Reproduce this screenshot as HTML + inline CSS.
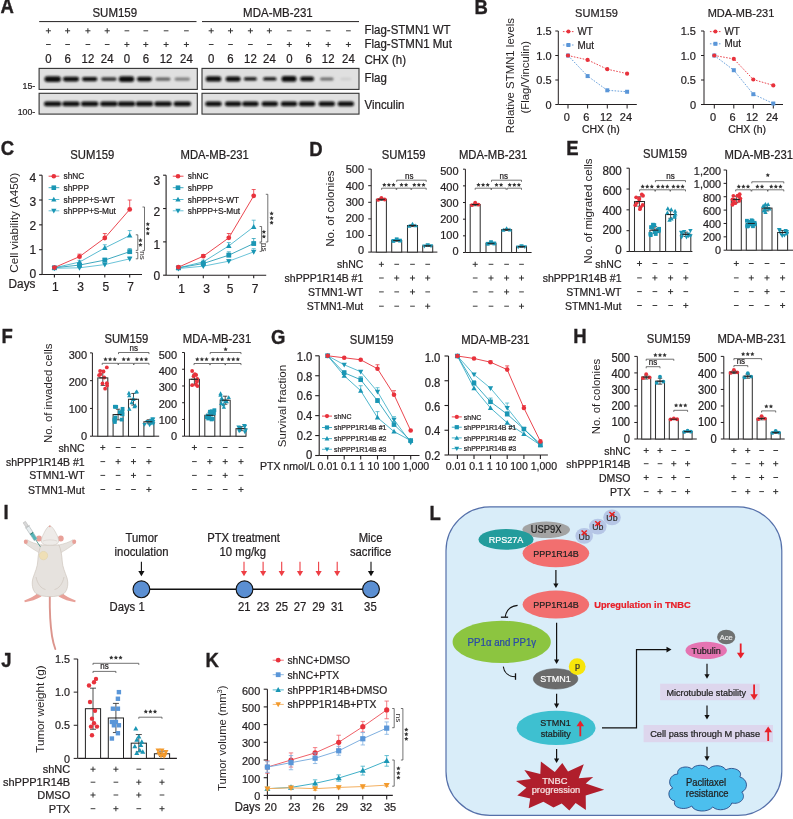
<!DOCTYPE html>
<html><head><meta charset="utf-8"><title>Figure</title>
<style>
html,body{margin:0;padding:0;background:#fff;}
body{width:793px;height:819px;overflow:hidden;}
svg{display:block;font-family:"Liberation Sans", sans-serif;filter:blur(0.35px);}
</style></head><body>
<svg width="793" height="819" viewBox="0 0 793 819">
<defs><filter id="blur1" x="-30%" y="-80%" width="160%" height="260%"><feGaussianBlur stdDeviation="0.8"/></filter></defs>
<rect width="793" height="819" fill="#fff"/>
<text x="0.50" y="12.95" font-size="18.5" text-anchor="start" fill="#231f20" font-weight="bold" transform="matrix(1 0 0 1.07 0 -0.440)" stroke="#231f20" stroke-width="0.35">A</text>
<text x="114.80" y="16.60" font-size="11.5" text-anchor="middle" fill="#231f20" transform="matrix(1 0 0 1.07 0 -0.872)" stroke="#231f20" stroke-width="0.22">SUM159</text>
<line x1="39.20" y1="21.60" x2="196.50" y2="21.60" stroke="#231f20" stroke-width="1"/>
<text x="277.90" y="16.60" font-size="11.5" text-anchor="middle" fill="#231f20" transform="matrix(1 0 0 1.07 0 -0.872)" stroke="#231f20" stroke-width="0.22">MDA-MB-231</text>
<line x1="202.00" y1="21.60" x2="359.00" y2="21.60" stroke="#231f20" stroke-width="1"/>
<line x1="45.85" y1="30.80" x2="50.95" y2="30.80" stroke="#333" stroke-width="1.0"/>
<line x1="48.40" y1="28.25" x2="48.40" y2="33.35" stroke="#333" stroke-width="1.0"/>
<line x1="46.05" y1="44.50" x2="50.75" y2="44.50" stroke="#333" stroke-width="0.95"/>
<text x="48.40" y="63.00" font-size="11.4" text-anchor="middle" fill="#231f20" transform="matrix(1 0 0 1.07 0 -4.123)" stroke="#231f20" stroke-width="0.22">0</text>
<line x1="65.05" y1="30.80" x2="70.15" y2="30.80" stroke="#333" stroke-width="1.0"/>
<line x1="67.60" y1="28.25" x2="67.60" y2="33.35" stroke="#333" stroke-width="1.0"/>
<line x1="65.25" y1="44.50" x2="69.95" y2="44.50" stroke="#333" stroke-width="0.95"/>
<text x="67.60" y="63.00" font-size="11.4" text-anchor="middle" fill="#231f20" transform="matrix(1 0 0 1.07 0 -4.123)" stroke="#231f20" stroke-width="0.22">6</text>
<line x1="85.35" y1="30.80" x2="90.45" y2="30.80" stroke="#333" stroke-width="1.0"/>
<line x1="87.90" y1="28.25" x2="87.90" y2="33.35" stroke="#333" stroke-width="1.0"/>
<line x1="85.55" y1="44.50" x2="90.25" y2="44.50" stroke="#333" stroke-width="0.95"/>
<text x="87.90" y="63.00" font-size="11.4" text-anchor="middle" fill="#231f20" transform="matrix(1 0 0 1.07 0 -4.123)" stroke="#231f20" stroke-width="0.22">12</text>
<line x1="104.65" y1="30.80" x2="109.75" y2="30.80" stroke="#333" stroke-width="1.0"/>
<line x1="107.20" y1="28.25" x2="107.20" y2="33.35" stroke="#333" stroke-width="1.0"/>
<line x1="104.85" y1="44.50" x2="109.55" y2="44.50" stroke="#333" stroke-width="0.95"/>
<text x="107.20" y="63.00" font-size="11.4" text-anchor="middle" fill="#231f20" transform="matrix(1 0 0 1.07 0 -4.123)" stroke="#231f20" stroke-width="0.22">24</text>
<line x1="124.55" y1="30.80" x2="129.25" y2="30.80" stroke="#333" stroke-width="0.95"/>
<line x1="124.35" y1="44.50" x2="129.45" y2="44.50" stroke="#333" stroke-width="1.0"/>
<line x1="126.90" y1="41.95" x2="126.90" y2="47.05" stroke="#333" stroke-width="1.0"/>
<text x="126.90" y="63.00" font-size="11.4" text-anchor="middle" fill="#231f20" transform="matrix(1 0 0 1.07 0 -4.123)" stroke="#231f20" stroke-width="0.22">0</text>
<line x1="143.45" y1="30.80" x2="148.15" y2="30.80" stroke="#333" stroke-width="0.95"/>
<line x1="143.25" y1="44.50" x2="148.35" y2="44.50" stroke="#333" stroke-width="1.0"/>
<line x1="145.80" y1="41.95" x2="145.80" y2="47.05" stroke="#333" stroke-width="1.0"/>
<text x="145.80" y="63.00" font-size="11.4" text-anchor="middle" fill="#231f20" transform="matrix(1 0 0 1.07 0 -4.123)" stroke="#231f20" stroke-width="0.22">6</text>
<line x1="163.75" y1="30.80" x2="168.45" y2="30.80" stroke="#333" stroke-width="0.95"/>
<line x1="163.55" y1="44.50" x2="168.65" y2="44.50" stroke="#333" stroke-width="1.0"/>
<line x1="166.10" y1="41.95" x2="166.10" y2="47.05" stroke="#333" stroke-width="1.0"/>
<text x="166.10" y="63.00" font-size="11.4" text-anchor="middle" fill="#231f20" transform="matrix(1 0 0 1.07 0 -4.123)" stroke="#231f20" stroke-width="0.22">12</text>
<line x1="184.05" y1="30.80" x2="188.75" y2="30.80" stroke="#333" stroke-width="0.95"/>
<line x1="183.85" y1="44.50" x2="188.95" y2="44.50" stroke="#333" stroke-width="1.0"/>
<line x1="186.40" y1="41.95" x2="186.40" y2="47.05" stroke="#333" stroke-width="1.0"/>
<text x="186.40" y="63.00" font-size="11.4" text-anchor="middle" fill="#231f20" transform="matrix(1 0 0 1.07 0 -4.123)" stroke="#231f20" stroke-width="0.22">24</text>
<line x1="208.65" y1="30.80" x2="213.75" y2="30.80" stroke="#333" stroke-width="1.0"/>
<line x1="211.20" y1="28.25" x2="211.20" y2="33.35" stroke="#333" stroke-width="1.0"/>
<line x1="208.85" y1="44.50" x2="213.55" y2="44.50" stroke="#333" stroke-width="0.95"/>
<text x="211.20" y="63.00" font-size="11.4" text-anchor="middle" fill="#231f20" transform="matrix(1 0 0 1.07 0 -4.123)" stroke="#231f20" stroke-width="0.22">0</text>
<line x1="227.95" y1="30.80" x2="233.05" y2="30.80" stroke="#333" stroke-width="1.0"/>
<line x1="230.50" y1="28.25" x2="230.50" y2="33.35" stroke="#333" stroke-width="1.0"/>
<line x1="228.15" y1="44.50" x2="232.85" y2="44.50" stroke="#333" stroke-width="0.95"/>
<text x="230.50" y="63.00" font-size="11.4" text-anchor="middle" fill="#231f20" transform="matrix(1 0 0 1.07 0 -4.123)" stroke="#231f20" stroke-width="0.22">6</text>
<line x1="247.85" y1="30.80" x2="252.95" y2="30.80" stroke="#333" stroke-width="1.0"/>
<line x1="250.40" y1="28.25" x2="250.40" y2="33.35" stroke="#333" stroke-width="1.0"/>
<line x1="248.05" y1="44.50" x2="252.75" y2="44.50" stroke="#333" stroke-width="0.95"/>
<text x="250.40" y="63.00" font-size="11.4" text-anchor="middle" fill="#231f20" transform="matrix(1 0 0 1.07 0 -4.123)" stroke="#231f20" stroke-width="0.22">12</text>
<line x1="266.85" y1="30.80" x2="271.95" y2="30.80" stroke="#333" stroke-width="1.0"/>
<line x1="269.40" y1="28.25" x2="269.40" y2="33.35" stroke="#333" stroke-width="1.0"/>
<line x1="267.05" y1="44.50" x2="271.75" y2="44.50" stroke="#333" stroke-width="0.95"/>
<text x="269.40" y="63.00" font-size="11.4" text-anchor="middle" fill="#231f20" transform="matrix(1 0 0 1.07 0 -4.123)" stroke="#231f20" stroke-width="0.22">24</text>
<line x1="286.95" y1="30.80" x2="291.65" y2="30.80" stroke="#333" stroke-width="0.95"/>
<line x1="286.75" y1="44.50" x2="291.85" y2="44.50" stroke="#333" stroke-width="1.0"/>
<line x1="289.30" y1="41.95" x2="289.30" y2="47.05" stroke="#333" stroke-width="1.0"/>
<text x="289.30" y="63.00" font-size="11.4" text-anchor="middle" fill="#231f20" transform="matrix(1 0 0 1.07 0 -4.123)" stroke="#231f20" stroke-width="0.22">0</text>
<line x1="306.25" y1="30.80" x2="310.95" y2="30.80" stroke="#333" stroke-width="0.95"/>
<line x1="306.05" y1="44.50" x2="311.15" y2="44.50" stroke="#333" stroke-width="1.0"/>
<line x1="308.60" y1="41.95" x2="308.60" y2="47.05" stroke="#333" stroke-width="1.0"/>
<text x="308.60" y="63.00" font-size="11.4" text-anchor="middle" fill="#231f20" transform="matrix(1 0 0 1.07 0 -4.123)" stroke="#231f20" stroke-width="0.22">6</text>
<line x1="325.85" y1="30.80" x2="330.55" y2="30.80" stroke="#333" stroke-width="0.95"/>
<line x1="325.65" y1="44.50" x2="330.75" y2="44.50" stroke="#333" stroke-width="1.0"/>
<line x1="328.20" y1="41.95" x2="328.20" y2="47.05" stroke="#333" stroke-width="1.0"/>
<text x="328.20" y="63.00" font-size="11.4" text-anchor="middle" fill="#231f20" transform="matrix(1 0 0 1.07 0 -4.123)" stroke="#231f20" stroke-width="0.22">12</text>
<line x1="346.05" y1="30.80" x2="350.75" y2="30.80" stroke="#333" stroke-width="0.95"/>
<line x1="345.85" y1="44.50" x2="350.95" y2="44.50" stroke="#333" stroke-width="1.0"/>
<line x1="348.40" y1="41.95" x2="348.40" y2="47.05" stroke="#333" stroke-width="1.0"/>
<text x="348.40" y="63.00" font-size="11.4" text-anchor="middle" fill="#231f20" transform="matrix(1 0 0 1.07 0 -4.123)" stroke="#231f20" stroke-width="0.22">24</text>
<text x="364.50" y="33.70" font-size="11.5" text-anchor="start" fill="#231f20" transform="matrix(1 0 0 1.07 0 -2.069)" stroke="#231f20" stroke-width="0.22">Flag-STMN1 WT</text>
<text x="364.50" y="48.20" font-size="11.5" text-anchor="start" fill="#231f20" transform="matrix(1 0 0 1.07 0 -3.084)" stroke="#231f20" stroke-width="0.22">Flag-STMN1 Mut</text>
<text x="364.50" y="63.60" font-size="11.5" text-anchor="start" fill="#231f20" transform="matrix(1 0 0 1.07 0 -4.162)" stroke="#231f20" stroke-width="0.22">CHX (h)</text>
<text x="364.50" y="82.20" font-size="11.5" text-anchor="start" fill="#231f20" transform="matrix(1 0 0 1.07 0 -5.464)" stroke="#231f20" stroke-width="0.22">Flag</text>
<text x="364.50" y="108.40" font-size="11.5" text-anchor="start" fill="#231f20" transform="matrix(1 0 0 1.07 0 -7.298)" stroke="#231f20" stroke-width="0.22">Vinculin</text>
<text x="35.30" y="88.80" font-size="8.8" text-anchor="end" fill="#231f20" transform="matrix(1 0 0 1.07 0 -5.994)" stroke="#231f20" stroke-width="0.22">15-</text>
<text x="35.30" y="114.40" font-size="8.8" text-anchor="end" fill="#231f20" transform="matrix(1 0 0 1.07 0 -7.786)" stroke="#231f20" stroke-width="0.22">100-</text>
<rect x="39.10" y="68.40" width="158.20" height="21.00" fill="#e0e0e0" stroke="#333" stroke-width="1.1"/>
<rect x="39.10" y="93.30" width="158.20" height="20.80" fill="#e0e0e0" stroke="#333" stroke-width="1.1"/>
<rect x="202.00" y="68.40" width="157.00" height="21.00" fill="#e0e0e0" stroke="#333" stroke-width="1.1"/>
<rect x="202.00" y="93.30" width="157.00" height="20.80" fill="#e0e0e0" stroke="#333" stroke-width="1.1"/>
<rect x="44.45" y="76.20" width="16.50" height="5.80" rx="2.90" fill="rgb(10,10,10)" filter="url(#blur1)"/>
<rect x="205.75" y="76.30" width="15.50" height="5.20" rx="2.60" fill="rgb(10,10,10)" filter="url(#blur1)"/>
<rect x="43.95" y="101.60" width="17.50" height="4.60" rx="2.30" fill="rgb(10,10,10)" filter="url(#blur1)"/>
<rect x="205.25" y="101.50" width="16.50" height="4.80" rx="2.40" fill="rgb(10,10,10)" filter="url(#blur1)"/>
<rect x="62.90" y="76.70" width="16.20" height="4.80" rx="2.40" fill="rgb(10,10,10)" filter="url(#blur1)"/>
<rect x="225.60" y="76.40" width="15.00" height="5.00" rx="2.50" fill="rgb(10,10,10)" filter="url(#blur1)"/>
<rect x="62.25" y="101.60" width="17.50" height="4.60" rx="2.30" fill="rgb(10,10,10)" filter="url(#blur1)"/>
<rect x="224.85" y="101.50" width="16.50" height="4.80" rx="2.40" fill="rgb(10,10,10)" filter="url(#blur1)"/>
<rect x="81.95" y="76.95" width="15.50" height="4.30" rx="2.15" fill="rgb(16,16,16)" filter="url(#blur1)"/>
<rect x="243.90" y="77.20" width="13.00" height="3.40" rx="1.70" fill="rgb(10,10,10)" filter="url(#blur1)"/>
<rect x="80.95" y="101.60" width="17.50" height="4.60" rx="2.30" fill="rgb(10,10,10)" filter="url(#blur1)"/>
<rect x="242.15" y="101.50" width="16.50" height="4.80" rx="2.40" fill="rgb(10,10,10)" filter="url(#blur1)"/>
<rect x="101.15" y="77.30" width="15.50" height="3.60" rx="1.80" fill="rgb(52,52,52)" filter="url(#blur1)"/>
<rect x="263.05" y="77.20" width="13.50" height="3.40" rx="1.70" fill="rgb(14,14,14)" filter="url(#blur1)"/>
<rect x="100.15" y="101.60" width="17.50" height="4.60" rx="2.30" fill="rgb(10,10,10)" filter="url(#blur1)"/>
<rect x="261.55" y="101.50" width="16.50" height="4.80" rx="2.40" fill="rgb(10,10,10)" filter="url(#blur1)"/>
<rect x="118.75" y="76.20" width="15.50" height="5.80" rx="2.90" fill="rgb(10,10,10)" filter="url(#blur1)"/>
<rect x="281.50" y="76.10" width="15.00" height="5.60" rx="2.80" fill="rgb(10,10,10)" filter="url(#blur1)"/>
<rect x="117.75" y="101.60" width="17.50" height="4.60" rx="2.30" fill="rgb(10,10,10)" filter="url(#blur1)"/>
<rect x="280.75" y="101.50" width="16.50" height="4.80" rx="2.40" fill="rgb(10,10,10)" filter="url(#blur1)"/>
<rect x="136.90" y="76.80" width="15.00" height="4.60" rx="2.30" fill="rgb(16,16,16)" filter="url(#blur1)"/>
<rect x="300.10" y="76.50" width="14.00" height="4.80" rx="2.40" fill="rgb(10,10,10)" filter="url(#blur1)"/>
<rect x="135.65" y="101.60" width="17.50" height="4.60" rx="2.30" fill="rgb(10,10,10)" filter="url(#blur1)"/>
<rect x="298.85" y="101.50" width="16.50" height="4.80" rx="2.40" fill="rgb(10,10,10)" filter="url(#blur1)"/>
<rect x="155.50" y="77.40" width="15.00" height="3.40" rx="1.70" fill="rgb(95,95,95)" filter="url(#blur1)"/>
<rect x="320.05" y="77.40" width="13.50" height="3.00" rx="1.50" fill="rgb(105,105,105)" filter="url(#blur1)"/>
<rect x="154.25" y="101.60" width="17.50" height="4.60" rx="2.30" fill="rgb(10,10,10)" filter="url(#blur1)"/>
<rect x="318.55" y="101.50" width="16.50" height="4.80" rx="2.40" fill="rgb(10,10,10)" filter="url(#blur1)"/>
<rect x="174.55" y="77.50" width="15.50" height="3.20" rx="1.60" fill="rgb(127,127,127)" filter="url(#blur1)"/>
<rect x="340.30" y="77.65" width="11.00" height="2.50" rx="1.25" fill="rgb(205,205,205)" filter="url(#blur1)"/>
<rect x="173.55" y="101.60" width="17.50" height="4.60" rx="2.30" fill="rgb(10,10,10)" filter="url(#blur1)"/>
<rect x="337.55" y="101.50" width="16.50" height="4.80" rx="2.40" fill="rgb(10,10,10)" filter="url(#blur1)"/>
<text x="474.60" y="13.35" font-size="18.5" text-anchor="start" fill="#231f20" font-weight="bold" transform="matrix(1 0 0 1.07 0 -0.468)" stroke="#231f20" stroke-width="0.35">B</text>
<text x="513.99" y="75.60" font-size="11.4" text-anchor="middle" fill="#231f20" transform="rotate(-90 513.99 75.60)">Relative STMN1 levels</text>
<text x="528.99" y="77.30" font-size="11.4" text-anchor="middle" fill="#231f20" transform="rotate(-90 528.99 77.30)">(Flag/Vinculin)</text>
<text x="596.50" y="16.60" font-size="11.0" text-anchor="middle" fill="#231f20" transform="matrix(1 0 0 1.07 0 -0.885)" stroke="#231f20" stroke-width="0.22">SUM159</text>
<line x1="558.30" y1="31.00" x2="558.30" y2="104.50" stroke="#231f20" stroke-width="1.0"/>
<line x1="555.30" y1="104.50" x2="558.30" y2="104.50" stroke="#231f20" stroke-width="1.0"/>
<text x="551.60" y="108.46" font-size="11.0" text-anchor="end" fill="#231f20" transform="matrix(1 0 0 1.07 0 -7.315)" stroke="#231f20" stroke-width="0.22">0</text>
<line x1="555.30" y1="80.00" x2="558.30" y2="80.00" stroke="#231f20" stroke-width="1.0"/>
<text x="551.60" y="83.96" font-size="11.0" text-anchor="end" fill="#231f20" transform="matrix(1 0 0 1.07 0 -5.600)" stroke="#231f20" stroke-width="0.22">0.5</text>
<line x1="555.30" y1="55.50" x2="558.30" y2="55.50" stroke="#231f20" stroke-width="1.0"/>
<text x="551.60" y="59.46" font-size="11.0" text-anchor="end" fill="#231f20" transform="matrix(1 0 0 1.07 0 -3.885)" stroke="#231f20" stroke-width="0.22">1.0</text>
<line x1="555.30" y1="31.00" x2="558.30" y2="31.00" stroke="#231f20" stroke-width="1.0"/>
<text x="551.60" y="34.96" font-size="11.0" text-anchor="end" fill="#231f20" transform="matrix(1 0 0 1.07 0 -2.170)" stroke="#231f20" stroke-width="0.22">1.5</text>
<line x1="558.30" y1="104.50" x2="636.80" y2="104.50" stroke="#231f20" stroke-width="1.0"/>
<line x1="568.00" y1="104.50" x2="568.00" y2="108.50" stroke="#231f20" stroke-width="1.0"/>
<line x1="587.60" y1="104.50" x2="587.60" y2="108.50" stroke="#231f20" stroke-width="1.0"/>
<line x1="607.30" y1="104.50" x2="607.30" y2="108.50" stroke="#231f20" stroke-width="1.0"/>
<line x1="627.10" y1="104.50" x2="627.10" y2="108.50" stroke="#231f20" stroke-width="1.0"/>
<text x="566.80" y="120.60" font-size="11.0" text-anchor="middle" fill="#231f20" transform="matrix(1 0 0 1.07 0 -8.165)" stroke="#231f20" stroke-width="0.22">0</text>
<text x="586.40" y="120.60" font-size="11.0" text-anchor="middle" fill="#231f20" transform="matrix(1 0 0 1.07 0 -8.165)" stroke="#231f20" stroke-width="0.22">6</text>
<text x="606.10" y="120.60" font-size="11.0" text-anchor="middle" fill="#231f20" transform="matrix(1 0 0 1.07 0 -8.165)" stroke="#231f20" stroke-width="0.22">12</text>
<text x="625.90" y="120.60" font-size="11.0" text-anchor="middle" fill="#231f20" transform="matrix(1 0 0 1.07 0 -8.165)" stroke="#231f20" stroke-width="0.22">24</text>
<text x="600.85" y="132.60" font-size="10.5" text-anchor="middle" fill="#231f20" transform="matrix(1 0 0 1.07 0 -9.017)" stroke="#231f20" stroke-width="0.22">CHX (h)</text>
<polyline points="568.00,55.50 587.60,76.08 607.30,90.29 627.10,91.76" stroke="#5a96d8" stroke-width="0.9" fill="none" stroke-dasharray="1.6 1.4"/>
<polyline points="568.00,55.50 587.60,59.91 607.30,69.22 627.10,73.63" stroke="#e8323c" stroke-width="0.9" fill="none" stroke-dasharray="1.6 1.4"/>
<rect x="566.00" y="53.50" width="4.00" height="4.00" fill="#5a96d8" stroke="none" stroke-width="1.0"/>
<rect x="585.60" y="74.08" width="4.00" height="4.00" fill="#5a96d8" stroke="none" stroke-width="1.0"/>
<rect x="605.30" y="88.29" width="4.00" height="4.00" fill="#5a96d8" stroke="none" stroke-width="1.0"/>
<rect x="625.10" y="89.76" width="4.00" height="4.00" fill="#5a96d8" stroke="none" stroke-width="1.0"/>
<circle cx="568.00" cy="55.50" r="2.10" fill="#e8323c" stroke="none" stroke-width="1.0"/>
<circle cx="587.60" cy="59.91" r="2.10" fill="#e8323c" stroke="none" stroke-width="1.0"/>
<circle cx="607.30" cy="69.22" r="2.10" fill="#e8323c" stroke="none" stroke-width="1.0"/>
<circle cx="627.10" cy="73.63" r="2.10" fill="#e8323c" stroke="none" stroke-width="1.0"/>
<line x1="562.90" y1="31.60" x2="573.90" y2="31.60" stroke="#e8323c" stroke-width="0.9" stroke-dasharray="1.6 1.4"/>
<circle cx="568.40" cy="31.60" r="2.00" fill="#e8323c" stroke="none" stroke-width="1.0"/>
<text x="577.40" y="34.90" font-size="9.9" text-anchor="start" fill="#231f20" transform="matrix(1 0 0 1.07 0 -2.194)" stroke="#231f20" stroke-width="0.22">WT</text>
<line x1="562.90" y1="45.00" x2="573.90" y2="45.00" stroke="#5a96d8" stroke-width="0.9" stroke-dasharray="1.6 1.4"/>
<rect x="566.40" y="43.00" width="4.00" height="4.00" fill="#5a96d8" stroke="none" stroke-width="1.0"/>
<text x="577.40" y="48.30" font-size="9.9" text-anchor="start" fill="#231f20" transform="matrix(1 0 0 1.07 0 -3.132)" stroke="#231f20" stroke-width="0.22">Mut</text>
<text x="741.00" y="16.60" font-size="11.0" text-anchor="middle" fill="#231f20" transform="matrix(1 0 0 1.07 0 -0.885)" stroke="#231f20" stroke-width="0.22">MDA-MB-231</text>
<line x1="704.00" y1="31.00" x2="704.00" y2="104.50" stroke="#231f20" stroke-width="1.0"/>
<line x1="701.00" y1="104.50" x2="704.00" y2="104.50" stroke="#231f20" stroke-width="1.0"/>
<text x="696.00" y="108.46" font-size="11.0" text-anchor="end" fill="#231f20" transform="matrix(1 0 0 1.07 0 -7.315)" stroke="#231f20" stroke-width="0.22">0</text>
<line x1="701.00" y1="80.00" x2="704.00" y2="80.00" stroke="#231f20" stroke-width="1.0"/>
<text x="696.00" y="83.96" font-size="11.0" text-anchor="end" fill="#231f20" transform="matrix(1 0 0 1.07 0 -5.600)" stroke="#231f20" stroke-width="0.22">0.5</text>
<line x1="701.00" y1="55.50" x2="704.00" y2="55.50" stroke="#231f20" stroke-width="1.0"/>
<text x="696.00" y="59.46" font-size="11.0" text-anchor="end" fill="#231f20" transform="matrix(1 0 0 1.07 0 -3.885)" stroke="#231f20" stroke-width="0.22">1.0</text>
<line x1="701.00" y1="31.00" x2="704.00" y2="31.00" stroke="#231f20" stroke-width="1.0"/>
<text x="696.00" y="34.96" font-size="11.0" text-anchor="end" fill="#231f20" transform="matrix(1 0 0 1.07 0 -2.170)" stroke="#231f20" stroke-width="0.22">1.5</text>
<line x1="704.00" y1="104.50" x2="783.00" y2="104.50" stroke="#231f20" stroke-width="1.0"/>
<line x1="714.30" y1="104.50" x2="714.30" y2="108.50" stroke="#231f20" stroke-width="1.0"/>
<line x1="733.80" y1="104.50" x2="733.80" y2="108.50" stroke="#231f20" stroke-width="1.0"/>
<line x1="753.30" y1="104.50" x2="753.30" y2="108.50" stroke="#231f20" stroke-width="1.0"/>
<line x1="773.30" y1="104.50" x2="773.30" y2="108.50" stroke="#231f20" stroke-width="1.0"/>
<text x="713.10" y="120.60" font-size="11.0" text-anchor="middle" fill="#231f20" transform="matrix(1 0 0 1.07 0 -8.165)" stroke="#231f20" stroke-width="0.22">0</text>
<text x="732.60" y="120.60" font-size="11.0" text-anchor="middle" fill="#231f20" transform="matrix(1 0 0 1.07 0 -8.165)" stroke="#231f20" stroke-width="0.22">6</text>
<text x="752.10" y="120.60" font-size="11.0" text-anchor="middle" fill="#231f20" transform="matrix(1 0 0 1.07 0 -8.165)" stroke="#231f20" stroke-width="0.22">12</text>
<text x="772.10" y="120.60" font-size="11.0" text-anchor="middle" fill="#231f20" transform="matrix(1 0 0 1.07 0 -8.165)" stroke="#231f20" stroke-width="0.22">24</text>
<text x="747.10" y="132.60" font-size="10.5" text-anchor="middle" fill="#231f20" transform="matrix(1 0 0 1.07 0 -9.017)" stroke="#231f20" stroke-width="0.22">CHX (h)</text>
<polyline points="714.30,55.50 733.80,70.20 753.30,94.21 773.30,103.52" stroke="#5a96d8" stroke-width="0.9" fill="none" stroke-dasharray="1.6 1.4"/>
<polyline points="714.30,55.50 733.80,58.93 753.30,79.51 773.30,85.39" stroke="#e8323c" stroke-width="0.9" fill="none" stroke-dasharray="1.6 1.4"/>
<rect x="712.30" y="53.50" width="4.00" height="4.00" fill="#5a96d8" stroke="none" stroke-width="1.0"/>
<rect x="731.80" y="68.20" width="4.00" height="4.00" fill="#5a96d8" stroke="none" stroke-width="1.0"/>
<rect x="751.30" y="92.21" width="4.00" height="4.00" fill="#5a96d8" stroke="none" stroke-width="1.0"/>
<rect x="771.30" y="101.52" width="4.00" height="4.00" fill="#5a96d8" stroke="none" stroke-width="1.0"/>
<circle cx="714.30" cy="55.50" r="2.10" fill="#e8323c" stroke="none" stroke-width="1.0"/>
<circle cx="733.80" cy="58.93" r="2.10" fill="#e8323c" stroke="none" stroke-width="1.0"/>
<circle cx="753.30" cy="79.51" r="2.10" fill="#e8323c" stroke="none" stroke-width="1.0"/>
<circle cx="773.30" cy="85.39" r="2.10" fill="#e8323c" stroke="none" stroke-width="1.0"/>
<line x1="709.90" y1="31.60" x2="720.90" y2="31.60" stroke="#e8323c" stroke-width="0.9" stroke-dasharray="1.6 1.4"/>
<circle cx="715.40" cy="31.60" r="2.00" fill="#e8323c" stroke="none" stroke-width="1.0"/>
<text x="724.40" y="34.90" font-size="9.9" text-anchor="start" fill="#231f20" transform="matrix(1 0 0 1.07 0 -2.194)" stroke="#231f20" stroke-width="0.22">WT</text>
<line x1="709.90" y1="43.80" x2="720.90" y2="43.80" stroke="#5a96d8" stroke-width="0.9" stroke-dasharray="1.6 1.4"/>
<rect x="713.40" y="41.80" width="4.00" height="4.00" fill="#5a96d8" stroke="none" stroke-width="1.0"/>
<text x="724.40" y="47.10" font-size="9.9" text-anchor="start" fill="#231f20" transform="matrix(1 0 0 1.07 0 -3.048)" stroke="#231f20" stroke-width="0.22">Mut</text>
<text x="0.80" y="154.85" font-size="18.5" text-anchor="start" fill="#231f20" font-weight="bold" transform="matrix(1 0 0 1.07 0 -10.373)" stroke="#231f20" stroke-width="0.35">C</text>
<text x="17.89" y="222.80" font-size="11.7" text-anchor="middle" fill="#231f20" transform="rotate(-90 17.89 222.80)">Cell viability (A450)</text>
<text x="8.60" y="287.60" font-size="11.8" text-anchor="start" fill="#231f20" transform="matrix(1 0 0 1.07 0 -19.835)" stroke="#231f20" stroke-width="0.22">Days</text>
<text x="92.30" y="158.60" font-size="11.3" text-anchor="middle" fill="#231f20" transform="matrix(1 0 0 1.07 0 -10.817)" stroke="#231f20" stroke-width="0.22">SUM159</text>
<line x1="42.10" y1="175.20" x2="42.10" y2="274.50" stroke="#231f20" stroke-width="1.1"/>
<line x1="39.10" y1="274.50" x2="42.10" y2="274.50" stroke="#231f20" stroke-width="1.1"/>
<line x1="39.10" y1="249.68" x2="42.10" y2="249.68" stroke="#231f20" stroke-width="1.1"/>
<line x1="39.10" y1="224.85" x2="42.10" y2="224.85" stroke="#231f20" stroke-width="1.1"/>
<line x1="39.10" y1="200.02" x2="42.10" y2="200.02" stroke="#231f20" stroke-width="1.1"/>
<line x1="39.10" y1="175.20" x2="42.10" y2="175.20" stroke="#231f20" stroke-width="1.1"/>
<text x="36.10" y="278.12" font-size="12.0" text-anchor="end" fill="#231f20" transform="matrix(1 0 0 1.07 0 -19.166)" stroke="#231f20" stroke-width="0.22">0</text>
<text x="36.10" y="254.02" font-size="12.0" text-anchor="end" fill="#231f20" transform="matrix(1 0 0 1.07 0 -17.479)" stroke="#231f20" stroke-width="0.22">1</text>
<text x="36.10" y="229.82" font-size="12.0" text-anchor="end" fill="#231f20" transform="matrix(1 0 0 1.07 0 -15.785)" stroke="#231f20" stroke-width="0.22">2</text>
<text x="36.10" y="205.52" font-size="12.0" text-anchor="end" fill="#231f20" transform="matrix(1 0 0 1.07 0 -14.084)" stroke="#231f20" stroke-width="0.22">3</text>
<text x="36.10" y="181.32" font-size="12.0" text-anchor="end" fill="#231f20" transform="matrix(1 0 0 1.07 0 -12.390)" stroke="#231f20" stroke-width="0.22">4</text>
<line x1="42.10" y1="274.50" x2="142.00" y2="274.50" stroke="#231f20" stroke-width="1.1"/>
<line x1="54.40" y1="274.50" x2="54.40" y2="277.50" stroke="#231f20" stroke-width="1.1"/>
<line x1="79.50" y1="274.50" x2="79.50" y2="277.50" stroke="#231f20" stroke-width="1.1"/>
<line x1="104.80" y1="274.50" x2="104.80" y2="277.50" stroke="#231f20" stroke-width="1.1"/>
<line x1="129.70" y1="274.50" x2="129.70" y2="277.50" stroke="#231f20" stroke-width="1.1"/>
<text x="55.40" y="290.30" font-size="12.0" text-anchor="middle" fill="#231f20" transform="matrix(1 0 0 1.07 0 -20.019)" stroke="#231f20" stroke-width="0.22">1</text>
<text x="80.50" y="290.30" font-size="12.0" text-anchor="middle" fill="#231f20" transform="matrix(1 0 0 1.07 0 -20.019)" stroke="#231f20" stroke-width="0.22">3</text>
<text x="105.80" y="290.30" font-size="12.0" text-anchor="middle" fill="#231f20" transform="matrix(1 0 0 1.07 0 -20.019)" stroke="#231f20" stroke-width="0.22">5</text>
<text x="130.70" y="290.30" font-size="12.0" text-anchor="middle" fill="#231f20" transform="matrix(1 0 0 1.07 0 -20.019)" stroke="#231f20" stroke-width="0.22">7</text>
<polyline points="54.40,268.29 79.50,267.80 104.80,264.57 129.70,258.86" stroke="#5abcd4" stroke-width="0.9" fill="none"/>
<line x1="79.50" y1="267.80" x2="79.50" y2="266.80" stroke="#5abcd4" stroke-width="0.8"/>
<line x1="77.50" y1="266.80" x2="81.50" y2="266.80" stroke="#5abcd4" stroke-width="0.8"/>
<line x1="104.80" y1="264.57" x2="104.80" y2="263.33" stroke="#5abcd4" stroke-width="0.8"/>
<line x1="102.80" y1="263.33" x2="106.80" y2="263.33" stroke="#5abcd4" stroke-width="0.8"/>
<line x1="129.70" y1="258.86" x2="129.70" y2="256.87" stroke="#5abcd4" stroke-width="0.8"/>
<line x1="127.70" y1="256.87" x2="131.70" y2="256.87" stroke="#5abcd4" stroke-width="0.8"/>
<polygon points="54.40,271.17 51.64,266.25 57.16,266.25" fill="#1a96b4"/>
<polygon points="79.50,270.68 76.74,265.76 82.26,265.76" fill="#1a96b4"/>
<polygon points="104.80,267.45 102.04,262.53 107.56,262.53" fill="#1a96b4"/>
<polygon points="129.70,261.74 126.94,256.82 132.46,256.82" fill="#1a96b4"/>
<polyline points="54.40,267.80 79.50,262.09 104.80,247.94 129.70,235.52" stroke="#4ab4cc" stroke-width="0.9" fill="none"/>
<line x1="79.50" y1="262.09" x2="79.50" y2="260.35" stroke="#4ab4cc" stroke-width="0.8"/>
<line x1="77.50" y1="260.35" x2="81.50" y2="260.35" stroke="#4ab4cc" stroke-width="0.8"/>
<line x1="104.80" y1="247.94" x2="104.80" y2="244.71" stroke="#4ab4cc" stroke-width="0.8"/>
<line x1="102.80" y1="244.71" x2="106.80" y2="244.71" stroke="#4ab4cc" stroke-width="0.8"/>
<line x1="129.70" y1="235.52" x2="129.70" y2="230.56" stroke="#4ab4cc" stroke-width="0.8"/>
<line x1="127.70" y1="230.56" x2="131.70" y2="230.56" stroke="#4ab4cc" stroke-width="0.8"/>
<polygon points="54.40,264.92 51.64,269.84 57.16,269.84" fill="#1a96b4"/>
<polygon points="79.50,259.21 76.74,264.13 82.26,264.13" fill="#1a96b4"/>
<polygon points="104.80,245.06 102.04,249.98 107.56,249.98" fill="#1a96b4"/>
<polygon points="129.70,232.64 126.94,237.56 132.46,237.56" fill="#1a96b4"/>
<polyline points="54.40,267.80 79.50,265.07 104.80,260.10 129.70,251.66" stroke="#2a9fb8" stroke-width="0.9" fill="none"/>
<line x1="79.50" y1="265.07" x2="79.50" y2="263.58" stroke="#2a9fb8" stroke-width="0.8"/>
<line x1="77.50" y1="263.58" x2="81.50" y2="263.58" stroke="#2a9fb8" stroke-width="0.8"/>
<line x1="104.80" y1="260.10" x2="104.80" y2="258.36" stroke="#2a9fb8" stroke-width="0.8"/>
<line x1="102.80" y1="258.36" x2="106.80" y2="258.36" stroke="#2a9fb8" stroke-width="0.8"/>
<line x1="129.70" y1="251.66" x2="129.70" y2="248.68" stroke="#2a9fb8" stroke-width="0.8"/>
<line x1="127.70" y1="248.68" x2="131.70" y2="248.68" stroke="#2a9fb8" stroke-width="0.8"/>
<rect x="52.00" y="265.40" width="4.80" height="4.80" fill="#1a96b4" stroke="none" stroke-width="1.0"/>
<rect x="77.10" y="262.67" width="4.80" height="4.80" fill="#1a96b4" stroke="none" stroke-width="1.0"/>
<rect x="102.40" y="257.70" width="4.80" height="4.80" fill="#1a96b4" stroke="none" stroke-width="1.0"/>
<rect x="127.30" y="249.26" width="4.80" height="4.80" fill="#1a96b4" stroke="none" stroke-width="1.0"/>
<polyline points="54.40,267.55 79.50,256.63 104.80,238.01 129.70,209.46" stroke="#e8323c" stroke-width="0.9" fill="none"/>
<line x1="79.50" y1="256.63" x2="79.50" y2="254.14" stroke="#e8323c" stroke-width="0.8"/>
<line x1="77.50" y1="254.14" x2="81.50" y2="254.14" stroke="#e8323c" stroke-width="0.8"/>
<line x1="104.80" y1="238.01" x2="104.80" y2="233.54" stroke="#e8323c" stroke-width="0.8"/>
<line x1="102.80" y1="233.54" x2="106.80" y2="233.54" stroke="#e8323c" stroke-width="0.8"/>
<line x1="129.70" y1="209.46" x2="129.70" y2="200.02" stroke="#e8323c" stroke-width="0.8"/>
<line x1="127.70" y1="200.02" x2="131.70" y2="200.02" stroke="#e8323c" stroke-width="0.8"/>
<circle cx="54.40" cy="267.55" r="2.40" fill="#e8323c" stroke="none" stroke-width="1.0"/>
<circle cx="79.50" cy="256.63" r="2.40" fill="#e8323c" stroke="none" stroke-width="1.0"/>
<circle cx="104.80" cy="238.01" r="2.40" fill="#e8323c" stroke="none" stroke-width="1.0"/>
<circle cx="129.70" cy="209.46" r="2.40" fill="#e8323c" stroke="none" stroke-width="1.0"/>
<line x1="48.60" y1="176.20" x2="59.30" y2="176.20" stroke="#e8323c" stroke-width="0.9"/>
<circle cx="53.80" cy="176.20" r="2.30" fill="#e8323c" stroke="none" stroke-width="1.0"/>
<text x="63.60" y="179.10" font-size="8.3" text-anchor="start" fill="#231f20" transform="matrix(1 0 0 1.07 0 -12.328)" stroke="#231f20" stroke-width="0.22">shNC</text>
<line x1="48.60" y1="187.70" x2="59.30" y2="187.70" stroke="#2a9fb8" stroke-width="0.9"/>
<rect x="51.50" y="185.40" width="4.60" height="4.60" fill="#1a96b4" stroke="none" stroke-width="1.0"/>
<text x="63.60" y="190.60" font-size="8.3" text-anchor="start" fill="#231f20" transform="matrix(1 0 0 1.07 0 -13.133)" stroke="#231f20" stroke-width="0.22">shPPP</text>
<line x1="48.60" y1="199.50" x2="59.30" y2="199.50" stroke="#4ab4cc" stroke-width="0.9"/>
<polygon points="53.80,196.74 51.16,201.46 56.44,201.46" fill="#1a96b4"/>
<text x="63.60" y="202.40" font-size="8.3" text-anchor="start" fill="#231f20" transform="matrix(1 0 0 1.07 0 -13.959)" stroke="#231f20" stroke-width="0.22">shPPP+S-WT</text>
<line x1="48.60" y1="210.80" x2="59.30" y2="210.80" stroke="#5abcd4" stroke-width="0.9"/>
<polygon points="53.80,213.56 51.16,208.84 56.44,208.84" fill="#1a96b4"/>
<text x="63.60" y="213.70" font-size="8.3" text-anchor="start" fill="#231f20" transform="matrix(1 0 0 1.07 0 -14.750)" stroke="#231f20" stroke-width="0.22">shPPP+S-Mut</text>
<polyline points="142.50,207.00 144.50,207.00 144.50,250.60 142.50,250.60" stroke="#444" stroke-width="0.75" fill="none"/>
<polygon points="147.80,221.95 148.46,223.29 149.94,223.50 148.87,224.55 149.12,226.02 147.80,225.33 146.48,226.02 146.73,224.55 145.66,223.50 147.14,223.29" fill="#333"/>
<polygon points="147.80,226.55 148.46,227.89 149.94,228.10 148.87,229.15 149.12,230.62 147.80,229.93 146.48,230.62 146.73,229.15 145.66,228.10 147.14,227.89" fill="#333"/>
<polygon points="147.80,231.15 148.46,232.49 149.94,232.70 148.87,233.75 149.12,235.22 147.80,234.53 146.48,235.22 146.73,233.75 145.66,232.70 147.14,232.49" fill="#333"/>
<polyline points="135.80,234.80 137.80,234.80 137.80,250.40 135.80,250.40" stroke="#444" stroke-width="0.75" fill="none"/>
<polygon points="140.40,238.05 141.06,239.39 142.54,239.60 141.47,240.65 141.72,242.12 140.40,241.43 139.08,242.12 139.33,240.65 138.26,239.60 139.74,239.39" fill="#333"/>
<polygon points="140.40,242.65 141.06,243.99 142.54,244.20 141.47,245.25 141.72,246.72 140.40,246.03 139.08,246.72 139.33,245.25 138.26,244.20 139.74,243.99" fill="#333"/>
<polyline points="135.80,252.40 137.80,252.40 137.80,258.80 135.80,258.80" stroke="#444" stroke-width="0.75" fill="none"/>
<text x="139.52" y="255.60" font-size="8.0" text-anchor="middle" fill="#231f20" transform="rotate(90 139.52 255.60)">ns</text>
<text x="214.70" y="158.60" font-size="11.3" text-anchor="middle" fill="#231f20" transform="matrix(1 0 0 1.07 0 -10.817)" stroke="#231f20" stroke-width="0.22">MDA-MB-231</text>
<line x1="166.10" y1="175.20" x2="166.10" y2="275.20" stroke="#231f20" stroke-width="1.1"/>
<line x1="163.10" y1="275.20" x2="166.10" y2="275.20" stroke="#231f20" stroke-width="1.1"/>
<line x1="163.10" y1="241.87" x2="166.10" y2="241.87" stroke="#231f20" stroke-width="1.1"/>
<line x1="163.10" y1="208.53" x2="166.10" y2="208.53" stroke="#231f20" stroke-width="1.1"/>
<line x1="163.10" y1="175.20" x2="166.10" y2="175.20" stroke="#231f20" stroke-width="1.1"/>
<text x="160.10" y="279.82" font-size="12.0" text-anchor="end" fill="#231f20" transform="matrix(1 0 0 1.07 0 -19.285)" stroke="#231f20" stroke-width="0.22">0</text>
<text x="160.10" y="248.22" font-size="12.0" text-anchor="end" fill="#231f20" transform="matrix(1 0 0 1.07 0 -17.073)" stroke="#231f20" stroke-width="0.22">1</text>
<text x="160.10" y="215.92" font-size="12.0" text-anchor="end" fill="#231f20" transform="matrix(1 0 0 1.07 0 -14.812)" stroke="#231f20" stroke-width="0.22">2</text>
<text x="160.10" y="184.92" font-size="12.0" text-anchor="end" fill="#231f20" transform="matrix(1 0 0 1.07 0 -12.642)" stroke="#231f20" stroke-width="0.22">3</text>
<line x1="166.10" y1="275.20" x2="266.20" y2="275.20" stroke="#231f20" stroke-width="1.1"/>
<line x1="178.40" y1="275.20" x2="178.40" y2="278.20" stroke="#231f20" stroke-width="1.1"/>
<line x1="203.30" y1="275.20" x2="203.30" y2="278.20" stroke="#231f20" stroke-width="1.1"/>
<line x1="228.80" y1="275.20" x2="228.80" y2="278.20" stroke="#231f20" stroke-width="1.1"/>
<line x1="253.70" y1="275.20" x2="253.70" y2="278.20" stroke="#231f20" stroke-width="1.1"/>
<text x="181.60" y="292.90" font-size="12.0" text-anchor="middle" fill="#231f20" transform="matrix(1 0 0 1.07 0 -20.201)" stroke="#231f20" stroke-width="0.22">1</text>
<text x="206.50" y="292.90" font-size="12.0" text-anchor="middle" fill="#231f20" transform="matrix(1 0 0 1.07 0 -20.201)" stroke="#231f20" stroke-width="0.22">3</text>
<text x="230.20" y="292.90" font-size="12.0" text-anchor="middle" fill="#231f20" transform="matrix(1 0 0 1.07 0 -20.201)" stroke="#231f20" stroke-width="0.22">5</text>
<text x="255.10" y="292.90" font-size="12.0" text-anchor="middle" fill="#231f20" transform="matrix(1 0 0 1.07 0 -20.201)" stroke="#231f20" stroke-width="0.22">7</text>
<polyline points="178.40,268.53 203.30,266.20 228.80,261.20 253.70,251.87" stroke="#5abcd4" stroke-width="0.9" fill="none"/>
<line x1="228.80" y1="261.20" x2="228.80" y2="259.53" stroke="#5abcd4" stroke-width="0.8"/>
<line x1="226.80" y1="259.53" x2="230.80" y2="259.53" stroke="#5abcd4" stroke-width="0.8"/>
<line x1="253.70" y1="251.87" x2="253.70" y2="248.53" stroke="#5abcd4" stroke-width="0.8"/>
<line x1="251.70" y1="248.53" x2="255.70" y2="248.53" stroke="#5abcd4" stroke-width="0.8"/>
<polygon points="178.40,271.41 175.64,266.49 181.16,266.49" fill="#1a96b4"/>
<polygon points="203.30,269.08 200.54,264.16 206.06,264.16" fill="#1a96b4"/>
<polygon points="228.80,264.08 226.04,259.16 231.56,259.16" fill="#1a96b4"/>
<polygon points="253.70,254.75 250.94,249.83 256.46,249.83" fill="#1a96b4"/>
<polyline points="178.40,267.87 203.30,261.87 228.80,245.87 253.70,226.87" stroke="#4ab4cc" stroke-width="0.9" fill="none"/>
<line x1="203.30" y1="261.87" x2="203.30" y2="260.20" stroke="#4ab4cc" stroke-width="0.8"/>
<line x1="201.30" y1="260.20" x2="205.30" y2="260.20" stroke="#4ab4cc" stroke-width="0.8"/>
<line x1="228.80" y1="245.87" x2="228.80" y2="242.53" stroke="#4ab4cc" stroke-width="0.8"/>
<line x1="226.80" y1="242.53" x2="230.80" y2="242.53" stroke="#4ab4cc" stroke-width="0.8"/>
<line x1="253.70" y1="226.87" x2="253.70" y2="220.20" stroke="#4ab4cc" stroke-width="0.8"/>
<line x1="251.70" y1="220.20" x2="255.70" y2="220.20" stroke="#4ab4cc" stroke-width="0.8"/>
<polygon points="178.40,264.99 175.64,269.91 181.16,269.91" fill="#1a96b4"/>
<polygon points="203.30,258.99 200.54,263.91 206.06,263.91" fill="#1a96b4"/>
<polygon points="228.80,242.99 226.04,247.91 231.56,247.91" fill="#1a96b4"/>
<polygon points="253.70,223.99 250.94,228.91 256.46,228.91" fill="#1a96b4"/>
<polyline points="178.40,267.87 203.30,263.53 228.80,255.20 253.70,243.53" stroke="#2a9fb8" stroke-width="0.9" fill="none"/>
<line x1="203.30" y1="263.53" x2="203.30" y2="261.87" stroke="#2a9fb8" stroke-width="0.8"/>
<line x1="201.30" y1="261.87" x2="205.30" y2="261.87" stroke="#2a9fb8" stroke-width="0.8"/>
<line x1="228.80" y1="255.20" x2="228.80" y2="251.87" stroke="#2a9fb8" stroke-width="0.8"/>
<line x1="226.80" y1="251.87" x2="230.80" y2="251.87" stroke="#2a9fb8" stroke-width="0.8"/>
<line x1="253.70" y1="243.53" x2="253.70" y2="238.53" stroke="#2a9fb8" stroke-width="0.8"/>
<line x1="251.70" y1="238.53" x2="255.70" y2="238.53" stroke="#2a9fb8" stroke-width="0.8"/>
<rect x="176.00" y="265.47" width="4.80" height="4.80" fill="#1a96b4" stroke="none" stroke-width="1.0"/>
<rect x="200.90" y="261.13" width="4.80" height="4.80" fill="#1a96b4" stroke="none" stroke-width="1.0"/>
<rect x="226.40" y="252.80" width="4.80" height="4.80" fill="#1a96b4" stroke="none" stroke-width="1.0"/>
<rect x="251.30" y="241.13" width="4.80" height="4.80" fill="#1a96b4" stroke="none" stroke-width="1.0"/>
<polyline points="178.40,267.20 203.30,256.20 228.80,237.87 253.70,195.87" stroke="#e8323c" stroke-width="0.9" fill="none"/>
<line x1="203.30" y1="256.20" x2="203.30" y2="254.53" stroke="#e8323c" stroke-width="0.8"/>
<line x1="201.30" y1="254.53" x2="205.30" y2="254.53" stroke="#e8323c" stroke-width="0.8"/>
<line x1="228.80" y1="237.87" x2="228.80" y2="233.53" stroke="#e8323c" stroke-width="0.8"/>
<line x1="226.80" y1="233.53" x2="230.80" y2="233.53" stroke="#e8323c" stroke-width="0.8"/>
<line x1="253.70" y1="195.87" x2="253.70" y2="189.53" stroke="#e8323c" stroke-width="0.8"/>
<line x1="251.70" y1="189.53" x2="255.70" y2="189.53" stroke="#e8323c" stroke-width="0.8"/>
<circle cx="178.40" cy="267.20" r="2.40" fill="#e8323c" stroke="none" stroke-width="1.0"/>
<circle cx="203.30" cy="256.20" r="2.40" fill="#e8323c" stroke="none" stroke-width="1.0"/>
<circle cx="228.80" cy="237.87" r="2.40" fill="#e8323c" stroke="none" stroke-width="1.0"/>
<circle cx="253.70" cy="195.87" r="2.40" fill="#e8323c" stroke="none" stroke-width="1.0"/>
<line x1="172.80" y1="176.20" x2="183.50" y2="176.20" stroke="#e8323c" stroke-width="0.9"/>
<circle cx="178.00" cy="176.20" r="2.30" fill="#e8323c" stroke="none" stroke-width="1.0"/>
<text x="187.80" y="179.10" font-size="8.3" text-anchor="start" fill="#231f20" transform="matrix(1 0 0 1.07 0 -12.328)" stroke="#231f20" stroke-width="0.22">shNC</text>
<line x1="172.80" y1="187.70" x2="183.50" y2="187.70" stroke="#2a9fb8" stroke-width="0.9"/>
<rect x="175.70" y="185.40" width="4.60" height="4.60" fill="#1a96b4" stroke="none" stroke-width="1.0"/>
<text x="187.80" y="190.60" font-size="8.3" text-anchor="start" fill="#231f20" transform="matrix(1 0 0 1.07 0 -13.133)" stroke="#231f20" stroke-width="0.22">shPPP</text>
<line x1="172.80" y1="199.50" x2="183.50" y2="199.50" stroke="#4ab4cc" stroke-width="0.9"/>
<polygon points="178.00,196.74 175.35,201.46 180.65,201.46" fill="#1a96b4"/>
<text x="187.80" y="202.40" font-size="8.3" text-anchor="start" fill="#231f20" transform="matrix(1 0 0 1.07 0 -13.959)" stroke="#231f20" stroke-width="0.22">shPPP+S-WT</text>
<line x1="172.80" y1="210.80" x2="183.50" y2="210.80" stroke="#5abcd4" stroke-width="0.9"/>
<polygon points="178.00,213.56 175.35,208.84 180.65,208.84" fill="#1a96b4"/>
<text x="187.80" y="213.70" font-size="8.3" text-anchor="start" fill="#231f20" transform="matrix(1 0 0 1.07 0 -14.750)" stroke="#231f20" stroke-width="0.22">shPPP+S-Mut</text>
<polyline points="265.80,194.30 267.80,194.30 267.80,242.00 265.80,242.00" stroke="#444" stroke-width="0.75" fill="none"/>
<polygon points="271.60,211.30 272.26,212.64 273.74,212.85 272.67,213.90 272.92,215.37 271.60,214.68 270.28,215.37 270.53,213.90 269.46,212.85 270.94,212.64" fill="#333"/>
<polygon points="271.60,215.90 272.26,217.24 273.74,217.45 272.67,218.50 272.92,219.97 271.60,219.28 270.28,219.97 270.53,218.50 269.46,217.45 270.94,217.24" fill="#333"/>
<polygon points="271.60,220.50 272.26,221.84 273.74,222.05 272.67,223.10 272.92,224.57 271.60,223.88 270.28,224.57 270.53,223.10 269.46,222.05 270.94,221.84" fill="#333"/>
<polyline points="259.60,226.50 261.60,226.50 261.60,242.00 259.60,242.00" stroke="#444" stroke-width="0.75" fill="none"/>
<polygon points="263.90,229.70 264.56,231.04 266.04,231.25 264.97,232.30 265.22,233.77 263.90,233.07 262.58,233.77 262.83,232.30 261.76,231.25 263.24,231.04" fill="#333"/>
<polygon points="263.90,234.30 264.56,235.64 266.04,235.85 264.97,236.90 265.22,238.37 263.90,237.68 262.58,238.37 262.83,236.90 261.76,235.85 263.24,235.64" fill="#333"/>
<polyline points="259.60,243.00 261.60,243.00 261.60,251.40 259.60,251.40" stroke="#444" stroke-width="0.75" fill="none"/>
<text x="261.82" y="247.20" font-size="8.0" text-anchor="middle" fill="#231f20" transform="rotate(90 261.82 247.20)">ns</text>
<text x="309.30" y="155.85" font-size="18.5" text-anchor="start" fill="#231f20" font-weight="bold" transform="matrix(1 0 0 1.07 0 -10.443)" stroke="#231f20" stroke-width="0.35">D</text>
<text x="333.94" y="208.60" font-size="11.55" text-anchor="middle" fill="#231f20" transform="rotate(-90 333.94 208.60)">No. of colonies</text>
<line x1="371.20" y1="169.10" x2="371.20" y2="252.10" stroke="#231f20" stroke-width="1.0"/>
<line x1="368.20" y1="252.10" x2="371.20" y2="252.10" stroke="#231f20" stroke-width="1.0"/>
<text x="364.10" y="253.86" font-size="11.0" text-anchor="end" fill="#231f20" transform="matrix(1 0 0 1.07 0 -17.493)" stroke="#231f20" stroke-width="0.22">0</text>
<line x1="368.20" y1="235.50" x2="371.20" y2="235.50" stroke="#231f20" stroke-width="1.0"/>
<text x="364.10" y="237.72" font-size="11.0" text-anchor="end" fill="#231f20" transform="matrix(1 0 0 1.07 0 -16.363)" stroke="#231f20" stroke-width="0.22">100</text>
<line x1="368.20" y1="218.90" x2="371.20" y2="218.90" stroke="#231f20" stroke-width="1.0"/>
<text x="364.10" y="221.58" font-size="11.0" text-anchor="end" fill="#231f20" transform="matrix(1 0 0 1.07 0 -15.233)" stroke="#231f20" stroke-width="0.22">200</text>
<line x1="368.20" y1="202.30" x2="371.20" y2="202.30" stroke="#231f20" stroke-width="1.0"/>
<text x="364.10" y="205.44" font-size="11.0" text-anchor="end" fill="#231f20" transform="matrix(1 0 0 1.07 0 -14.104)" stroke="#231f20" stroke-width="0.22">300</text>
<line x1="368.20" y1="185.70" x2="371.20" y2="185.70" stroke="#231f20" stroke-width="1.0"/>
<text x="364.10" y="189.30" font-size="11.0" text-anchor="end" fill="#231f20" transform="matrix(1 0 0 1.07 0 -12.974)" stroke="#231f20" stroke-width="0.22">400</text>
<line x1="368.20" y1="169.10" x2="371.20" y2="169.10" stroke="#231f20" stroke-width="1.0"/>
<text x="364.10" y="173.16" font-size="11.0" text-anchor="end" fill="#231f20" transform="matrix(1 0 0 1.07 0 -11.844)" stroke="#231f20" stroke-width="0.22">500</text>
<line x1="371.20" y1="252.10" x2="437.40" y2="252.10" stroke="#231f20" stroke-width="1.0"/>
<text x="403.70" y="159.10" font-size="11.3" text-anchor="middle" fill="#231f20" transform="matrix(1 0 0 1.07 0 -10.852)" stroke="#231f20" stroke-width="0.22">SUM159</text>
<rect x="376.40" y="199.31" width="10.00" height="52.79" fill="#fff" stroke="#333" stroke-width="1.05"/>
<line x1="381.40" y1="198.32" x2="381.40" y2="200.31" stroke="#222" stroke-width="0.8"/>
<line x1="379.20" y1="198.32" x2="383.60" y2="198.32" stroke="#222" stroke-width="0.8"/>
<line x1="379.20" y1="200.31" x2="383.60" y2="200.31" stroke="#222" stroke-width="0.8"/>
<circle cx="378.10" cy="199.89" r="1.90" fill="#e8323c" stroke="none" stroke-width="1.0"/>
<circle cx="381.40" cy="197.82" r="1.90" fill="#e8323c" stroke="none" stroke-width="1.0"/>
<circle cx="384.70" cy="199.48" r="1.90" fill="#e8323c" stroke="none" stroke-width="1.0"/>
<line x1="377.90" y1="199.31" x2="384.90" y2="199.31" stroke="#222" stroke-width="1.0"/>
<rect x="391.70" y="240.48" width="10.00" height="11.62" fill="#fff" stroke="#333" stroke-width="1.05"/>
<line x1="396.70" y1="239.68" x2="396.70" y2="241.28" stroke="#222" stroke-width="0.8"/>
<line x1="394.50" y1="239.68" x2="398.90" y2="239.68" stroke="#222" stroke-width="0.8"/>
<line x1="394.50" y1="241.28" x2="398.90" y2="241.28" stroke="#222" stroke-width="0.8"/>
<rect x="391.50" y="239.04" width="3.80" height="3.80" fill="#1a96b4" stroke="none" stroke-width="1.0"/>
<rect x="394.80" y="237.38" width="3.80" height="3.80" fill="#1a96b4" stroke="none" stroke-width="1.0"/>
<rect x="398.10" y="238.71" width="3.80" height="3.80" fill="#1a96b4" stroke="none" stroke-width="1.0"/>
<line x1="393.20" y1="240.48" x2="400.20" y2="240.48" stroke="#222" stroke-width="1.0"/>
<rect x="407.50" y="225.54" width="10.00" height="26.56" fill="#fff" stroke="#333" stroke-width="1.05"/>
<line x1="412.50" y1="224.54" x2="412.50" y2="226.54" stroke="#222" stroke-width="0.8"/>
<line x1="410.30" y1="224.54" x2="414.70" y2="224.54" stroke="#222" stroke-width="0.8"/>
<line x1="410.30" y1="226.54" x2="414.70" y2="226.54" stroke="#222" stroke-width="0.8"/>
<polygon points="409.20,223.84 407.01,227.74 411.38,227.74" fill="#1a96b4"/>
<polygon points="412.50,221.77 410.31,225.66 414.69,225.66" fill="#1a96b4"/>
<polygon points="415.80,223.43 413.62,227.32 417.99,227.32" fill="#1a96b4"/>
<line x1="409.00" y1="225.54" x2="416.00" y2="225.54" stroke="#222" stroke-width="1.0"/>
<rect x="422.70" y="245.79" width="10.00" height="6.31" fill="#fff" stroke="#333" stroke-width="1.05"/>
<line x1="427.70" y1="245.19" x2="427.70" y2="246.39" stroke="#222" stroke-width="0.8"/>
<line x1="425.50" y1="245.19" x2="429.90" y2="245.19" stroke="#222" stroke-width="0.8"/>
<line x1="425.50" y1="246.39" x2="429.90" y2="246.39" stroke="#222" stroke-width="0.8"/>
<polygon points="424.40,248.42 422.21,244.53 426.58,244.53" fill="#1a96b4"/>
<polygon points="427.70,247.18 425.51,243.28 429.88,243.28" fill="#1a96b4"/>
<polygon points="431.00,248.17 428.81,244.28 433.19,244.28" fill="#1a96b4"/>
<line x1="424.20" y1="245.79" x2="431.20" y2="245.79" stroke="#222" stroke-width="1.0"/>
<polyline points="381.60,189.80 381.60,188.20 396.20,188.20 396.20,189.80" stroke="#444" stroke-width="0.75" fill="none"/>
<polygon points="384.30,182.75 384.96,184.09 386.44,184.30 385.37,185.35 385.62,186.82 384.30,186.12 382.98,186.82 383.23,185.35 382.16,184.30 383.64,184.09" fill="#333"/>
<polygon points="388.90,182.75 389.56,184.09 391.04,184.30 389.97,185.35 390.22,186.82 388.90,186.12 387.58,186.82 387.83,185.35 386.76,184.30 388.24,184.09" fill="#333"/>
<polygon points="393.50,182.75 394.16,184.09 395.64,184.30 394.57,185.35 394.82,186.82 393.50,186.12 392.18,186.82 392.43,185.35 391.36,184.30 392.84,184.09" fill="#333"/>
<polyline points="396.70,189.80 396.70,188.20 410.90,188.20 410.90,189.80" stroke="#444" stroke-width="0.75" fill="none"/>
<polygon points="401.50,182.75 402.16,184.09 403.64,184.30 402.57,185.35 402.82,186.82 401.50,186.12 400.18,186.82 400.43,185.35 399.36,184.30 400.84,184.09" fill="#333"/>
<polygon points="406.10,182.75 406.76,184.09 408.24,184.30 407.17,185.35 407.42,186.82 406.10,186.12 404.78,186.82 405.03,185.35 403.96,184.30 405.44,184.09" fill="#333"/>
<polyline points="411.60,189.80 411.60,188.20 426.20,188.20 426.20,189.80" stroke="#444" stroke-width="0.75" fill="none"/>
<polygon points="414.30,182.75 414.96,184.09 416.44,184.30 415.37,185.35 415.62,186.82 414.30,186.12 412.98,186.82 413.23,185.35 412.16,184.30 413.64,184.09" fill="#333"/>
<polygon points="418.90,182.75 419.56,184.09 421.04,184.30 419.97,185.35 420.22,186.82 418.90,186.12 417.58,186.82 417.83,185.35 416.76,184.30 418.24,184.09" fill="#333"/>
<polygon points="423.50,182.75 424.16,184.09 425.64,184.30 424.57,185.35 424.82,186.82 423.50,186.12 422.18,186.82 422.43,185.35 421.36,184.30 422.84,184.09" fill="#333"/>
<polyline points="396.70,181.80 396.70,180.20 426.20,180.20 426.20,181.80" stroke="#444" stroke-width="0.75" fill="none"/>
<text x="409.25" y="178.68" font-size="8.0" text-anchor="middle" fill="#231f20" transform="matrix(1 0 0 1.07 0 -12.306)" stroke="#231f20" stroke-width="0.22">ns</text>
<line x1="465.40" y1="169.20" x2="465.40" y2="252.50" stroke="#231f20" stroke-width="1.0"/>
<line x1="463.00" y1="252.50" x2="465.40" y2="252.50" stroke="#231f20" stroke-width="1.0"/>
<text x="458.50" y="254.96" font-size="11.0" text-anchor="end" fill="#231f20" transform="matrix(1 0 0 1.07 0 -17.570)" stroke="#231f20" stroke-width="0.22">0</text>
<line x1="463.00" y1="235.84" x2="465.40" y2="235.84" stroke="#231f20" stroke-width="1.0"/>
<text x="458.50" y="238.82" font-size="11.0" text-anchor="end" fill="#231f20" transform="matrix(1 0 0 1.07 0 -16.440)" stroke="#231f20" stroke-width="0.22">100</text>
<line x1="463.00" y1="219.18" x2="465.40" y2="219.18" stroke="#231f20" stroke-width="1.0"/>
<text x="458.50" y="222.68" font-size="11.0" text-anchor="end" fill="#231f20" transform="matrix(1 0 0 1.07 0 -15.310)" stroke="#231f20" stroke-width="0.22">200</text>
<line x1="463.00" y1="202.52" x2="465.40" y2="202.52" stroke="#231f20" stroke-width="1.0"/>
<text x="458.50" y="206.54" font-size="11.0" text-anchor="end" fill="#231f20" transform="matrix(1 0 0 1.07 0 -14.181)" stroke="#231f20" stroke-width="0.22">300</text>
<line x1="463.00" y1="185.86" x2="465.40" y2="185.86" stroke="#231f20" stroke-width="1.0"/>
<text x="458.50" y="190.40" font-size="11.0" text-anchor="end" fill="#231f20" transform="matrix(1 0 0 1.07 0 -13.051)" stroke="#231f20" stroke-width="0.22">400</text>
<line x1="463.00" y1="169.20" x2="465.40" y2="169.20" stroke="#231f20" stroke-width="1.0"/>
<text x="458.50" y="174.26" font-size="11.0" text-anchor="end" fill="#231f20" transform="matrix(1 0 0 1.07 0 -11.921)" stroke="#231f20" stroke-width="0.22">500</text>
<line x1="465.40" y1="252.50" x2="531.60" y2="252.50" stroke="#231f20" stroke-width="1.0"/>
<text x="493.10" y="159.10" font-size="11.3" text-anchor="middle" fill="#231f20" transform="matrix(1 0 0 1.07 0 -10.852)" stroke="#231f20" stroke-width="0.22">MDA-MB-231</text>
<rect x="470.20" y="204.52" width="10.00" height="47.98" fill="#fff" stroke="#333" stroke-width="1.05"/>
<line x1="475.20" y1="203.32" x2="475.20" y2="205.72" stroke="#222" stroke-width="0.8"/>
<line x1="473.00" y1="203.32" x2="477.40" y2="203.32" stroke="#222" stroke-width="0.8"/>
<line x1="473.00" y1="205.72" x2="477.40" y2="205.72" stroke="#222" stroke-width="0.8"/>
<circle cx="471.90" cy="205.22" r="1.90" fill="#e8323c" stroke="none" stroke-width="1.0"/>
<circle cx="475.20" cy="202.72" r="1.90" fill="#e8323c" stroke="none" stroke-width="1.0"/>
<circle cx="478.50" cy="204.72" r="1.90" fill="#e8323c" stroke="none" stroke-width="1.0"/>
<line x1="471.70" y1="204.52" x2="478.70" y2="204.52" stroke="#222" stroke-width="1.0"/>
<rect x="486.00" y="243.34" width="10.00" height="9.16" fill="#fff" stroke="#333" stroke-width="1.05"/>
<line x1="491.00" y1="242.54" x2="491.00" y2="244.14" stroke="#222" stroke-width="0.8"/>
<line x1="488.80" y1="242.54" x2="493.20" y2="242.54" stroke="#222" stroke-width="0.8"/>
<line x1="488.80" y1="244.14" x2="493.20" y2="244.14" stroke="#222" stroke-width="0.8"/>
<rect x="485.80" y="241.90" width="3.80" height="3.80" fill="#1a96b4" stroke="none" stroke-width="1.0"/>
<rect x="489.10" y="240.24" width="3.80" height="3.80" fill="#1a96b4" stroke="none" stroke-width="1.0"/>
<rect x="492.40" y="241.57" width="3.80" height="3.80" fill="#1a96b4" stroke="none" stroke-width="1.0"/>
<line x1="487.50" y1="243.34" x2="494.50" y2="243.34" stroke="#222" stroke-width="1.0"/>
<rect x="501.60" y="229.68" width="10.00" height="22.82" fill="#fff" stroke="#333" stroke-width="1.05"/>
<line x1="506.60" y1="228.88" x2="506.60" y2="230.48" stroke="#222" stroke-width="0.8"/>
<line x1="504.40" y1="228.88" x2="508.80" y2="228.88" stroke="#222" stroke-width="0.8"/>
<line x1="504.40" y1="230.48" x2="508.80" y2="230.48" stroke="#222" stroke-width="0.8"/>
<polygon points="503.30,227.86 501.12,231.76 505.49,231.76" fill="#1a96b4"/>
<polygon points="506.60,226.20 504.42,230.09 508.79,230.09" fill="#1a96b4"/>
<polygon points="509.90,227.53 507.72,231.42 512.09,231.42" fill="#1a96b4"/>
<line x1="503.10" y1="229.68" x2="510.10" y2="229.68" stroke="#222" stroke-width="1.0"/>
<rect x="516.50" y="246.67" width="10.00" height="5.83" fill="#fff" stroke="#333" stroke-width="1.05"/>
<line x1="521.50" y1="246.07" x2="521.50" y2="247.27" stroke="#222" stroke-width="0.8"/>
<line x1="519.30" y1="246.07" x2="523.70" y2="246.07" stroke="#222" stroke-width="0.8"/>
<line x1="519.30" y1="247.27" x2="523.70" y2="247.27" stroke="#222" stroke-width="0.8"/>
<polygon points="518.20,249.30 516.02,245.40 520.38,245.40" fill="#1a96b4"/>
<polygon points="521.50,248.05 519.32,244.15 523.68,244.15" fill="#1a96b4"/>
<polygon points="524.80,249.05 522.62,245.15 526.98,245.15" fill="#1a96b4"/>
<line x1="518.00" y1="246.67" x2="525.00" y2="246.67" stroke="#222" stroke-width="1.0"/>
<polyline points="475.20,189.80 475.20,188.20 491.00,188.20 491.00,189.80" stroke="#444" stroke-width="0.75" fill="none"/>
<polygon points="478.50,182.75 479.16,184.09 480.64,184.30 479.57,185.35 479.82,186.82 478.50,186.12 477.18,186.82 477.43,185.35 476.36,184.30 477.84,184.09" fill="#333"/>
<polygon points="483.10,182.75 483.76,184.09 485.24,184.30 484.17,185.35 484.42,186.82 483.10,186.12 481.78,186.82 482.03,185.35 480.96,184.30 482.44,184.09" fill="#333"/>
<polygon points="487.70,182.75 488.36,184.09 489.84,184.30 488.77,185.35 489.02,186.82 487.70,186.12 486.38,186.82 486.63,185.35 485.56,184.30 487.04,184.09" fill="#333"/>
<polyline points="491.50,189.80 491.50,188.20 506.10,188.20 506.10,189.80" stroke="#444" stroke-width="0.75" fill="none"/>
<polygon points="496.50,182.75 497.16,184.09 498.64,184.30 497.57,185.35 497.82,186.82 496.50,186.12 495.18,186.82 495.43,185.35 494.36,184.30 495.84,184.09" fill="#333"/>
<polygon points="501.10,182.75 501.76,184.09 503.24,184.30 502.17,185.35 502.42,186.82 501.10,186.12 499.78,186.82 500.03,185.35 498.96,184.30 500.44,184.09" fill="#333"/>
<polyline points="507.10,189.80 507.10,188.20 521.50,188.20 521.50,189.80" stroke="#444" stroke-width="0.75" fill="none"/>
<polygon points="509.70,182.75 510.36,184.09 511.84,184.30 510.77,185.35 511.02,186.82 509.70,186.12 508.38,186.82 508.63,185.35 507.56,184.30 509.04,184.09" fill="#333"/>
<polygon points="514.30,182.75 514.96,184.09 516.44,184.30 515.37,185.35 515.62,186.82 514.30,186.12 512.98,186.82 513.23,185.35 512.16,184.30 513.64,184.09" fill="#333"/>
<polygon points="518.90,182.75 519.56,184.09 521.04,184.30 519.97,185.35 520.22,186.82 518.90,186.12 517.58,186.82 517.83,185.35 516.76,184.30 518.24,184.09" fill="#333"/>
<polyline points="491.50,181.80 491.50,180.20 521.50,180.20 521.50,181.80" stroke="#444" stroke-width="0.75" fill="none"/>
<text x="503.80" y="178.68" font-size="8.0" text-anchor="middle" fill="#231f20" transform="matrix(1 0 0 1.07 0 -12.306)" stroke="#231f20" stroke-width="0.22">ns</text>
<text x="363.30" y="268.08" font-size="10.5" text-anchor="end" fill="#231f20" transform="matrix(1 0 0 1.07 0 -18.501)" stroke="#231f20" stroke-width="0.22">shNC</text>
<line x1="378.85" y1="264.30" x2="383.95" y2="264.30" stroke="#333" stroke-width="1.0"/>
<line x1="381.40" y1="261.75" x2="381.40" y2="266.85" stroke="#333" stroke-width="1.0"/>
<line x1="394.35" y1="264.30" x2="399.05" y2="264.30" stroke="#333" stroke-width="0.95"/>
<line x1="410.15" y1="264.30" x2="414.85" y2="264.30" stroke="#333" stroke-width="0.95"/>
<line x1="425.35" y1="264.30" x2="430.05" y2="264.30" stroke="#333" stroke-width="0.95"/>
<line x1="472.65" y1="264.30" x2="477.75" y2="264.30" stroke="#333" stroke-width="1.0"/>
<line x1="475.20" y1="261.75" x2="475.20" y2="266.85" stroke="#333" stroke-width="1.0"/>
<line x1="488.65" y1="264.30" x2="493.35" y2="264.30" stroke="#333" stroke-width="0.95"/>
<line x1="504.25" y1="264.30" x2="508.95" y2="264.30" stroke="#333" stroke-width="0.95"/>
<line x1="519.15" y1="264.30" x2="523.85" y2="264.30" stroke="#333" stroke-width="0.95"/>
<text x="363.30" y="281.78" font-size="10.5" text-anchor="end" fill="#231f20" transform="matrix(1 0 0 1.07 0 -19.460)" stroke="#231f20" stroke-width="0.22">shPPP1R14B #1</text>
<line x1="379.05" y1="278.00" x2="383.75" y2="278.00" stroke="#333" stroke-width="0.95"/>
<line x1="394.15" y1="278.00" x2="399.25" y2="278.00" stroke="#333" stroke-width="1.0"/>
<line x1="396.70" y1="275.45" x2="396.70" y2="280.55" stroke="#333" stroke-width="1.0"/>
<line x1="409.95" y1="278.00" x2="415.05" y2="278.00" stroke="#333" stroke-width="1.0"/>
<line x1="412.50" y1="275.45" x2="412.50" y2="280.55" stroke="#333" stroke-width="1.0"/>
<line x1="425.15" y1="278.00" x2="430.25" y2="278.00" stroke="#333" stroke-width="1.0"/>
<line x1="427.70" y1="275.45" x2="427.70" y2="280.55" stroke="#333" stroke-width="1.0"/>
<line x1="472.85" y1="278.00" x2="477.55" y2="278.00" stroke="#333" stroke-width="0.95"/>
<line x1="488.45" y1="278.00" x2="493.55" y2="278.00" stroke="#333" stroke-width="1.0"/>
<line x1="491.00" y1="275.45" x2="491.00" y2="280.55" stroke="#333" stroke-width="1.0"/>
<line x1="504.05" y1="278.00" x2="509.15" y2="278.00" stroke="#333" stroke-width="1.0"/>
<line x1="506.60" y1="275.45" x2="506.60" y2="280.55" stroke="#333" stroke-width="1.0"/>
<line x1="518.95" y1="278.00" x2="524.05" y2="278.00" stroke="#333" stroke-width="1.0"/>
<line x1="521.50" y1="275.45" x2="521.50" y2="280.55" stroke="#333" stroke-width="1.0"/>
<text x="363.30" y="295.68" font-size="10.5" text-anchor="end" fill="#231f20" transform="matrix(1 0 0 1.07 0 -20.433)" stroke="#231f20" stroke-width="0.22">STMN1-WT</text>
<line x1="379.05" y1="291.90" x2="383.75" y2="291.90" stroke="#333" stroke-width="0.95"/>
<line x1="394.35" y1="291.90" x2="399.05" y2="291.90" stroke="#333" stroke-width="0.95"/>
<line x1="409.95" y1="291.90" x2="415.05" y2="291.90" stroke="#333" stroke-width="1.0"/>
<line x1="412.50" y1="289.35" x2="412.50" y2="294.45" stroke="#333" stroke-width="1.0"/>
<line x1="425.35" y1="291.90" x2="430.05" y2="291.90" stroke="#333" stroke-width="0.95"/>
<line x1="472.85" y1="291.90" x2="477.55" y2="291.90" stroke="#333" stroke-width="0.95"/>
<line x1="488.65" y1="291.90" x2="493.35" y2="291.90" stroke="#333" stroke-width="0.95"/>
<line x1="504.05" y1="291.90" x2="509.15" y2="291.90" stroke="#333" stroke-width="1.0"/>
<line x1="506.60" y1="289.35" x2="506.60" y2="294.45" stroke="#333" stroke-width="1.0"/>
<line x1="519.15" y1="291.90" x2="523.85" y2="291.90" stroke="#333" stroke-width="0.95"/>
<text x="363.30" y="309.98" font-size="10.5" text-anchor="end" fill="#231f20" transform="matrix(1 0 0 1.07 0 -21.434)" stroke="#231f20" stroke-width="0.22">STMN1-Mut</text>
<line x1="379.05" y1="306.20" x2="383.75" y2="306.20" stroke="#333" stroke-width="0.95"/>
<line x1="394.35" y1="306.20" x2="399.05" y2="306.20" stroke="#333" stroke-width="0.95"/>
<line x1="410.15" y1="306.20" x2="414.85" y2="306.20" stroke="#333" stroke-width="0.95"/>
<line x1="425.15" y1="306.20" x2="430.25" y2="306.20" stroke="#333" stroke-width="1.0"/>
<line x1="427.70" y1="303.65" x2="427.70" y2="308.75" stroke="#333" stroke-width="1.0"/>
<line x1="472.85" y1="306.20" x2="477.55" y2="306.20" stroke="#333" stroke-width="0.95"/>
<line x1="488.65" y1="306.20" x2="493.35" y2="306.20" stroke="#333" stroke-width="0.95"/>
<line x1="504.25" y1="306.20" x2="508.95" y2="306.20" stroke="#333" stroke-width="0.95"/>
<line x1="518.95" y1="306.20" x2="524.05" y2="306.20" stroke="#333" stroke-width="1.0"/>
<line x1="521.50" y1="303.65" x2="521.50" y2="308.75" stroke="#333" stroke-width="1.0"/>
<text x="566.30" y="154.35" font-size="18.5" text-anchor="start" fill="#231f20" font-weight="bold" transform="matrix(1 0 0 1.07 0 -10.338)" stroke="#231f20" stroke-width="0.35">E</text>
<text x="592.24" y="211.00" font-size="11.55" text-anchor="middle" fill="#231f20" transform="rotate(-90 592.24 211.00)">No. of migrated cells</text>
<line x1="629.30" y1="168.20" x2="629.30" y2="251.50" stroke="#231f20" stroke-width="1.0"/>
<line x1="626.50" y1="251.50" x2="629.30" y2="251.50" stroke="#231f20" stroke-width="1.0"/>
<text x="621.80" y="253.38" font-size="11.6" text-anchor="end" fill="#231f20" transform="matrix(1 0 0 1.07 0 -17.444)" stroke="#231f20" stroke-width="0.22">0</text>
<line x1="626.50" y1="230.68" x2="629.30" y2="230.68" stroke="#231f20" stroke-width="1.0"/>
<text x="621.80" y="233.80" font-size="11.6" text-anchor="end" fill="#231f20" transform="matrix(1 0 0 1.07 0 -16.074)" stroke="#231f20" stroke-width="0.22">200</text>
<line x1="626.50" y1="209.85" x2="629.30" y2="209.85" stroke="#231f20" stroke-width="1.0"/>
<text x="621.80" y="214.23" font-size="11.6" text-anchor="end" fill="#231f20" transform="matrix(1 0 0 1.07 0 -14.704)" stroke="#231f20" stroke-width="0.22">400</text>
<line x1="626.50" y1="189.02" x2="629.30" y2="189.02" stroke="#231f20" stroke-width="1.0"/>
<text x="621.80" y="194.65" font-size="11.6" text-anchor="end" fill="#231f20" transform="matrix(1 0 0 1.07 0 -13.333)" stroke="#231f20" stroke-width="0.22">600</text>
<line x1="626.50" y1="168.20" x2="629.30" y2="168.20" stroke="#231f20" stroke-width="1.0"/>
<text x="621.80" y="175.08" font-size="11.6" text-anchor="end" fill="#231f20" transform="matrix(1 0 0 1.07 0 -11.963)" stroke="#231f20" stroke-width="0.22">800</text>
<line x1="629.30" y1="251.50" x2="692.40" y2="251.50" stroke="#231f20" stroke-width="1.0"/>
<text x="665.00" y="158.00" font-size="11.3" text-anchor="middle" fill="#231f20" transform="matrix(1 0 0 1.07 0 -10.775)" stroke="#231f20" stroke-width="0.22">SUM159</text>
<rect x="634.50" y="201.52" width="10.00" height="49.98" fill="#fff" stroke="#333" stroke-width="1.05"/>
<line x1="639.50" y1="196.83" x2="639.50" y2="206.21" stroke="#222" stroke-width="0.8"/>
<line x1="637.30" y1="196.83" x2="641.70" y2="196.83" stroke="#222" stroke-width="0.8"/>
<line x1="637.30" y1="206.21" x2="641.70" y2="206.21" stroke="#222" stroke-width="0.8"/>
<circle cx="639.92" cy="209.16" r="1.90" fill="#e8323c" stroke="none" stroke-width="1.0"/>
<circle cx="640.50" cy="207.29" r="1.90" fill="#e8323c" stroke="none" stroke-width="1.0"/>
<circle cx="635.33" cy="205.13" r="1.90" fill="#e8323c" stroke="none" stroke-width="1.0"/>
<circle cx="642.74" cy="205.00" r="1.90" fill="#e8323c" stroke="none" stroke-width="1.0"/>
<circle cx="636.95" cy="202.86" r="1.90" fill="#e8323c" stroke="none" stroke-width="1.0"/>
<circle cx="639.21" cy="199.58" r="1.90" fill="#e8323c" stroke="none" stroke-width="1.0"/>
<circle cx="639.27" cy="198.39" r="1.90" fill="#e8323c" stroke="none" stroke-width="1.0"/>
<circle cx="636.15" cy="197.29" r="1.90" fill="#e8323c" stroke="none" stroke-width="1.0"/>
<circle cx="643.03" cy="195.74" r="1.90" fill="#e8323c" stroke="none" stroke-width="1.0"/>
<circle cx="641.82" cy="194.44" r="1.90" fill="#e8323c" stroke="none" stroke-width="1.0"/>
<line x1="636.00" y1="201.52" x2="643.00" y2="201.52" stroke="#222" stroke-width="1.0"/>
<rect x="649.90" y="230.15" width="10.00" height="21.35" fill="#fff" stroke="#333" stroke-width="1.05"/>
<line x1="654.90" y1="226.72" x2="654.90" y2="233.59" stroke="#222" stroke-width="0.8"/>
<line x1="652.70" y1="226.72" x2="657.10" y2="226.72" stroke="#222" stroke-width="0.8"/>
<line x1="652.70" y1="233.59" x2="657.10" y2="233.59" stroke="#222" stroke-width="0.8"/>
<rect x="648.81" y="233.21" width="3.80" height="3.80" fill="#1a96b4" stroke="none" stroke-width="1.0"/>
<rect x="653.87" y="232.11" width="3.80" height="3.80" fill="#1a96b4" stroke="none" stroke-width="1.0"/>
<rect x="648.50" y="231.94" width="3.80" height="3.80" fill="#1a96b4" stroke="none" stroke-width="1.0"/>
<rect x="652.74" y="230.01" width="3.80" height="3.80" fill="#1a96b4" stroke="none" stroke-width="1.0"/>
<rect x="656.64" y="229.31" width="3.80" height="3.80" fill="#1a96b4" stroke="none" stroke-width="1.0"/>
<rect x="657.04" y="228.36" width="3.80" height="3.80" fill="#1a96b4" stroke="none" stroke-width="1.0"/>
<rect x="655.89" y="227.96" width="3.80" height="3.80" fill="#1a96b4" stroke="none" stroke-width="1.0"/>
<rect x="657.18" y="226.92" width="3.80" height="3.80" fill="#1a96b4" stroke="none" stroke-width="1.0"/>
<rect x="649.14" y="225.22" width="3.80" height="3.80" fill="#1a96b4" stroke="none" stroke-width="1.0"/>
<rect x="650.28" y="225.54" width="3.80" height="3.80" fill="#1a96b4" stroke="none" stroke-width="1.0"/>
<rect x="652.39" y="223.16" width="3.80" height="3.80" fill="#1a96b4" stroke="none" stroke-width="1.0"/>
<rect x="651.09" y="222.79" width="3.80" height="3.80" fill="#1a96b4" stroke="none" stroke-width="1.0"/>
<line x1="651.40" y1="230.15" x2="658.40" y2="230.15" stroke="#222" stroke-width="1.0"/>
<rect x="665.60" y="214.54" width="10.00" height="36.96" fill="#fff" stroke="#333" stroke-width="1.05"/>
<line x1="670.60" y1="210.79" x2="670.60" y2="218.28" stroke="#222" stroke-width="0.8"/>
<line x1="668.40" y1="210.79" x2="672.80" y2="210.79" stroke="#222" stroke-width="0.8"/>
<line x1="668.40" y1="218.28" x2="672.80" y2="218.28" stroke="#222" stroke-width="0.8"/>
<polygon points="669.50,217.80 667.32,221.69 671.69,221.69" fill="#1a96b4"/>
<polygon points="671.42,216.70 669.23,220.60 673.60,220.60" fill="#1a96b4"/>
<polygon points="674.48,214.87 672.30,218.77 676.67,218.77" fill="#1a96b4"/>
<polygon points="674.72,213.30 672.53,217.20 676.90,217.20" fill="#1a96b4"/>
<polygon points="675.31,211.59 673.13,215.48 677.50,215.48" fill="#1a96b4"/>
<polygon points="667.37,210.55 665.18,214.44 669.55,214.44" fill="#1a96b4"/>
<polygon points="675.06,208.80 672.88,212.70 677.25,212.70" fill="#1a96b4"/>
<polygon points="671.26,207.33 669.08,211.23 673.45,211.23" fill="#1a96b4"/>
<polygon points="667.83,206.30 665.64,210.20 670.01,210.20" fill="#1a96b4"/>
<line x1="667.10" y1="214.54" x2="674.10" y2="214.54" stroke="#222" stroke-width="1.0"/>
<rect x="680.80" y="234.32" width="10.00" height="17.18" fill="#fff" stroke="#333" stroke-width="1.05"/>
<line x1="685.80" y1="232.13" x2="685.80" y2="236.51" stroke="#222" stroke-width="0.8"/>
<line x1="683.60" y1="232.13" x2="688.00" y2="232.13" stroke="#222" stroke-width="0.8"/>
<line x1="683.60" y1="236.51" x2="688.00" y2="236.51" stroke="#222" stroke-width="0.8"/>
<polygon points="686.51,239.52 684.32,235.62 688.69,235.62" fill="#1a96b4"/>
<polygon points="681.61,239.39 679.42,235.49 683.79,235.49" fill="#1a96b4"/>
<polygon points="690.50,238.03 688.32,234.14 692.69,234.14" fill="#1a96b4"/>
<polygon points="688.69,238.14 686.50,234.25 690.87,234.25" fill="#1a96b4"/>
<polygon points="682.45,237.06 680.26,233.17 684.63,233.17" fill="#1a96b4"/>
<polygon points="688.38,236.46 686.20,232.57 690.57,232.57" fill="#1a96b4"/>
<polygon points="681.42,235.10 679.24,231.20 683.61,231.20" fill="#1a96b4"/>
<polygon points="681.43,234.65 679.25,230.76 683.62,230.76" fill="#1a96b4"/>
<polygon points="684.18,233.81 681.99,229.91 686.36,229.91" fill="#1a96b4"/>
<polygon points="690.41,232.90 688.23,229.01 692.60,229.01" fill="#1a96b4"/>
<line x1="682.30" y1="234.32" x2="689.30" y2="234.32" stroke="#222" stroke-width="1.0"/>
<polyline points="639.60,191.40 639.60,189.80 654.90,189.80 654.90,191.40" stroke="#444" stroke-width="0.75" fill="none"/>
<polygon points="642.65,184.35 643.31,185.69 644.79,185.90 643.72,186.95 643.97,188.42 642.65,187.73 641.33,188.42 641.58,186.95 640.51,185.90 641.99,185.69" fill="#333"/>
<polygon points="647.25,184.35 647.91,185.69 649.39,185.90 648.32,186.95 648.57,188.42 647.25,187.73 645.93,188.42 646.18,186.95 645.11,185.90 646.59,185.69" fill="#333"/>
<polygon points="651.85,184.35 652.51,185.69 653.99,185.90 652.92,186.95 653.17,188.42 651.85,187.73 650.53,188.42 650.78,186.95 649.71,185.90 651.19,185.69" fill="#333"/>
<polyline points="655.40,191.40 655.40,189.80 670.00,189.80 670.00,191.40" stroke="#444" stroke-width="0.75" fill="none"/>
<polygon points="658.10,184.35 658.76,185.69 660.24,185.90 659.17,186.95 659.42,188.42 658.10,187.73 656.78,188.42 657.03,186.95 655.96,185.90 657.44,185.69" fill="#333"/>
<polygon points="662.70,184.35 663.36,185.69 664.84,185.90 663.77,186.95 664.02,188.42 662.70,187.73 661.38,188.42 661.63,186.95 660.56,185.90 662.04,185.69" fill="#333"/>
<polygon points="667.30,184.35 667.96,185.69 669.44,185.90 668.37,186.95 668.62,188.42 667.30,187.73 665.98,188.42 666.23,186.95 665.16,185.90 666.64,185.69" fill="#333"/>
<polyline points="670.50,191.40 670.50,189.80 685.50,189.80 685.50,191.40" stroke="#444" stroke-width="0.75" fill="none"/>
<polygon points="673.40,184.35 674.06,185.69 675.54,185.90 674.47,186.95 674.72,188.42 673.40,187.73 672.08,188.42 672.33,186.95 671.26,185.90 672.74,185.69" fill="#333"/>
<polygon points="678.00,184.35 678.66,185.69 680.14,185.90 679.07,186.95 679.32,188.42 678.00,187.73 676.68,188.42 676.93,186.95 675.86,185.90 677.34,185.69" fill="#333"/>
<polygon points="682.60,184.35 683.26,185.69 684.74,185.90 683.67,186.95 683.92,188.42 682.60,187.73 681.28,188.42 681.53,186.95 680.46,185.90 681.94,185.69" fill="#333"/>
<polyline points="655.40,182.20 655.40,180.60 685.50,180.60 685.50,182.20" stroke="#444" stroke-width="0.75" fill="none"/>
<text x="670.45" y="179.08" font-size="8.0" text-anchor="middle" fill="#231f20" transform="matrix(1 0 0 1.07 0 -12.334)" stroke="#231f20" stroke-width="0.22">ns</text>
<line x1="726.60" y1="170.00" x2="726.60" y2="250.20" stroke="#231f20" stroke-width="1.0"/>
<line x1="723.60" y1="250.20" x2="726.60" y2="250.20" stroke="#231f20" stroke-width="1.0"/>
<text x="721.10" y="253.92" font-size="10.9" text-anchor="end" fill="#231f20" transform="matrix(1 0 0 1.07 0 -17.500)" stroke="#231f20" stroke-width="0.22">0</text>
<line x1="723.60" y1="236.83" x2="726.60" y2="236.83" stroke="#231f20" stroke-width="1.0"/>
<text x="721.10" y="240.77" font-size="10.9" text-anchor="end" fill="#231f20" transform="matrix(1 0 0 1.07 0 -16.580)" stroke="#231f20" stroke-width="0.22">200</text>
<line x1="723.60" y1="223.47" x2="726.60" y2="223.47" stroke="#231f20" stroke-width="1.0"/>
<text x="721.10" y="227.62" font-size="10.9" text-anchor="end" fill="#231f20" transform="matrix(1 0 0 1.07 0 -15.659)" stroke="#231f20" stroke-width="0.22">400</text>
<line x1="723.60" y1="210.10" x2="726.60" y2="210.10" stroke="#231f20" stroke-width="1.0"/>
<text x="721.10" y="214.47" font-size="10.9" text-anchor="end" fill="#231f20" transform="matrix(1 0 0 1.07 0 -14.739)" stroke="#231f20" stroke-width="0.22">600</text>
<line x1="723.60" y1="196.73" x2="726.60" y2="196.73" stroke="#231f20" stroke-width="1.0"/>
<text x="721.10" y="201.32" font-size="10.9" text-anchor="end" fill="#231f20" transform="matrix(1 0 0 1.07 0 -13.818)" stroke="#231f20" stroke-width="0.22">800</text>
<line x1="723.60" y1="183.37" x2="726.60" y2="183.37" stroke="#231f20" stroke-width="1.0"/>
<text x="721.10" y="188.17" font-size="10.9" text-anchor="end" fill="#231f20" transform="matrix(1 0 0 1.07 0 -12.898)" stroke="#231f20" stroke-width="0.22">1,000</text>
<line x1="723.60" y1="170.00" x2="726.60" y2="170.00" stroke="#231f20" stroke-width="1.0"/>
<text x="721.10" y="175.02" font-size="10.9" text-anchor="end" fill="#231f20" transform="matrix(1 0 0 1.07 0 -11.977)" stroke="#231f20" stroke-width="0.22">1,200</text>
<line x1="726.60" y1="250.20" x2="793.00" y2="250.20" stroke="#231f20" stroke-width="1.0"/>
<text x="758.80" y="158.30" font-size="11.3" text-anchor="middle" fill="#231f20" transform="matrix(1 0 0 1.07 0 -10.796)" stroke="#231f20" stroke-width="0.22">MDA-MB-231</text>
<rect x="731.30" y="199.41" width="10.00" height="50.79" fill="#fff" stroke="#333" stroke-width="1.05"/>
<line x1="736.30" y1="196.20" x2="736.30" y2="202.61" stroke="#222" stroke-width="0.8"/>
<line x1="734.10" y1="196.20" x2="738.50" y2="196.20" stroke="#222" stroke-width="0.8"/>
<line x1="734.10" y1="202.61" x2="738.50" y2="202.61" stroke="#222" stroke-width="0.8"/>
<circle cx="732.49" cy="204.73" r="1.90" fill="#e8323c" stroke="none" stroke-width="1.0"/>
<circle cx="732.99" cy="203.58" r="1.90" fill="#e8323c" stroke="none" stroke-width="1.0"/>
<circle cx="735.36" cy="203.22" r="1.90" fill="#e8323c" stroke="none" stroke-width="1.0"/>
<circle cx="739.18" cy="200.96" r="1.90" fill="#e8323c" stroke="none" stroke-width="1.0"/>
<circle cx="733.63" cy="200.32" r="1.90" fill="#e8323c" stroke="none" stroke-width="1.0"/>
<circle cx="734.16" cy="199.79" r="1.90" fill="#e8323c" stroke="none" stroke-width="1.0"/>
<circle cx="732.52" cy="199.49" r="1.90" fill="#e8323c" stroke="none" stroke-width="1.0"/>
<circle cx="740.40" cy="198.53" r="1.90" fill="#e8323c" stroke="none" stroke-width="1.0"/>
<circle cx="739.24" cy="196.65" r="1.90" fill="#e8323c" stroke="none" stroke-width="1.0"/>
<circle cx="733.36" cy="195.81" r="1.90" fill="#e8323c" stroke="none" stroke-width="1.0"/>
<circle cx="737.52" cy="195.70" r="1.90" fill="#e8323c" stroke="none" stroke-width="1.0"/>
<circle cx="739.70" cy="194.13" r="1.90" fill="#e8323c" stroke="none" stroke-width="1.0"/>
<line x1="732.80" y1="199.41" x2="739.80" y2="199.41" stroke="#222" stroke-width="1.0"/>
<rect x="746.30" y="223.47" width="10.00" height="26.73" fill="#fff" stroke="#333" stroke-width="1.05"/>
<line x1="751.30" y1="221.26" x2="751.30" y2="225.67" stroke="#222" stroke-width="0.8"/>
<line x1="749.10" y1="221.26" x2="753.50" y2="221.26" stroke="#222" stroke-width="0.8"/>
<line x1="749.10" y1="225.67" x2="753.50" y2="225.67" stroke="#222" stroke-width="0.8"/>
<rect x="745.43" y="224.56" width="3.80" height="3.80" fill="#1a96b4" stroke="none" stroke-width="1.0"/>
<rect x="751.05" y="224.34" width="3.80" height="3.80" fill="#1a96b4" stroke="none" stroke-width="1.0"/>
<rect x="746.31" y="223.92" width="3.80" height="3.80" fill="#1a96b4" stroke="none" stroke-width="1.0"/>
<rect x="745.46" y="223.43" width="3.80" height="3.80" fill="#1a96b4" stroke="none" stroke-width="1.0"/>
<rect x="752.91" y="222.40" width="3.80" height="3.80" fill="#1a96b4" stroke="none" stroke-width="1.0"/>
<rect x="747.48" y="222.30" width="3.80" height="3.80" fill="#1a96b4" stroke="none" stroke-width="1.0"/>
<rect x="750.09" y="221.38" width="3.80" height="3.80" fill="#1a96b4" stroke="none" stroke-width="1.0"/>
<rect x="752.74" y="220.88" width="3.80" height="3.80" fill="#1a96b4" stroke="none" stroke-width="1.0"/>
<rect x="748.57" y="220.77" width="3.80" height="3.80" fill="#1a96b4" stroke="none" stroke-width="1.0"/>
<rect x="748.74" y="220.14" width="3.80" height="3.80" fill="#1a96b4" stroke="none" stroke-width="1.0"/>
<rect x="747.53" y="220.10" width="3.80" height="3.80" fill="#1a96b4" stroke="none" stroke-width="1.0"/>
<rect x="745.02" y="218.86" width="3.80" height="3.80" fill="#1a96b4" stroke="none" stroke-width="1.0"/>
<rect x="750.61" y="219.18" width="3.80" height="3.80" fill="#1a96b4" stroke="none" stroke-width="1.0"/>
<rect x="749.73" y="218.40" width="3.80" height="3.80" fill="#1a96b4" stroke="none" stroke-width="1.0"/>
<line x1="747.80" y1="223.47" x2="754.80" y2="223.47" stroke="#222" stroke-width="1.0"/>
<rect x="762.00" y="208.09" width="10.00" height="42.10" fill="#fff" stroke="#333" stroke-width="1.05"/>
<line x1="767.00" y1="205.29" x2="767.00" y2="210.90" stroke="#222" stroke-width="0.8"/>
<line x1="764.80" y1="205.29" x2="769.20" y2="205.29" stroke="#222" stroke-width="0.8"/>
<line x1="764.80" y1="210.90" x2="769.20" y2="210.90" stroke="#222" stroke-width="0.8"/>
<polygon points="765.49,210.07 763.31,213.96 767.68,213.96" fill="#1a96b4"/>
<polygon points="764.08,208.39 761.89,212.29 766.26,212.29" fill="#1a96b4"/>
<polygon points="764.15,208.28 761.96,212.17 766.33,212.17" fill="#1a96b4"/>
<polygon points="764.85,207.03 762.67,210.93 767.04,210.93" fill="#1a96b4"/>
<polygon points="769.37,206.49 767.19,210.38 771.56,210.38" fill="#1a96b4"/>
<polygon points="767.56,205.60 765.38,209.49 769.75,209.49" fill="#1a96b4"/>
<polygon points="763.17,203.84 760.98,207.74 765.35,207.74" fill="#1a96b4"/>
<polygon points="764.40,204.09 762.21,207.99 766.58,207.99" fill="#1a96b4"/>
<polygon points="768.11,202.17 765.92,206.06 770.29,206.06" fill="#1a96b4"/>
<polygon points="765.38,201.97 763.19,205.87 767.56,205.87" fill="#1a96b4"/>
<line x1="763.50" y1="208.09" x2="770.50" y2="208.09" stroke="#222" stroke-width="1.0"/>
<rect x="777.60" y="232.49" width="10.00" height="17.71" fill="#fff" stroke="#333" stroke-width="1.05"/>
<line x1="782.60" y1="230.48" x2="782.60" y2="234.49" stroke="#222" stroke-width="0.8"/>
<line x1="780.40" y1="230.48" x2="784.80" y2="230.48" stroke="#222" stroke-width="0.8"/>
<line x1="780.40" y1="234.49" x2="784.80" y2="234.49" stroke="#222" stroke-width="0.8"/>
<polygon points="782.21,238.10 780.02,234.20 784.39,234.20" fill="#1a96b4"/>
<polygon points="784.49,237.57 782.31,233.67 786.68,233.67" fill="#1a96b4"/>
<polygon points="786.97,236.04 784.78,232.15 789.15,232.15" fill="#1a96b4"/>
<polygon points="787.01,235.54 784.83,231.64 789.20,231.64" fill="#1a96b4"/>
<polygon points="780.57,235.59 778.39,231.69 782.76,231.69" fill="#1a96b4"/>
<polygon points="785.24,233.97 783.06,230.07 787.43,230.07" fill="#1a96b4"/>
<polygon points="786.86,233.86 784.67,229.96 789.04,229.96" fill="#1a96b4"/>
<polygon points="785.65,232.98 783.47,229.08 787.84,229.08" fill="#1a96b4"/>
<polygon points="779.64,232.64 777.45,228.74 781.82,228.74" fill="#1a96b4"/>
<polygon points="779.11,231.82 776.92,227.92 781.29,227.92" fill="#1a96b4"/>
<line x1="779.10" y1="232.49" x2="786.10" y2="232.49" stroke="#222" stroke-width="1.0"/>
<polyline points="735.70,191.40 735.70,189.80 751.10,189.80 751.10,191.40" stroke="#444" stroke-width="0.75" fill="none"/>
<polygon points="738.80,184.35 739.46,185.69 740.94,185.90 739.87,186.95 740.12,188.42 738.80,187.73 737.48,188.42 737.73,186.95 736.66,185.90 738.14,185.69" fill="#333"/>
<polygon points="743.40,184.35 744.06,185.69 745.54,185.90 744.47,186.95 744.72,188.42 743.40,187.73 742.08,188.42 742.33,186.95 741.26,185.90 742.74,185.69" fill="#333"/>
<polygon points="748.00,184.35 748.66,185.69 750.14,185.90 749.07,186.95 749.32,188.42 748.00,187.73 746.68,188.42 746.93,186.95 745.86,185.90 747.34,185.69" fill="#333"/>
<polyline points="751.80,191.40 751.80,189.80 767.60,189.80 767.60,191.40" stroke="#444" stroke-width="0.75" fill="none"/>
<polygon points="757.40,184.35 758.06,185.69 759.54,185.90 758.47,186.95 758.72,188.42 757.40,187.73 756.08,188.42 756.33,186.95 755.26,185.90 756.74,185.69" fill="#333"/>
<polygon points="762.00,184.35 762.66,185.69 764.14,185.90 763.07,186.95 763.32,188.42 762.00,187.73 760.68,188.42 760.93,186.95 759.86,185.90 761.34,185.69" fill="#333"/>
<polyline points="767.90,191.40 767.90,189.80 783.80,189.80 783.80,191.40" stroke="#444" stroke-width="0.75" fill="none"/>
<polygon points="771.25,184.35 771.91,185.69 773.39,185.90 772.32,186.95 772.57,188.42 771.25,187.73 769.93,188.42 770.18,186.95 769.11,185.90 770.59,185.69" fill="#333"/>
<polygon points="775.85,184.35 776.51,185.69 777.99,185.90 776.92,186.95 777.17,188.42 775.85,187.73 774.53,188.42 774.78,186.95 773.71,185.90 775.19,185.69" fill="#333"/>
<polygon points="780.45,184.35 781.11,185.69 782.59,185.90 781.52,186.95 781.77,188.42 780.45,187.73 779.13,188.42 779.38,186.95 778.31,185.90 779.79,185.69" fill="#333"/>
<polyline points="751.80,183.40 751.80,181.80 783.80,181.80 783.80,183.40" stroke="#444" stroke-width="0.75" fill="none"/>
<polygon points="767.80,172.95 768.46,174.29 769.94,174.50 768.87,175.55 769.12,177.02 767.80,176.33 766.48,177.02 766.73,175.55 765.66,174.50 767.14,174.29" fill="#333"/>
<text x="621.50" y="267.28" font-size="10.5" text-anchor="end" fill="#231f20" transform="matrix(1 0 0 1.07 0 -18.445)" stroke="#231f20" stroke-width="0.22">shNC</text>
<line x1="636.95" y1="263.50" x2="642.05" y2="263.50" stroke="#333" stroke-width="1.0"/>
<line x1="639.50" y1="260.95" x2="639.50" y2="266.05" stroke="#333" stroke-width="1.0"/>
<line x1="652.55" y1="263.50" x2="657.25" y2="263.50" stroke="#333" stroke-width="0.95"/>
<line x1="668.25" y1="263.50" x2="672.95" y2="263.50" stroke="#333" stroke-width="0.95"/>
<line x1="683.45" y1="263.50" x2="688.15" y2="263.50" stroke="#333" stroke-width="0.95"/>
<line x1="733.75" y1="263.50" x2="738.85" y2="263.50" stroke="#333" stroke-width="1.0"/>
<line x1="736.30" y1="260.95" x2="736.30" y2="266.05" stroke="#333" stroke-width="1.0"/>
<line x1="748.95" y1="263.50" x2="753.65" y2="263.50" stroke="#333" stroke-width="0.95"/>
<line x1="764.65" y1="263.50" x2="769.35" y2="263.50" stroke="#333" stroke-width="0.95"/>
<line x1="780.25" y1="263.50" x2="784.95" y2="263.50" stroke="#333" stroke-width="0.95"/>
<text x="621.50" y="281.68" font-size="10.5" text-anchor="end" fill="#231f20" transform="matrix(1 0 0 1.07 0 -19.453)" stroke="#231f20" stroke-width="0.22">shPPP1R14B #1</text>
<line x1="637.15" y1="277.90" x2="641.85" y2="277.90" stroke="#333" stroke-width="0.95"/>
<line x1="652.35" y1="277.90" x2="657.45" y2="277.90" stroke="#333" stroke-width="1.0"/>
<line x1="654.90" y1="275.35" x2="654.90" y2="280.45" stroke="#333" stroke-width="1.0"/>
<line x1="668.05" y1="277.90" x2="673.15" y2="277.90" stroke="#333" stroke-width="1.0"/>
<line x1="670.60" y1="275.35" x2="670.60" y2="280.45" stroke="#333" stroke-width="1.0"/>
<line x1="683.25" y1="277.90" x2="688.35" y2="277.90" stroke="#333" stroke-width="1.0"/>
<line x1="685.80" y1="275.35" x2="685.80" y2="280.45" stroke="#333" stroke-width="1.0"/>
<line x1="733.95" y1="277.90" x2="738.65" y2="277.90" stroke="#333" stroke-width="0.95"/>
<line x1="748.75" y1="277.90" x2="753.85" y2="277.90" stroke="#333" stroke-width="1.0"/>
<line x1="751.30" y1="275.35" x2="751.30" y2="280.45" stroke="#333" stroke-width="1.0"/>
<line x1="764.45" y1="277.90" x2="769.55" y2="277.90" stroke="#333" stroke-width="1.0"/>
<line x1="767.00" y1="275.35" x2="767.00" y2="280.45" stroke="#333" stroke-width="1.0"/>
<line x1="780.05" y1="277.90" x2="785.15" y2="277.90" stroke="#333" stroke-width="1.0"/>
<line x1="782.60" y1="275.35" x2="782.60" y2="280.45" stroke="#333" stroke-width="1.0"/>
<text x="621.50" y="295.38" font-size="10.5" text-anchor="end" fill="#231f20" transform="matrix(1 0 0 1.07 0 -20.412)" stroke="#231f20" stroke-width="0.22">STMN1-WT</text>
<line x1="637.15" y1="291.60" x2="641.85" y2="291.60" stroke="#333" stroke-width="0.95"/>
<line x1="652.55" y1="291.60" x2="657.25" y2="291.60" stroke="#333" stroke-width="0.95"/>
<line x1="668.05" y1="291.60" x2="673.15" y2="291.60" stroke="#333" stroke-width="1.0"/>
<line x1="670.60" y1="289.05" x2="670.60" y2="294.15" stroke="#333" stroke-width="1.0"/>
<line x1="683.45" y1="291.60" x2="688.15" y2="291.60" stroke="#333" stroke-width="0.95"/>
<line x1="733.95" y1="291.60" x2="738.65" y2="291.60" stroke="#333" stroke-width="0.95"/>
<line x1="748.95" y1="291.60" x2="753.65" y2="291.60" stroke="#333" stroke-width="0.95"/>
<line x1="764.45" y1="291.60" x2="769.55" y2="291.60" stroke="#333" stroke-width="1.0"/>
<line x1="767.00" y1="289.05" x2="767.00" y2="294.15" stroke="#333" stroke-width="1.0"/>
<line x1="780.25" y1="291.60" x2="784.95" y2="291.60" stroke="#333" stroke-width="0.95"/>
<text x="621.50" y="309.28" font-size="10.5" text-anchor="end" fill="#231f20" transform="matrix(1 0 0 1.07 0 -21.385)" stroke="#231f20" stroke-width="0.22">STMN1-Mut</text>
<line x1="637.15" y1="305.50" x2="641.85" y2="305.50" stroke="#333" stroke-width="0.95"/>
<line x1="652.55" y1="305.50" x2="657.25" y2="305.50" stroke="#333" stroke-width="0.95"/>
<line x1="668.25" y1="305.50" x2="672.95" y2="305.50" stroke="#333" stroke-width="0.95"/>
<line x1="683.25" y1="305.50" x2="688.35" y2="305.50" stroke="#333" stroke-width="1.0"/>
<line x1="685.80" y1="302.95" x2="685.80" y2="308.05" stroke="#333" stroke-width="1.0"/>
<line x1="733.95" y1="305.50" x2="738.65" y2="305.50" stroke="#333" stroke-width="0.95"/>
<line x1="748.95" y1="305.50" x2="753.65" y2="305.50" stroke="#333" stroke-width="0.95"/>
<line x1="764.65" y1="305.50" x2="769.35" y2="305.50" stroke="#333" stroke-width="0.95"/>
<line x1="780.05" y1="305.50" x2="785.15" y2="305.50" stroke="#333" stroke-width="1.0"/>
<line x1="782.60" y1="302.95" x2="782.60" y2="308.05" stroke="#333" stroke-width="1.0"/>
<text x="1.50" y="342.65" font-size="18.5" text-anchor="start" fill="#231f20" font-weight="bold" transform="matrix(1 0 0 1.07 0 -23.519)" stroke="#231f20" stroke-width="0.35">F</text>
<text x="52.29" y="393.30" font-size="11.4" text-anchor="middle" fill="#231f20" transform="rotate(-90 52.29 393.30)">No. of invaded cells</text>
<line x1="92.40" y1="352.90" x2="92.40" y2="436.20" stroke="#231f20" stroke-width="1.0"/>
<line x1="90.00" y1="436.20" x2="92.40" y2="436.20" stroke="#231f20" stroke-width="1.0"/>
<text x="87.10" y="439.56" font-size="11.0" text-anchor="end" fill="#231f20" transform="matrix(1 0 0 1.07 0 -30.492)" stroke="#231f20" stroke-width="0.22">0</text>
<line x1="90.00" y1="408.43" x2="92.40" y2="408.43" stroke="#231f20" stroke-width="1.0"/>
<text x="87.10" y="412.66" font-size="11.0" text-anchor="end" fill="#231f20" transform="matrix(1 0 0 1.07 0 -28.609)" stroke="#231f20" stroke-width="0.22">100</text>
<line x1="90.00" y1="380.67" x2="92.40" y2="380.67" stroke="#231f20" stroke-width="1.0"/>
<text x="87.10" y="385.76" font-size="11.0" text-anchor="end" fill="#231f20" transform="matrix(1 0 0 1.07 0 -26.726)" stroke="#231f20" stroke-width="0.22">200</text>
<line x1="90.00" y1="352.90" x2="92.40" y2="352.90" stroke="#231f20" stroke-width="1.0"/>
<text x="87.10" y="358.86" font-size="11.0" text-anchor="end" fill="#231f20" transform="matrix(1 0 0 1.07 0 -24.843)" stroke="#231f20" stroke-width="0.22">300</text>
<line x1="92.40" y1="436.20" x2="159.20" y2="436.20" stroke="#231f20" stroke-width="1.0"/>
<text x="126.40" y="342.60" font-size="11.3" text-anchor="middle" fill="#231f20" transform="matrix(1 0 0 1.07 0 -23.697)" stroke="#231f20" stroke-width="0.22">SUM159</text>
<rect x="97.80" y="377.89" width="10.00" height="58.31" fill="#fff" stroke="#333" stroke-width="1.05"/>
<line x1="102.80" y1="370.39" x2="102.80" y2="385.39" stroke="#222" stroke-width="0.8"/>
<line x1="100.60" y1="370.39" x2="105.00" y2="370.39" stroke="#222" stroke-width="0.8"/>
<line x1="100.60" y1="385.39" x2="105.00" y2="385.39" stroke="#222" stroke-width="0.8"/>
<circle cx="105.12" cy="388.67" r="1.90" fill="#e8323c" stroke="none" stroke-width="1.0"/>
<circle cx="107.05" cy="385.53" r="1.90" fill="#e8323c" stroke="none" stroke-width="1.0"/>
<circle cx="106.85" cy="383.24" r="1.90" fill="#e8323c" stroke="none" stroke-width="1.0"/>
<circle cx="102.47" cy="383.40" r="1.90" fill="#e8323c" stroke="none" stroke-width="1.0"/>
<circle cx="104.23" cy="377.48" r="1.90" fill="#e8323c" stroke="none" stroke-width="1.0"/>
<circle cx="99.09" cy="375.14" r="1.90" fill="#e8323c" stroke="none" stroke-width="1.0"/>
<circle cx="100.37" cy="374.26" r="1.90" fill="#e8323c" stroke="none" stroke-width="1.0"/>
<circle cx="103.51" cy="371.48" r="1.90" fill="#e8323c" stroke="none" stroke-width="1.0"/>
<circle cx="100.08" cy="370.97" r="1.90" fill="#e8323c" stroke="none" stroke-width="1.0"/>
<circle cx="106.80" cy="367.47" r="1.90" fill="#e8323c" stroke="none" stroke-width="1.0"/>
<line x1="99.30" y1="377.89" x2="106.30" y2="377.89" stroke="#222" stroke-width="1.0"/>
<rect x="113.10" y="414.54" width="10.00" height="21.66" fill="#fff" stroke="#333" stroke-width="1.05"/>
<line x1="118.10" y1="409.21" x2="118.10" y2="419.87" stroke="#222" stroke-width="0.8"/>
<line x1="115.90" y1="409.21" x2="120.30" y2="409.21" stroke="#222" stroke-width="0.8"/>
<line x1="115.90" y1="419.87" x2="120.30" y2="419.87" stroke="#222" stroke-width="0.8"/>
<rect x="112.93" y="420.08" width="3.80" height="3.80" fill="#1a96b4" stroke="none" stroke-width="1.0"/>
<rect x="112.73" y="418.51" width="3.80" height="3.80" fill="#1a96b4" stroke="none" stroke-width="1.0"/>
<rect x="112.62" y="417.51" width="3.80" height="3.80" fill="#1a96b4" stroke="none" stroke-width="1.0"/>
<rect x="119.77" y="417.67" width="3.80" height="3.80" fill="#1a96b4" stroke="none" stroke-width="1.0"/>
<rect x="113.47" y="415.64" width="3.80" height="3.80" fill="#1a96b4" stroke="none" stroke-width="1.0"/>
<rect x="119.78" y="412.10" width="3.80" height="3.80" fill="#1a96b4" stroke="none" stroke-width="1.0"/>
<rect x="120.63" y="412.46" width="3.80" height="3.80" fill="#1a96b4" stroke="none" stroke-width="1.0"/>
<rect x="117.91" y="410.32" width="3.80" height="3.80" fill="#1a96b4" stroke="none" stroke-width="1.0"/>
<rect x="120.43" y="409.73" width="3.80" height="3.80" fill="#1a96b4" stroke="none" stroke-width="1.0"/>
<rect x="120.68" y="406.95" width="3.80" height="3.80" fill="#1a96b4" stroke="none" stroke-width="1.0"/>
<rect x="114.27" y="404.93" width="3.80" height="3.80" fill="#1a96b4" stroke="none" stroke-width="1.0"/>
<rect x="112.99" y="404.87" width="3.80" height="3.80" fill="#1a96b4" stroke="none" stroke-width="1.0"/>
<line x1="114.60" y1="414.54" x2="121.60" y2="414.54" stroke="#222" stroke-width="1.0"/>
<rect x="128.50" y="399.27" width="10.00" height="36.93" fill="#fff" stroke="#333" stroke-width="1.05"/>
<line x1="133.50" y1="393.44" x2="133.50" y2="405.10" stroke="#222" stroke-width="0.8"/>
<line x1="131.30" y1="393.44" x2="135.70" y2="393.44" stroke="#222" stroke-width="0.8"/>
<line x1="131.30" y1="405.10" x2="135.70" y2="405.10" stroke="#222" stroke-width="0.8"/>
<polygon points="129.33,406.77 127.14,410.66 131.51,410.66" fill="#1a96b4"/>
<polygon points="134.49,404.37 132.30,408.27 136.67,408.27" fill="#1a96b4"/>
<polygon points="135.21,403.30 133.02,407.19 137.39,407.19" fill="#1a96b4"/>
<polygon points="131.68,400.38 129.49,404.27 133.86,404.27" fill="#1a96b4"/>
<polygon points="133.32,397.03 131.13,400.93 135.50,400.93" fill="#1a96b4"/>
<polygon points="133.32,396.56 131.13,400.45 135.50,400.45" fill="#1a96b4"/>
<polygon points="129.25,393.48 127.06,397.37 131.43,397.37" fill="#1a96b4"/>
<polygon points="128.92,390.75 126.73,394.64 131.10,394.64" fill="#1a96b4"/>
<polygon points="136.81,389.46 134.63,393.35 139.00,393.35" fill="#1a96b4"/>
<polygon points="136.26,389.65 134.08,393.54 138.45,393.54" fill="#1a96b4"/>
<line x1="130.00" y1="399.27" x2="137.00" y2="399.27" stroke="#222" stroke-width="1.0"/>
<rect x="143.90" y="421.76" width="10.00" height="14.44" fill="#fff" stroke="#333" stroke-width="1.05"/>
<line x1="148.90" y1="419.76" x2="148.90" y2="423.76" stroke="#222" stroke-width="0.8"/>
<line x1="146.70" y1="419.76" x2="151.10" y2="419.76" stroke="#222" stroke-width="0.8"/>
<line x1="146.70" y1="423.76" x2="151.10" y2="423.76" stroke="#222" stroke-width="0.8"/>
<polygon points="149.65,427.17 147.47,423.28 151.84,423.28" fill="#1a96b4"/>
<polygon points="144.55,426.86 142.36,422.97 146.73,422.97" fill="#1a96b4"/>
<polygon points="153.27,426.03 151.08,422.13 155.45,422.13" fill="#1a96b4"/>
<polygon points="151.36,425.34 149.17,421.45 153.54,421.45" fill="#1a96b4"/>
<polygon points="153.14,423.95 150.96,420.05 155.33,420.05" fill="#1a96b4"/>
<polygon points="147.51,423.86 145.32,419.97 149.69,419.97" fill="#1a96b4"/>
<polygon points="151.55,423.02 149.36,419.12 153.73,419.12" fill="#1a96b4"/>
<polygon points="151.28,422.77 149.10,418.87 153.47,418.87" fill="#1a96b4"/>
<polygon points="152.35,421.41 150.17,417.52 154.54,417.52" fill="#1a96b4"/>
<polygon points="153.18,421.51 150.99,417.61 155.36,417.61" fill="#1a96b4"/>
<line x1="145.40" y1="421.76" x2="152.40" y2="421.76" stroke="#222" stroke-width="1.0"/>
<polyline points="102.20,364.90 102.20,363.30 118.00,363.30 118.00,364.90" stroke="#444" stroke-width="0.75" fill="none"/>
<polygon points="105.50,357.05 106.16,358.39 107.64,358.60 106.57,359.65 106.82,361.12 105.50,360.43 104.18,361.12 104.43,359.65 103.36,358.60 104.84,358.39" fill="#333"/>
<polygon points="110.10,357.05 110.76,358.39 112.24,358.60 111.17,359.65 111.42,361.12 110.10,360.43 108.78,361.12 109.03,359.65 107.96,358.60 109.44,358.39" fill="#333"/>
<polygon points="114.70,357.05 115.36,358.39 116.84,358.60 115.77,359.65 116.02,361.12 114.70,360.43 113.38,361.12 113.63,359.65 112.56,358.60 114.04,358.39" fill="#333"/>
<polyline points="118.50,364.90 118.50,363.30 133.50,363.30 133.50,364.90" stroke="#444" stroke-width="0.75" fill="none"/>
<polygon points="123.70,357.05 124.36,358.39 125.84,358.60 124.77,359.65 125.02,361.12 123.70,360.43 122.38,361.12 122.63,359.65 121.56,358.60 123.04,358.39" fill="#333"/>
<polygon points="128.30,357.05 128.96,358.39 130.44,358.60 129.37,359.65 129.62,361.12 128.30,360.43 126.98,361.12 127.23,359.65 126.16,358.60 127.64,358.39" fill="#333"/>
<polyline points="134.00,364.90 134.00,363.30 149.00,363.30 149.00,364.90" stroke="#444" stroke-width="0.75" fill="none"/>
<polygon points="136.90,357.05 137.56,358.39 139.04,358.60 137.97,359.65 138.22,361.12 136.90,360.43 135.58,361.12 135.83,359.65 134.76,358.60 136.24,358.39" fill="#333"/>
<polygon points="141.50,357.05 142.16,358.39 143.64,358.60 142.57,359.65 142.82,361.12 141.50,360.43 140.18,361.12 140.43,359.65 139.36,358.60 140.84,358.39" fill="#333"/>
<polygon points="146.10,357.05 146.76,358.39 148.24,358.60 147.17,359.65 147.42,361.12 146.10,360.43 144.78,361.12 145.03,359.65 143.96,358.60 145.44,358.39" fill="#333"/>
<polyline points="118.50,354.10 118.50,352.50 149.00,352.50 149.00,354.10" stroke="#444" stroke-width="0.75" fill="none"/>
<text x="133.75" y="350.98" font-size="8.0" text-anchor="middle" fill="#231f20" transform="matrix(1 0 0 1.07 0 -24.367)" stroke="#231f20" stroke-width="0.22">ns</text>
<line x1="184.50" y1="352.50" x2="184.50" y2="436.20" stroke="#231f20" stroke-width="1.0"/>
<line x1="182.10" y1="436.20" x2="184.50" y2="436.20" stroke="#231f20" stroke-width="1.0"/>
<text x="177.00" y="439.56" font-size="11.0" text-anchor="end" fill="#231f20" transform="matrix(1 0 0 1.07 0 -30.492)" stroke="#231f20" stroke-width="0.22">0</text>
<line x1="182.10" y1="419.46" x2="184.50" y2="419.46" stroke="#231f20" stroke-width="1.0"/>
<text x="177.00" y="423.40" font-size="11.0" text-anchor="end" fill="#231f20" transform="matrix(1 0 0 1.07 0 -29.361)" stroke="#231f20" stroke-width="0.22">100</text>
<line x1="182.10" y1="402.72" x2="184.50" y2="402.72" stroke="#231f20" stroke-width="1.0"/>
<text x="177.00" y="407.24" font-size="11.0" text-anchor="end" fill="#231f20" transform="matrix(1 0 0 1.07 0 -28.230)" stroke="#231f20" stroke-width="0.22">200</text>
<line x1="182.10" y1="385.98" x2="184.50" y2="385.98" stroke="#231f20" stroke-width="1.0"/>
<text x="177.00" y="391.08" font-size="11.0" text-anchor="end" fill="#231f20" transform="matrix(1 0 0 1.07 0 -27.098)" stroke="#231f20" stroke-width="0.22">300</text>
<line x1="182.10" y1="369.24" x2="184.50" y2="369.24" stroke="#231f20" stroke-width="1.0"/>
<text x="177.00" y="374.92" font-size="11.0" text-anchor="end" fill="#231f20" transform="matrix(1 0 0 1.07 0 -25.967)" stroke="#231f20" stroke-width="0.22">400</text>
<line x1="182.10" y1="352.50" x2="184.50" y2="352.50" stroke="#231f20" stroke-width="1.0"/>
<text x="177.00" y="358.76" font-size="11.0" text-anchor="end" fill="#231f20" transform="matrix(1 0 0 1.07 0 -24.836)" stroke="#231f20" stroke-width="0.22">500</text>
<line x1="184.50" y1="436.20" x2="246.00" y2="436.20" stroke="#231f20" stroke-width="1.0"/>
<text x="217.00" y="342.60" font-size="11.3" text-anchor="middle" fill="#231f20" transform="matrix(1 0 0 1.07 0 -23.697)" stroke="#231f20" stroke-width="0.22">MDA-MB-231</text>
<rect x="189.40" y="379.28" width="10.00" height="56.92" fill="#fff" stroke="#333" stroke-width="1.05"/>
<line x1="194.40" y1="374.26" x2="194.40" y2="384.31" stroke="#222" stroke-width="0.8"/>
<line x1="192.20" y1="374.26" x2="196.60" y2="374.26" stroke="#222" stroke-width="0.8"/>
<line x1="192.20" y1="384.31" x2="196.60" y2="384.31" stroke="#222" stroke-width="0.8"/>
<circle cx="197.49" cy="386.08" r="1.90" fill="#e8323c" stroke="none" stroke-width="1.0"/>
<circle cx="192.11" cy="385.18" r="1.90" fill="#e8323c" stroke="none" stroke-width="1.0"/>
<circle cx="195.96" cy="384.72" r="1.90" fill="#e8323c" stroke="none" stroke-width="1.0"/>
<circle cx="196.89" cy="381.87" r="1.90" fill="#e8323c" stroke="none" stroke-width="1.0"/>
<circle cx="196.99" cy="380.44" r="1.90" fill="#e8323c" stroke="none" stroke-width="1.0"/>
<circle cx="197.30" cy="379.02" r="1.90" fill="#e8323c" stroke="none" stroke-width="1.0"/>
<circle cx="193.57" cy="376.20" r="1.90" fill="#e8323c" stroke="none" stroke-width="1.0"/>
<circle cx="196.15" cy="375.00" r="1.90" fill="#e8323c" stroke="none" stroke-width="1.0"/>
<circle cx="194.91" cy="374.20" r="1.90" fill="#e8323c" stroke="none" stroke-width="1.0"/>
<circle cx="192.15" cy="370.98" r="1.90" fill="#e8323c" stroke="none" stroke-width="1.0"/>
<line x1="190.90" y1="379.28" x2="197.90" y2="379.28" stroke="#222" stroke-width="1.0"/>
<rect x="204.80" y="415.27" width="10.00" height="20.93" fill="#fff" stroke="#333" stroke-width="1.05"/>
<line x1="209.80" y1="412.26" x2="209.80" y2="418.29" stroke="#222" stroke-width="0.8"/>
<line x1="207.60" y1="412.26" x2="212.00" y2="412.26" stroke="#222" stroke-width="0.8"/>
<line x1="207.60" y1="418.29" x2="212.00" y2="418.29" stroke="#222" stroke-width="0.8"/>
<rect x="209.68" y="417.52" width="3.80" height="3.80" fill="#1a96b4" stroke="none" stroke-width="1.0"/>
<rect x="206.32" y="416.62" width="3.80" height="3.80" fill="#1a96b4" stroke="none" stroke-width="1.0"/>
<rect x="210.78" y="416.92" width="3.80" height="3.80" fill="#1a96b4" stroke="none" stroke-width="1.0"/>
<rect x="207.37" y="415.01" width="3.80" height="3.80" fill="#1a96b4" stroke="none" stroke-width="1.0"/>
<rect x="204.99" y="415.24" width="3.80" height="3.80" fill="#1a96b4" stroke="none" stroke-width="1.0"/>
<rect x="205.90" y="413.59" width="3.80" height="3.80" fill="#1a96b4" stroke="none" stroke-width="1.0"/>
<rect x="208.75" y="412.28" width="3.80" height="3.80" fill="#1a96b4" stroke="none" stroke-width="1.0"/>
<rect x="209.39" y="412.57" width="3.80" height="3.80" fill="#1a96b4" stroke="none" stroke-width="1.0"/>
<rect x="212.05" y="411.49" width="3.80" height="3.80" fill="#1a96b4" stroke="none" stroke-width="1.0"/>
<rect x="208.04" y="409.83" width="3.80" height="3.80" fill="#1a96b4" stroke="none" stroke-width="1.0"/>
<rect x="209.80" y="409.39" width="3.80" height="3.80" fill="#1a96b4" stroke="none" stroke-width="1.0"/>
<rect x="212.47" y="408.31" width="3.80" height="3.80" fill="#1a96b4" stroke="none" stroke-width="1.0"/>
<line x1="206.30" y1="415.27" x2="213.30" y2="415.27" stroke="#222" stroke-width="1.0"/>
<rect x="220.20" y="400.21" width="10.00" height="35.99" fill="#fff" stroke="#333" stroke-width="1.05"/>
<line x1="225.20" y1="396.19" x2="225.20" y2="404.23" stroke="#222" stroke-width="0.8"/>
<line x1="223.00" y1="396.19" x2="227.40" y2="396.19" stroke="#222" stroke-width="0.8"/>
<line x1="223.00" y1="404.23" x2="227.40" y2="404.23" stroke="#222" stroke-width="0.8"/>
<polygon points="223.87,404.90 221.68,408.80 226.05,408.80" fill="#1a96b4"/>
<polygon points="223.32,402.41 221.14,406.31 225.51,406.31" fill="#1a96b4"/>
<polygon points="221.26,401.10 219.08,404.99 223.45,404.99" fill="#1a96b4"/>
<polygon points="225.44,399.17 223.26,403.07 227.63,403.07" fill="#1a96b4"/>
<polygon points="226.76,399.37 224.58,403.26 228.95,403.26" fill="#1a96b4"/>
<polygon points="222.28,397.64 220.10,401.53 224.47,401.53" fill="#1a96b4"/>
<polygon points="221.73,395.95 219.54,399.85 223.91,399.85" fill="#1a96b4"/>
<polygon points="228.71,395.16 226.52,399.06 230.89,399.06" fill="#1a96b4"/>
<polygon points="220.52,392.84 218.34,396.74 222.71,396.74" fill="#1a96b4"/>
<polygon points="220.56,391.34 218.38,395.24 222.75,395.24" fill="#1a96b4"/>
<line x1="221.70" y1="400.21" x2="228.70" y2="400.21" stroke="#222" stroke-width="1.0"/>
<rect x="236.00" y="428.67" width="10.00" height="7.53" fill="#fff" stroke="#333" stroke-width="1.05"/>
<line x1="241.00" y1="426.66" x2="241.00" y2="430.68" stroke="#222" stroke-width="0.8"/>
<line x1="238.80" y1="426.66" x2="243.20" y2="426.66" stroke="#222" stroke-width="0.8"/>
<line x1="238.80" y1="430.68" x2="243.20" y2="430.68" stroke="#222" stroke-width="0.8"/>
<polygon points="244.88,434.13 242.70,430.23 247.07,430.23" fill="#1a96b4"/>
<polygon points="239.14,433.17 236.95,429.27 241.32,429.27" fill="#1a96b4"/>
<polygon points="239.94,432.74 237.75,428.85 242.12,428.85" fill="#1a96b4"/>
<polygon points="245.80,432.33 243.61,428.43 247.98,428.43" fill="#1a96b4"/>
<polygon points="240.26,431.73 238.07,427.83 242.44,427.83" fill="#1a96b4"/>
<polygon points="240.02,430.36 237.83,426.47 242.20,426.47" fill="#1a96b4"/>
<polygon points="238.55,429.46 236.37,425.56 240.74,425.56" fill="#1a96b4"/>
<polygon points="244.77,428.79 242.58,424.90 246.95,424.90" fill="#1a96b4"/>
<polygon points="244.74,428.43 242.55,424.54 246.92,424.54" fill="#1a96b4"/>
<polygon points="244.18,427.99 242.00,424.09 246.37,424.09" fill="#1a96b4"/>
<line x1="237.50" y1="428.67" x2="244.50" y2="428.67" stroke="#222" stroke-width="1.0"/>
<polyline points="194.00,365.10 194.00,363.50 209.80,363.50 209.80,365.10" stroke="#444" stroke-width="0.75" fill="none"/>
<polygon points="197.30,357.05 197.96,358.39 199.44,358.60 198.37,359.65 198.62,361.12 197.30,360.43 195.98,361.12 196.23,359.65 195.16,358.60 196.64,358.39" fill="#333"/>
<polygon points="201.90,357.05 202.56,358.39 204.04,358.60 202.97,359.65 203.22,361.12 201.90,360.43 200.58,361.12 200.83,359.65 199.76,358.60 201.24,358.39" fill="#333"/>
<polygon points="206.50,357.05 207.16,358.39 208.64,358.60 207.57,359.65 207.82,361.12 206.50,360.43 205.18,361.12 205.43,359.65 204.36,358.60 205.84,358.39" fill="#333"/>
<polyline points="210.20,365.10 210.20,363.50 225.00,363.50 225.00,365.10" stroke="#444" stroke-width="0.75" fill="none"/>
<polygon points="213.00,357.05 213.66,358.39 215.14,358.60 214.07,359.65 214.32,361.12 213.00,360.43 211.68,361.12 211.93,359.65 210.86,358.60 212.34,358.39" fill="#333"/>
<polygon points="217.60,357.05 218.26,358.39 219.74,358.60 218.67,359.65 218.92,361.12 217.60,360.43 216.28,361.12 216.53,359.65 215.46,358.60 216.94,358.39" fill="#333"/>
<polygon points="222.20,357.05 222.86,358.39 224.34,358.60 223.27,359.65 223.52,361.12 222.20,360.43 220.88,361.12 221.13,359.65 220.06,358.60 221.54,358.39" fill="#333"/>
<polyline points="225.50,365.10 225.50,363.50 241.00,363.50 241.00,365.10" stroke="#444" stroke-width="0.75" fill="none"/>
<polygon points="228.65,357.05 229.31,358.39 230.79,358.60 229.72,359.65 229.97,361.12 228.65,360.43 227.33,361.12 227.58,359.65 226.51,358.60 227.99,358.39" fill="#333"/>
<polygon points="233.25,357.05 233.91,358.39 235.39,358.60 234.32,359.65 234.57,361.12 233.25,360.43 231.93,361.12 232.18,359.65 231.11,358.60 232.59,358.39" fill="#333"/>
<polygon points="237.85,357.05 238.51,358.39 239.99,358.60 238.92,359.65 239.17,361.12 237.85,360.43 236.53,361.12 236.78,359.65 235.71,358.60 237.19,358.39" fill="#333"/>
<polyline points="210.20,354.10 210.20,352.50 241.00,352.50 241.00,354.10" stroke="#444" stroke-width="0.75" fill="none"/>
<polygon points="225.60,347.05 226.26,348.39 227.74,348.60 226.67,349.65 226.92,351.12 225.60,350.43 224.28,351.12 224.53,349.65 223.46,348.60 224.94,348.39" fill="#333"/>
<text x="84.60" y="451.28" font-size="10.5" text-anchor="end" fill="#231f20" transform="matrix(1 0 0 1.07 0 -31.325)" stroke="#231f20" stroke-width="0.22">shNC</text>
<line x1="100.25" y1="447.50" x2="105.35" y2="447.50" stroke="#333" stroke-width="1.0"/>
<line x1="102.80" y1="444.95" x2="102.80" y2="450.05" stroke="#333" stroke-width="1.0"/>
<line x1="115.75" y1="447.50" x2="120.45" y2="447.50" stroke="#333" stroke-width="0.95"/>
<line x1="131.15" y1="447.50" x2="135.85" y2="447.50" stroke="#333" stroke-width="0.95"/>
<line x1="146.55" y1="447.50" x2="151.25" y2="447.50" stroke="#333" stroke-width="0.95"/>
<line x1="191.85" y1="447.50" x2="196.95" y2="447.50" stroke="#333" stroke-width="1.0"/>
<line x1="194.40" y1="444.95" x2="194.40" y2="450.05" stroke="#333" stroke-width="1.0"/>
<line x1="207.45" y1="447.50" x2="212.15" y2="447.50" stroke="#333" stroke-width="0.95"/>
<line x1="222.85" y1="447.50" x2="227.55" y2="447.50" stroke="#333" stroke-width="0.95"/>
<line x1="238.65" y1="447.50" x2="243.35" y2="447.50" stroke="#333" stroke-width="0.95"/>
<text x="84.60" y="465.38" font-size="10.5" text-anchor="end" fill="#231f20" transform="matrix(1 0 0 1.07 0 -32.312)" stroke="#231f20" stroke-width="0.22">shPPP1R14B #1</text>
<line x1="100.45" y1="461.60" x2="105.15" y2="461.60" stroke="#333" stroke-width="0.95"/>
<line x1="115.55" y1="461.60" x2="120.65" y2="461.60" stroke="#333" stroke-width="1.0"/>
<line x1="118.10" y1="459.05" x2="118.10" y2="464.15" stroke="#333" stroke-width="1.0"/>
<line x1="130.95" y1="461.60" x2="136.05" y2="461.60" stroke="#333" stroke-width="1.0"/>
<line x1="133.50" y1="459.05" x2="133.50" y2="464.15" stroke="#333" stroke-width="1.0"/>
<line x1="146.35" y1="461.60" x2="151.45" y2="461.60" stroke="#333" stroke-width="1.0"/>
<line x1="148.90" y1="459.05" x2="148.90" y2="464.15" stroke="#333" stroke-width="1.0"/>
<line x1="192.05" y1="461.60" x2="196.75" y2="461.60" stroke="#333" stroke-width="0.95"/>
<line x1="207.25" y1="461.60" x2="212.35" y2="461.60" stroke="#333" stroke-width="1.0"/>
<line x1="209.80" y1="459.05" x2="209.80" y2="464.15" stroke="#333" stroke-width="1.0"/>
<line x1="222.65" y1="461.60" x2="227.75" y2="461.60" stroke="#333" stroke-width="1.0"/>
<line x1="225.20" y1="459.05" x2="225.20" y2="464.15" stroke="#333" stroke-width="1.0"/>
<line x1="238.45" y1="461.60" x2="243.55" y2="461.60" stroke="#333" stroke-width="1.0"/>
<line x1="241.00" y1="459.05" x2="241.00" y2="464.15" stroke="#333" stroke-width="1.0"/>
<text x="84.60" y="479.18" font-size="10.5" text-anchor="end" fill="#231f20" transform="matrix(1 0 0 1.07 0 -33.278)" stroke="#231f20" stroke-width="0.22">STMN1-WT</text>
<line x1="100.45" y1="475.40" x2="105.15" y2="475.40" stroke="#333" stroke-width="0.95"/>
<line x1="115.75" y1="475.40" x2="120.45" y2="475.40" stroke="#333" stroke-width="0.95"/>
<line x1="130.95" y1="475.40" x2="136.05" y2="475.40" stroke="#333" stroke-width="1.0"/>
<line x1="133.50" y1="472.85" x2="133.50" y2="477.95" stroke="#333" stroke-width="1.0"/>
<line x1="146.55" y1="475.40" x2="151.25" y2="475.40" stroke="#333" stroke-width="0.95"/>
<line x1="192.05" y1="475.40" x2="196.75" y2="475.40" stroke="#333" stroke-width="0.95"/>
<line x1="207.45" y1="475.40" x2="212.15" y2="475.40" stroke="#333" stroke-width="0.95"/>
<line x1="222.65" y1="475.40" x2="227.75" y2="475.40" stroke="#333" stroke-width="1.0"/>
<line x1="225.20" y1="472.85" x2="225.20" y2="477.95" stroke="#333" stroke-width="1.0"/>
<line x1="238.65" y1="475.40" x2="243.35" y2="475.40" stroke="#333" stroke-width="0.95"/>
<text x="84.60" y="493.28" font-size="10.5" text-anchor="end" fill="#231f20" transform="matrix(1 0 0 1.07 0 -34.265)" stroke="#231f20" stroke-width="0.22">STMN1-Mut</text>
<line x1="100.45" y1="489.50" x2="105.15" y2="489.50" stroke="#333" stroke-width="0.95"/>
<line x1="115.75" y1="489.50" x2="120.45" y2="489.50" stroke="#333" stroke-width="0.95"/>
<line x1="131.15" y1="489.50" x2="135.85" y2="489.50" stroke="#333" stroke-width="0.95"/>
<line x1="146.35" y1="489.50" x2="151.45" y2="489.50" stroke="#333" stroke-width="1.0"/>
<line x1="148.90" y1="486.95" x2="148.90" y2="492.05" stroke="#333" stroke-width="1.0"/>
<line x1="192.05" y1="489.50" x2="196.75" y2="489.50" stroke="#333" stroke-width="0.95"/>
<line x1="207.45" y1="489.50" x2="212.15" y2="489.50" stroke="#333" stroke-width="0.95"/>
<line x1="222.85" y1="489.50" x2="227.55" y2="489.50" stroke="#333" stroke-width="0.95"/>
<line x1="238.45" y1="489.50" x2="243.55" y2="489.50" stroke="#333" stroke-width="1.0"/>
<line x1="241.00" y1="486.95" x2="241.00" y2="492.05" stroke="#333" stroke-width="1.0"/>
<text x="271.00" y="343.25" font-size="18.5" text-anchor="start" fill="#231f20" font-weight="bold" transform="matrix(1 0 0 1.07 0 -23.561)" stroke="#231f20" stroke-width="0.35">G</text>
<text x="286.45" y="406.00" font-size="11.57" text-anchor="middle" fill="#231f20" transform="rotate(-90 286.45 406.00)">Survival fraction</text>
<text x="259.90" y="470.00" font-size="10.58" text-anchor="start" fill="#231f20" transform="matrix(1 0 0 1.07 0 -32.633)" stroke="#231f20" stroke-width="0.22">PTX nmol/L 0.01 0.1 1 10 100 1,000</text>
<text x="445.80" y="470.00" font-size="10.55" text-anchor="start" fill="#231f20" transform="matrix(1 0 0 1.07 0 -32.634)" stroke="#231f20" stroke-width="0.22">0.01 0.1 1 10 100 1,000</text>
<text x="371.60" y="343.30" font-size="11.3" text-anchor="middle" fill="#231f20" transform="matrix(1 0 0 1.07 0 -23.746)" stroke="#231f20" stroke-width="0.22">SUM159</text>
<line x1="319.20" y1="355.80" x2="319.20" y2="455.50" stroke="#231f20" stroke-width="1.1"/>
<line x1="315.20" y1="455.50" x2="319.20" y2="455.50" stroke="#231f20" stroke-width="1.1"/>
<text x="312.40" y="458.87" font-size="11.3" text-anchor="end" fill="#231f20" transform="matrix(1 0 0 1.07 0 -31.836)" stroke="#231f20" stroke-width="0.22">0</text>
<line x1="315.20" y1="435.56" x2="319.20" y2="435.56" stroke="#231f20" stroke-width="1.1"/>
<text x="312.40" y="439.25" font-size="11.3" text-anchor="end" fill="#231f20" transform="matrix(1 0 0 1.07 0 -30.463)" stroke="#231f20" stroke-width="0.22">0.2</text>
<line x1="315.20" y1="415.62" x2="319.20" y2="415.62" stroke="#231f20" stroke-width="1.1"/>
<text x="312.40" y="419.63" font-size="11.3" text-anchor="end" fill="#231f20" transform="matrix(1 0 0 1.07 0 -29.089)" stroke="#231f20" stroke-width="0.22">0.4</text>
<line x1="315.20" y1="395.68" x2="319.20" y2="395.68" stroke="#231f20" stroke-width="1.1"/>
<text x="312.40" y="400.01" font-size="11.3" text-anchor="end" fill="#231f20" transform="matrix(1 0 0 1.07 0 -27.716)" stroke="#231f20" stroke-width="0.22">0.6</text>
<line x1="315.20" y1="375.74" x2="319.20" y2="375.74" stroke="#231f20" stroke-width="1.1"/>
<text x="312.40" y="380.39" font-size="11.3" text-anchor="end" fill="#231f20" transform="matrix(1 0 0 1.07 0 -26.342)" stroke="#231f20" stroke-width="0.22">0.8</text>
<line x1="315.20" y1="355.80" x2="319.20" y2="355.80" stroke="#231f20" stroke-width="1.1"/>
<text x="312.40" y="360.77" font-size="11.3" text-anchor="end" fill="#231f20" transform="matrix(1 0 0 1.07 0 -24.969)" stroke="#231f20" stroke-width="0.22">1.0</text>
<line x1="319.20" y1="455.50" x2="419.50" y2="455.50" stroke="#231f20" stroke-width="1.1"/>
<line x1="327.70" y1="455.50" x2="327.70" y2="459.50" stroke="#231f20" stroke-width="1.1"/>
<line x1="344.20" y1="455.50" x2="344.20" y2="459.50" stroke="#231f20" stroke-width="1.1"/>
<line x1="360.70" y1="455.50" x2="360.70" y2="459.50" stroke="#231f20" stroke-width="1.1"/>
<line x1="377.50" y1="455.50" x2="377.50" y2="459.50" stroke="#231f20" stroke-width="1.1"/>
<line x1="394.00" y1="455.50" x2="394.00" y2="459.50" stroke="#231f20" stroke-width="1.1"/>
<line x1="410.70" y1="455.50" x2="410.70" y2="459.50" stroke="#231f20" stroke-width="1.1"/>
<polyline points="327.70,355.80 344.20,364.77 360.70,371.75 377.50,391.69 394.00,419.61 410.70,442.54" stroke="#4ab6cc" stroke-width="0.9" fill="none"/>
<line x1="377.50" y1="391.69" x2="377.50" y2="387.70" stroke="#4ab6cc" stroke-width="0.8"/>
<line x1="375.50" y1="387.70" x2="379.50" y2="387.70" stroke="#4ab6cc" stroke-width="0.8"/>
<line x1="394.00" y1="419.61" x2="394.00" y2="416.62" stroke="#4ab6cc" stroke-width="0.8"/>
<line x1="392.00" y1="416.62" x2="396.00" y2="416.62" stroke="#4ab6cc" stroke-width="0.8"/>
<polygon points="327.70,358.56 325.06,353.85 330.34,353.85" fill="#1a96b4"/>
<polygon points="344.20,367.53 341.56,362.82 346.84,362.82" fill="#1a96b4"/>
<polygon points="360.70,374.51 358.06,369.80 363.34,369.80" fill="#1a96b4"/>
<polygon points="377.50,394.45 374.86,389.74 380.14,389.74" fill="#1a96b4"/>
<polygon points="394.00,422.37 391.36,417.65 396.64,417.65" fill="#1a96b4"/>
<polygon points="410.70,445.30 408.06,440.58 413.34,440.58" fill="#1a96b4"/>
<polyline points="327.70,355.80 344.20,375.74 360.70,390.69 377.50,417.61 394.00,431.57 410.70,440.55" stroke="#3aaec6" stroke-width="0.9" fill="none"/>
<line x1="360.70" y1="390.69" x2="360.70" y2="385.71" stroke="#3aaec6" stroke-width="0.8"/>
<line x1="358.70" y1="385.71" x2="362.70" y2="385.71" stroke="#3aaec6" stroke-width="0.8"/>
<line x1="377.50" y1="417.61" x2="377.50" y2="411.63" stroke="#3aaec6" stroke-width="0.8"/>
<line x1="375.50" y1="411.63" x2="379.50" y2="411.63" stroke="#3aaec6" stroke-width="0.8"/>
<polygon points="327.70,353.04 325.06,357.75 330.34,357.75" fill="#1a96b4"/>
<polygon points="344.20,372.98 341.56,377.69 346.84,377.69" fill="#1a96b4"/>
<polygon points="360.70,387.94 358.06,392.65 363.34,392.65" fill="#1a96b4"/>
<polygon points="377.50,414.85 374.86,419.57 380.14,419.57" fill="#1a96b4"/>
<polygon points="394.00,428.81 391.36,433.53 396.64,433.53" fill="#1a96b4"/>
<polygon points="410.70,437.79 408.06,442.50 413.34,442.50" fill="#1a96b4"/>
<polyline points="327.70,355.80 344.20,372.75 360.70,379.73 377.50,400.67 394.00,424.59 410.70,440.55" stroke="#2aa2bc" stroke-width="0.9" fill="none"/>
<line x1="344.20" y1="372.75" x2="344.20" y2="370.75" stroke="#2aa2bc" stroke-width="0.8"/>
<line x1="342.20" y1="370.75" x2="346.20" y2="370.75" stroke="#2aa2bc" stroke-width="0.8"/>
<line x1="360.70" y1="379.73" x2="360.70" y2="376.74" stroke="#2aa2bc" stroke-width="0.8"/>
<line x1="358.70" y1="376.74" x2="362.70" y2="376.74" stroke="#2aa2bc" stroke-width="0.8"/>
<line x1="377.50" y1="400.67" x2="377.50" y2="398.67" stroke="#2aa2bc" stroke-width="0.8"/>
<line x1="375.50" y1="398.67" x2="379.50" y2="398.67" stroke="#2aa2bc" stroke-width="0.8"/>
<line x1="394.00" y1="424.59" x2="394.00" y2="421.60" stroke="#2aa2bc" stroke-width="0.8"/>
<line x1="392.00" y1="421.60" x2="396.00" y2="421.60" stroke="#2aa2bc" stroke-width="0.8"/>
<rect x="325.40" y="353.50" width="4.60" height="4.60" fill="#1a96b4" stroke="none" stroke-width="1.0"/>
<rect x="341.90" y="370.45" width="4.60" height="4.60" fill="#1a96b4" stroke="none" stroke-width="1.0"/>
<rect x="358.40" y="377.43" width="4.60" height="4.60" fill="#1a96b4" stroke="none" stroke-width="1.0"/>
<rect x="375.20" y="398.37" width="4.60" height="4.60" fill="#1a96b4" stroke="none" stroke-width="1.0"/>
<rect x="391.70" y="422.29" width="4.60" height="4.60" fill="#1a96b4" stroke="none" stroke-width="1.0"/>
<rect x="408.40" y="438.25" width="4.60" height="4.60" fill="#1a96b4" stroke="none" stroke-width="1.0"/>
<polyline points="327.70,355.80 344.20,357.79 360.70,359.79 377.50,368.76 394.00,394.68 410.70,430.57" stroke="#e8323c" stroke-width="0.9" fill="none"/>
<line x1="377.50" y1="368.76" x2="377.50" y2="364.77" stroke="#e8323c" stroke-width="0.8"/>
<line x1="375.50" y1="364.77" x2="379.50" y2="364.77" stroke="#e8323c" stroke-width="0.8"/>
<line x1="394.00" y1="394.68" x2="394.00" y2="390.69" stroke="#e8323c" stroke-width="0.8"/>
<line x1="392.00" y1="390.69" x2="396.00" y2="390.69" stroke="#e8323c" stroke-width="0.8"/>
<circle cx="327.70" cy="355.80" r="2.30" fill="#e8323c" stroke="none" stroke-width="1.0"/>
<circle cx="344.20" cy="357.79" r="2.30" fill="#e8323c" stroke="none" stroke-width="1.0"/>
<circle cx="360.70" cy="359.79" r="2.30" fill="#e8323c" stroke="none" stroke-width="1.0"/>
<circle cx="377.50" cy="368.76" r="2.30" fill="#e8323c" stroke="none" stroke-width="1.0"/>
<circle cx="394.00" cy="394.68" r="2.30" fill="#e8323c" stroke="none" stroke-width="1.0"/>
<circle cx="410.70" cy="430.57" r="2.30" fill="#e8323c" stroke="none" stroke-width="1.0"/>
<line x1="322.00" y1="416.10" x2="332.00" y2="416.10" stroke="#e8323c" stroke-width="0.9"/>
<circle cx="327.00" cy="416.10" r="2.10" fill="#e8323c" stroke="none" stroke-width="1.0"/>
<text x="334.00" y="418.60" font-size="7.0" text-anchor="start" fill="#231f20" transform="matrix(1 0 0 1.07 0 -29.126)" stroke="#231f20" stroke-width="0.22">shNC</text>
<line x1="322.00" y1="427.50" x2="332.00" y2="427.50" stroke="#2aa2bc" stroke-width="0.9"/>
<rect x="324.90" y="425.40" width="4.20" height="4.20" fill="#1a96b4" stroke="none" stroke-width="1.0"/>
<text x="334.00" y="430.00" font-size="7.0" text-anchor="start" fill="#231f20" transform="matrix(1 0 0 1.07 0 -29.924)" stroke="#231f20" stroke-width="0.22">shPPP1R14B #1</text>
<line x1="322.00" y1="438.60" x2="332.00" y2="438.60" stroke="#3aaec6" stroke-width="0.9"/>
<polygon points="327.00,436.08 324.58,440.39 329.42,440.39" fill="#1a96b4"/>
<text x="334.00" y="441.10" font-size="7.0" text-anchor="start" fill="#231f20" transform="matrix(1 0 0 1.07 0 -30.701)" stroke="#231f20" stroke-width="0.22">shPPP1R14B #2</text>
<line x1="322.00" y1="449.30" x2="332.00" y2="449.30" stroke="#4ab6cc" stroke-width="0.9"/>
<polygon points="327.00,451.82 324.58,447.51 329.42,447.51" fill="#1a96b4"/>
<text x="334.00" y="451.80" font-size="7.0" text-anchor="start" fill="#231f20" transform="matrix(1 0 0 1.07 0 -31.450)" stroke="#231f20" stroke-width="0.22">shPPP1R14B #3</text>
<text x="495.40" y="343.30" font-size="11.3" text-anchor="middle" fill="#231f20" transform="matrix(1 0 0 1.07 0 -23.746)" stroke="#231f20" stroke-width="0.22">MDA-MB-231</text>
<line x1="448.50" y1="356.00" x2="448.50" y2="455.00" stroke="#231f20" stroke-width="1.1"/>
<line x1="444.50" y1="455.00" x2="448.50" y2="455.00" stroke="#231f20" stroke-width="1.1"/>
<text x="440.40" y="459.47" font-size="11.3" text-anchor="end" fill="#231f20" transform="matrix(1 0 0 1.07 0 -31.878)" stroke="#231f20" stroke-width="0.22">0.2</text>
<line x1="444.50" y1="430.25" x2="448.50" y2="430.25" stroke="#231f20" stroke-width="1.1"/>
<text x="440.40" y="435.07" font-size="11.3" text-anchor="end" fill="#231f20" transform="matrix(1 0 0 1.07 0 -30.170)" stroke="#231f20" stroke-width="0.22">0.4</text>
<line x1="444.50" y1="405.50" x2="448.50" y2="405.50" stroke="#231f20" stroke-width="1.1"/>
<text x="440.40" y="410.67" font-size="11.3" text-anchor="end" fill="#231f20" transform="matrix(1 0 0 1.07 0 -28.462)" stroke="#231f20" stroke-width="0.22">0.6</text>
<line x1="444.50" y1="380.75" x2="448.50" y2="380.75" stroke="#231f20" stroke-width="1.1"/>
<text x="440.40" y="386.27" font-size="11.3" text-anchor="end" fill="#231f20" transform="matrix(1 0 0 1.07 0 -26.754)" stroke="#231f20" stroke-width="0.22">0.8</text>
<line x1="444.50" y1="356.00" x2="448.50" y2="356.00" stroke="#231f20" stroke-width="1.1"/>
<text x="440.40" y="361.87" font-size="11.3" text-anchor="end" fill="#231f20" transform="matrix(1 0 0 1.07 0 -25.046)" stroke="#231f20" stroke-width="0.22">1.0</text>
<line x1="448.50" y1="455.00" x2="547.90" y2="455.00" stroke="#231f20" stroke-width="1.1"/>
<line x1="457.40" y1="455.00" x2="457.40" y2="459.00" stroke="#231f20" stroke-width="1.1"/>
<line x1="474.00" y1="455.00" x2="474.00" y2="459.00" stroke="#231f20" stroke-width="1.1"/>
<line x1="490.50" y1="455.00" x2="490.50" y2="459.00" stroke="#231f20" stroke-width="1.1"/>
<line x1="507.20" y1="455.00" x2="507.20" y2="459.00" stroke="#231f20" stroke-width="1.1"/>
<line x1="523.90" y1="455.00" x2="523.90" y2="459.00" stroke="#231f20" stroke-width="1.1"/>
<line x1="540.40" y1="455.00" x2="540.40" y2="459.00" stroke="#231f20" stroke-width="1.1"/>
<polyline points="457.40,356.00 474.00,374.56 490.50,388.18 507.20,407.98 523.90,429.01 540.40,443.86" stroke="#4ab6cc" stroke-width="0.9" fill="none"/>
<line x1="507.20" y1="407.98" x2="507.20" y2="403.03" stroke="#4ab6cc" stroke-width="0.8"/>
<line x1="505.20" y1="403.03" x2="509.20" y2="403.03" stroke="#4ab6cc" stroke-width="0.8"/>
<polygon points="457.40,358.76 454.75,354.05 460.04,354.05" fill="#1a96b4"/>
<polygon points="474.00,377.32 471.36,372.61 476.64,372.61" fill="#1a96b4"/>
<polygon points="490.50,390.94 487.86,386.22 493.14,386.22" fill="#1a96b4"/>
<polygon points="507.20,410.74 504.56,406.02 509.84,406.02" fill="#1a96b4"/>
<polygon points="523.90,431.77 521.25,427.06 526.54,427.06" fill="#1a96b4"/>
<polygon points="540.40,446.62 537.75,441.91 543.04,441.91" fill="#1a96b4"/>
<polyline points="457.40,356.00 474.00,388.18 490.50,407.98 507.20,422.82 523.90,433.96 540.40,445.10" stroke="#3aaec6" stroke-width="0.9" fill="none"/>
<polygon points="457.40,353.24 454.75,357.95 460.04,357.95" fill="#1a96b4"/>
<polygon points="474.00,385.42 471.36,390.13 476.64,390.13" fill="#1a96b4"/>
<polygon points="490.50,405.22 487.86,409.93 493.14,409.93" fill="#1a96b4"/>
<polygon points="507.20,420.06 504.56,424.78 509.84,424.78" fill="#1a96b4"/>
<polygon points="523.90,431.20 521.25,435.92 526.54,435.92" fill="#1a96b4"/>
<polygon points="540.40,442.34 537.75,447.06 543.04,447.06" fill="#1a96b4"/>
<polyline points="457.40,356.00 474.00,383.23 490.50,401.79 507.20,414.16 523.90,429.01 540.40,445.10" stroke="#2aa2bc" stroke-width="0.9" fill="none"/>
<line x1="474.00" y1="383.23" x2="474.00" y2="380.75" stroke="#2aa2bc" stroke-width="0.8"/>
<line x1="472.00" y1="380.75" x2="476.00" y2="380.75" stroke="#2aa2bc" stroke-width="0.8"/>
<line x1="490.50" y1="401.79" x2="490.50" y2="398.08" stroke="#2aa2bc" stroke-width="0.8"/>
<line x1="488.50" y1="398.08" x2="492.50" y2="398.08" stroke="#2aa2bc" stroke-width="0.8"/>
<line x1="507.20" y1="414.16" x2="507.20" y2="411.69" stroke="#2aa2bc" stroke-width="0.8"/>
<line x1="505.20" y1="411.69" x2="509.20" y2="411.69" stroke="#2aa2bc" stroke-width="0.8"/>
<rect x="455.10" y="353.70" width="4.60" height="4.60" fill="#1a96b4" stroke="none" stroke-width="1.0"/>
<rect x="471.70" y="380.93" width="4.60" height="4.60" fill="#1a96b4" stroke="none" stroke-width="1.0"/>
<rect x="488.20" y="399.49" width="4.60" height="4.60" fill="#1a96b4" stroke="none" stroke-width="1.0"/>
<rect x="504.90" y="411.86" width="4.60" height="4.60" fill="#1a96b4" stroke="none" stroke-width="1.0"/>
<rect x="521.60" y="426.71" width="4.60" height="4.60" fill="#1a96b4" stroke="none" stroke-width="1.0"/>
<rect x="538.10" y="442.80" width="4.60" height="4.60" fill="#1a96b4" stroke="none" stroke-width="1.0"/>
<polyline points="457.40,356.00 474.00,358.48 490.50,362.19 507.20,369.61 523.90,407.98 540.40,441.39" stroke="#e8323c" stroke-width="0.9" fill="none"/>
<line x1="490.50" y1="362.19" x2="490.50" y2="360.95" stroke="#e8323c" stroke-width="0.8"/>
<line x1="488.50" y1="360.95" x2="492.50" y2="360.95" stroke="#e8323c" stroke-width="0.8"/>
<line x1="507.20" y1="369.61" x2="507.20" y2="365.90" stroke="#e8323c" stroke-width="0.8"/>
<line x1="505.20" y1="365.90" x2="509.20" y2="365.90" stroke="#e8323c" stroke-width="0.8"/>
<line x1="523.90" y1="407.98" x2="523.90" y2="405.50" stroke="#e8323c" stroke-width="0.8"/>
<line x1="521.90" y1="405.50" x2="525.90" y2="405.50" stroke="#e8323c" stroke-width="0.8"/>
<circle cx="457.40" cy="356.00" r="2.30" fill="#e8323c" stroke="none" stroke-width="1.0"/>
<circle cx="474.00" cy="358.48" r="2.30" fill="#e8323c" stroke="none" stroke-width="1.0"/>
<circle cx="490.50" cy="362.19" r="2.30" fill="#e8323c" stroke="none" stroke-width="1.0"/>
<circle cx="507.20" cy="369.61" r="2.30" fill="#e8323c" stroke="none" stroke-width="1.0"/>
<circle cx="523.90" cy="407.98" r="2.30" fill="#e8323c" stroke="none" stroke-width="1.0"/>
<circle cx="540.40" cy="441.39" r="2.30" fill="#e8323c" stroke="none" stroke-width="1.0"/>
<line x1="451.80" y1="416.90" x2="461.80" y2="416.90" stroke="#e8323c" stroke-width="0.9"/>
<circle cx="456.80" cy="416.90" r="2.10" fill="#e8323c" stroke="none" stroke-width="1.0"/>
<text x="463.80" y="419.40" font-size="7.0" text-anchor="start" fill="#231f20" transform="matrix(1 0 0 1.07 0 -29.182)" stroke="#231f20" stroke-width="0.22">shNC</text>
<line x1="451.80" y1="427.20" x2="461.80" y2="427.20" stroke="#2aa2bc" stroke-width="0.9"/>
<rect x="454.70" y="425.10" width="4.20" height="4.20" fill="#1a96b4" stroke="none" stroke-width="1.0"/>
<text x="463.80" y="429.70" font-size="7.0" text-anchor="start" fill="#231f20" transform="matrix(1 0 0 1.07 0 -29.903)" stroke="#231f20" stroke-width="0.22">shPPP1R14B #1</text>
<line x1="451.80" y1="437.90" x2="461.80" y2="437.90" stroke="#3aaec6" stroke-width="0.9"/>
<polygon points="456.80,435.38 454.38,439.69 459.22,439.69" fill="#1a96b4"/>
<text x="463.80" y="440.40" font-size="7.0" text-anchor="start" fill="#231f20" transform="matrix(1 0 0 1.07 0 -30.652)" stroke="#231f20" stroke-width="0.22">shPPP1R14B #2</text>
<line x1="451.80" y1="448.60" x2="461.80" y2="448.60" stroke="#4ab6cc" stroke-width="0.9"/>
<polygon points="456.80,451.12 454.38,446.81 459.22,446.81" fill="#1a96b4"/>
<text x="463.80" y="451.10" font-size="7.0" text-anchor="start" fill="#231f20" transform="matrix(1 0 0 1.07 0 -31.401)" stroke="#231f20" stroke-width="0.22">shPPP1R14B #3</text>
<text x="573.30" y="342.85" font-size="18.5" text-anchor="start" fill="#231f20" font-weight="bold" transform="matrix(1 0 0 1.07 0 -23.533)" stroke="#231f20" stroke-width="0.35">H</text>
<text x="599.89" y="396.50" font-size="11.4" text-anchor="middle" fill="#231f20" transform="rotate(-90 599.89 396.50)">No. of colonies</text>
<line x1="637.30" y1="356.40" x2="637.30" y2="439.00" stroke="#231f20" stroke-width="1.0"/>
<line x1="634.30" y1="439.00" x2="637.30" y2="439.00" stroke="#231f20" stroke-width="1.0"/>
<text x="630.10" y="442.23" font-size="11.2" text-anchor="end" fill="#231f20" transform="matrix(1 0 0 1.07 0 -30.674)" stroke="#231f20" stroke-width="0.22">0</text>
<line x1="634.30" y1="422.48" x2="637.30" y2="422.48" stroke="#231f20" stroke-width="1.0"/>
<text x="630.10" y="426.05" font-size="11.2" text-anchor="end" fill="#231f20" transform="matrix(1 0 0 1.07 0 -29.541)" stroke="#231f20" stroke-width="0.22">100</text>
<line x1="634.30" y1="405.96" x2="637.30" y2="405.96" stroke="#231f20" stroke-width="1.0"/>
<text x="630.10" y="409.87" font-size="11.2" text-anchor="end" fill="#231f20" transform="matrix(1 0 0 1.07 0 -28.409)" stroke="#231f20" stroke-width="0.22">200</text>
<line x1="634.30" y1="389.44" x2="637.30" y2="389.44" stroke="#231f20" stroke-width="1.0"/>
<text x="630.10" y="393.69" font-size="11.2" text-anchor="end" fill="#231f20" transform="matrix(1 0 0 1.07 0 -27.276)" stroke="#231f20" stroke-width="0.22">300</text>
<line x1="634.30" y1="372.92" x2="637.30" y2="372.92" stroke="#231f20" stroke-width="1.0"/>
<text x="630.10" y="377.51" font-size="11.2" text-anchor="end" fill="#231f20" transform="matrix(1 0 0 1.07 0 -26.144)" stroke="#231f20" stroke-width="0.22">400</text>
<line x1="634.30" y1="356.40" x2="637.30" y2="356.40" stroke="#231f20" stroke-width="1.0"/>
<text x="630.10" y="361.33" font-size="11.2" text-anchor="end" fill="#231f20" transform="matrix(1 0 0 1.07 0 -25.011)" stroke="#231f20" stroke-width="0.22">500</text>
<line x1="637.30" y1="439.00" x2="696.80" y2="439.00" stroke="#231f20" stroke-width="1.0"/>
<text x="668.70" y="343.20" font-size="11.3" text-anchor="middle" fill="#231f20" transform="matrix(1 0 0 1.07 0 -23.739)" stroke="#231f20" stroke-width="0.22">SUM159</text>
<rect x="641.70" y="377.05" width="9.00" height="61.95" fill="#fff" stroke="#333" stroke-width="1.05"/>
<line x1="646.20" y1="375.07" x2="646.20" y2="379.03" stroke="#222" stroke-width="0.8"/>
<line x1="644.00" y1="375.07" x2="648.40" y2="375.07" stroke="#222" stroke-width="0.8"/>
<line x1="644.00" y1="379.03" x2="648.40" y2="379.03" stroke="#222" stroke-width="0.8"/>
<circle cx="642.90" cy="378.21" r="1.90" fill="#e8323c" stroke="none" stroke-width="1.0"/>
<circle cx="646.20" cy="374.08" r="1.90" fill="#e8323c" stroke="none" stroke-width="1.0"/>
<circle cx="649.50" cy="377.38" r="1.90" fill="#e8323c" stroke="none" stroke-width="1.0"/>
<line x1="642.70" y1="377.05" x2="649.70" y2="377.05" stroke="#222" stroke-width="1.0"/>
<rect x="655.50" y="381.18" width="9.00" height="57.82" fill="#fff" stroke="#333" stroke-width="1.05"/>
<line x1="660.00" y1="378.21" x2="660.00" y2="384.15" stroke="#222" stroke-width="0.8"/>
<line x1="657.80" y1="378.21" x2="662.20" y2="378.21" stroke="#222" stroke-width="0.8"/>
<line x1="657.80" y1="384.15" x2="662.20" y2="384.15" stroke="#222" stroke-width="0.8"/>
<circle cx="656.70" cy="382.91" r="1.90" fill="#1a96b4" stroke="none" stroke-width="1.0"/>
<circle cx="660.00" cy="376.72" r="1.90" fill="#1a96b4" stroke="none" stroke-width="1.0"/>
<circle cx="663.30" cy="381.68" r="1.90" fill="#1a96b4" stroke="none" stroke-width="1.0"/>
<line x1="656.50" y1="381.18" x2="663.50" y2="381.18" stroke="#222" stroke-width="1.0"/>
<rect x="669.30" y="419.18" width="9.00" height="19.82" fill="#fff" stroke="#333" stroke-width="1.05"/>
<line x1="673.80" y1="418.68" x2="673.80" y2="419.67" stroke="#222" stroke-width="0.8"/>
<line x1="671.60" y1="418.68" x2="676.00" y2="418.68" stroke="#222" stroke-width="0.8"/>
<line x1="671.60" y1="419.67" x2="676.00" y2="419.67" stroke="#222" stroke-width="0.8"/>
<circle cx="670.50" cy="419.47" r="1.90" fill="#e8323c" stroke="none" stroke-width="1.0"/>
<circle cx="673.80" cy="418.43" r="1.90" fill="#e8323c" stroke="none" stroke-width="1.0"/>
<circle cx="677.10" cy="419.26" r="1.90" fill="#e8323c" stroke="none" stroke-width="1.0"/>
<line x1="670.30" y1="419.18" x2="677.30" y2="419.18" stroke="#222" stroke-width="1.0"/>
<rect x="683.10" y="431.57" width="9.00" height="7.43" fill="#fff" stroke="#333" stroke-width="1.05"/>
<line x1="687.60" y1="430.97" x2="687.60" y2="432.16" stroke="#222" stroke-width="0.8"/>
<line x1="685.40" y1="430.97" x2="689.80" y2="430.97" stroke="#222" stroke-width="0.8"/>
<line x1="685.40" y1="432.16" x2="689.80" y2="432.16" stroke="#222" stroke-width="0.8"/>
<circle cx="684.30" cy="431.91" r="1.90" fill="#1a96b4" stroke="none" stroke-width="1.0"/>
<circle cx="687.60" cy="430.67" r="1.90" fill="#1a96b4" stroke="none" stroke-width="1.0"/>
<circle cx="690.90" cy="431.67" r="1.90" fill="#1a96b4" stroke="none" stroke-width="1.0"/>
<line x1="684.10" y1="431.57" x2="691.10" y2="431.57" stroke="#222" stroke-width="1.0"/>
<polyline points="646.20,360.80 646.20,359.20 673.80,359.20 673.80,360.80" stroke="#444" stroke-width="0.75" fill="none"/>
<polygon points="655.40,352.85 656.06,354.19 657.54,354.40 656.47,355.45 656.72,356.92 655.40,356.22 654.08,356.92 654.33,355.45 653.26,354.40 654.74,354.19" fill="#333"/>
<polygon points="660.00,352.85 660.66,354.19 662.14,354.40 661.07,355.45 661.32,356.92 660.00,356.22 658.68,356.92 658.93,355.45 657.86,354.40 659.34,354.19" fill="#333"/>
<polygon points="664.60,352.85 665.26,354.19 666.74,354.40 665.67,355.45 665.92,356.92 664.60,356.22 663.28,356.92 663.53,355.45 662.46,354.40 663.94,354.19" fill="#333"/>
<polyline points="646.20,368.30 646.20,366.70 660.00,366.70 660.00,368.30" stroke="#444" stroke-width="0.75" fill="none"/>
<text x="653.10" y="364.88" font-size="8.0" text-anchor="middle" fill="#231f20" transform="matrix(1 0 0 1.07 0 -25.340)" stroke="#231f20" stroke-width="0.22">ns</text>
<polyline points="673.80,411.90 673.80,410.30 687.60,410.30 687.60,411.90" stroke="#444" stroke-width="0.75" fill="none"/>
<polygon points="676.10,403.15 676.76,404.49 678.24,404.70 677.17,405.75 677.42,407.22 676.10,406.53 674.78,407.22 675.03,405.75 673.96,404.70 675.44,404.49" fill="#333"/>
<polygon points="680.70,403.15 681.36,404.49 682.84,404.70 681.77,405.75 682.02,407.22 680.70,406.53 679.38,407.22 679.63,405.75 678.56,404.70 680.04,404.49" fill="#333"/>
<polygon points="685.30,403.15 685.96,404.49 687.44,404.70 686.37,405.75 686.62,407.22 685.30,406.53 683.98,407.22 684.23,405.75 683.16,404.70 684.64,404.49" fill="#333"/>
<line x1="723.80" y1="356.40" x2="723.80" y2="439.00" stroke="#231f20" stroke-width="1.0"/>
<line x1="720.80" y1="439.00" x2="723.80" y2="439.00" stroke="#231f20" stroke-width="1.0"/>
<text x="716.70" y="442.23" font-size="11.2" text-anchor="end" fill="#231f20" transform="matrix(1 0 0 1.07 0 -30.674)" stroke="#231f20" stroke-width="0.22">0</text>
<line x1="720.80" y1="422.48" x2="723.80" y2="422.48" stroke="#231f20" stroke-width="1.0"/>
<text x="716.70" y="426.05" font-size="11.2" text-anchor="end" fill="#231f20" transform="matrix(1 0 0 1.07 0 -29.541)" stroke="#231f20" stroke-width="0.22">100</text>
<line x1="720.80" y1="405.96" x2="723.80" y2="405.96" stroke="#231f20" stroke-width="1.0"/>
<text x="716.70" y="409.87" font-size="11.2" text-anchor="end" fill="#231f20" transform="matrix(1 0 0 1.07 0 -28.409)" stroke="#231f20" stroke-width="0.22">200</text>
<line x1="720.80" y1="389.44" x2="723.80" y2="389.44" stroke="#231f20" stroke-width="1.0"/>
<text x="716.70" y="393.69" font-size="11.2" text-anchor="end" fill="#231f20" transform="matrix(1 0 0 1.07 0 -27.276)" stroke="#231f20" stroke-width="0.22">300</text>
<line x1="720.80" y1="372.92" x2="723.80" y2="372.92" stroke="#231f20" stroke-width="1.0"/>
<text x="716.70" y="377.51" font-size="11.2" text-anchor="end" fill="#231f20" transform="matrix(1 0 0 1.07 0 -26.144)" stroke="#231f20" stroke-width="0.22">400</text>
<line x1="720.80" y1="356.40" x2="723.80" y2="356.40" stroke="#231f20" stroke-width="1.0"/>
<text x="716.70" y="361.33" font-size="11.2" text-anchor="end" fill="#231f20" transform="matrix(1 0 0 1.07 0 -25.011)" stroke="#231f20" stroke-width="0.22">500</text>
<line x1="723.80" y1="439.00" x2="784.70" y2="439.00" stroke="#231f20" stroke-width="1.0"/>
<text x="751.60" y="343.20" font-size="11.3" text-anchor="middle" fill="#231f20" transform="matrix(1 0 0 1.07 0 -23.739)" stroke="#231f20" stroke-width="0.22">MDA-MB-231</text>
<rect x="729.40" y="372.09" width="9.00" height="66.91" fill="#fff" stroke="#333" stroke-width="1.05"/>
<line x1="733.90" y1="370.61" x2="733.90" y2="373.58" stroke="#222" stroke-width="0.8"/>
<line x1="731.70" y1="370.61" x2="736.10" y2="370.61" stroke="#222" stroke-width="0.8"/>
<line x1="731.70" y1="373.58" x2="736.10" y2="373.58" stroke="#222" stroke-width="0.8"/>
<circle cx="730.60" cy="372.96" r="1.90" fill="#e8323c" stroke="none" stroke-width="1.0"/>
<circle cx="733.90" cy="369.86" r="1.90" fill="#e8323c" stroke="none" stroke-width="1.0"/>
<circle cx="737.20" cy="372.34" r="1.90" fill="#e8323c" stroke="none" stroke-width="1.0"/>
<line x1="730.40" y1="372.09" x2="737.40" y2="372.09" stroke="#222" stroke-width="1.0"/>
<rect x="743.30" y="376.22" width="9.00" height="62.78" fill="#fff" stroke="#333" stroke-width="1.05"/>
<line x1="747.80" y1="374.24" x2="747.80" y2="378.21" stroke="#222" stroke-width="0.8"/>
<line x1="745.60" y1="374.24" x2="750.00" y2="374.24" stroke="#222" stroke-width="0.8"/>
<line x1="745.60" y1="378.21" x2="750.00" y2="378.21" stroke="#222" stroke-width="0.8"/>
<circle cx="744.50" cy="377.38" r="1.90" fill="#1a96b4" stroke="none" stroke-width="1.0"/>
<circle cx="747.80" cy="373.25" r="1.90" fill="#1a96b4" stroke="none" stroke-width="1.0"/>
<circle cx="751.10" cy="376.55" r="1.90" fill="#1a96b4" stroke="none" stroke-width="1.0"/>
<line x1="744.30" y1="376.22" x2="751.30" y2="376.22" stroke="#222" stroke-width="1.0"/>
<rect x="757.10" y="418.35" width="9.00" height="20.65" fill="#fff" stroke="#333" stroke-width="1.05"/>
<line x1="761.60" y1="416.86" x2="761.60" y2="419.84" stroke="#222" stroke-width="0.8"/>
<line x1="759.40" y1="416.86" x2="763.80" y2="416.86" stroke="#222" stroke-width="0.8"/>
<line x1="759.40" y1="419.84" x2="763.80" y2="419.84" stroke="#222" stroke-width="0.8"/>
<circle cx="758.30" cy="419.22" r="1.90" fill="#e8323c" stroke="none" stroke-width="1.0"/>
<circle cx="761.60" cy="416.12" r="1.90" fill="#e8323c" stroke="none" stroke-width="1.0"/>
<circle cx="764.90" cy="418.60" r="1.90" fill="#e8323c" stroke="none" stroke-width="1.0"/>
<line x1="758.10" y1="418.35" x2="765.10" y2="418.35" stroke="#222" stroke-width="1.0"/>
<rect x="771.20" y="432.39" width="9.00" height="6.61" fill="#fff" stroke="#333" stroke-width="1.05"/>
<line x1="775.70" y1="431.40" x2="775.70" y2="433.38" stroke="#222" stroke-width="0.8"/>
<line x1="773.50" y1="431.40" x2="777.90" y2="431.40" stroke="#222" stroke-width="0.8"/>
<line x1="773.50" y1="433.38" x2="777.90" y2="433.38" stroke="#222" stroke-width="0.8"/>
<circle cx="772.40" cy="432.97" r="1.90" fill="#1a96b4" stroke="none" stroke-width="1.0"/>
<circle cx="775.70" cy="430.91" r="1.90" fill="#1a96b4" stroke="none" stroke-width="1.0"/>
<circle cx="779.00" cy="432.56" r="1.90" fill="#1a96b4" stroke="none" stroke-width="1.0"/>
<line x1="772.20" y1="432.39" x2="779.20" y2="432.39" stroke="#222" stroke-width="1.0"/>
<polyline points="733.90,360.20 733.90,358.60 761.60,358.60 761.60,360.20" stroke="#444" stroke-width="0.75" fill="none"/>
<polygon points="743.15,351.85 743.81,353.19 745.29,353.40 744.22,354.45 744.47,355.92 743.15,355.23 741.83,355.92 742.08,354.45 741.01,353.40 742.49,353.19" fill="#333"/>
<polygon points="747.75,351.85 748.41,353.19 749.89,353.40 748.82,354.45 749.07,355.92 747.75,355.23 746.43,355.92 746.68,354.45 745.61,353.40 747.09,353.19" fill="#333"/>
<polygon points="752.35,351.85 753.01,353.19 754.49,353.40 753.42,354.45 753.67,355.92 752.35,355.23 751.03,355.92 751.28,354.45 750.21,353.40 751.69,353.19" fill="#333"/>
<polyline points="733.90,367.20 733.90,365.60 747.80,365.60 747.80,367.20" stroke="#444" stroke-width="0.75" fill="none"/>
<text x="740.85" y="363.88" font-size="8.0" text-anchor="middle" fill="#231f20" transform="matrix(1 0 0 1.07 0 -25.270)" stroke="#231f20" stroke-width="0.22">ns</text>
<polyline points="761.60,412.50 761.60,410.90 775.70,410.90 775.70,412.50" stroke="#444" stroke-width="0.75" fill="none"/>
<polygon points="766.35,404.15 767.01,405.49 768.49,405.70 767.42,406.75 767.67,408.22 766.35,407.52 765.03,408.22 765.28,406.75 764.21,405.70 765.69,405.49" fill="#333"/>
<polygon points="770.95,404.15 771.61,405.49 773.09,405.70 772.02,406.75 772.27,408.22 770.95,407.52 769.63,408.22 769.88,406.75 768.81,405.70 770.29,405.49" fill="#333"/>
<text x="630.50" y="454.28" font-size="10.5" text-anchor="end" fill="#231f20" transform="matrix(1 0 0 1.07 0 -31.535)" stroke="#231f20" stroke-width="0.22">shNC</text>
<line x1="643.65" y1="450.50" x2="648.75" y2="450.50" stroke="#333" stroke-width="1.0"/>
<line x1="646.20" y1="447.95" x2="646.20" y2="453.05" stroke="#333" stroke-width="1.0"/>
<line x1="657.45" y1="450.50" x2="662.55" y2="450.50" stroke="#333" stroke-width="1.0"/>
<line x1="660.00" y1="447.95" x2="660.00" y2="453.05" stroke="#333" stroke-width="1.0"/>
<line x1="671.45" y1="450.50" x2="676.15" y2="450.50" stroke="#333" stroke-width="0.95"/>
<line x1="685.25" y1="450.50" x2="689.95" y2="450.50" stroke="#333" stroke-width="0.95"/>
<line x1="731.35" y1="450.50" x2="736.45" y2="450.50" stroke="#333" stroke-width="1.0"/>
<line x1="733.90" y1="447.95" x2="733.90" y2="453.05" stroke="#333" stroke-width="1.0"/>
<line x1="745.25" y1="450.50" x2="750.35" y2="450.50" stroke="#333" stroke-width="1.0"/>
<line x1="747.80" y1="447.95" x2="747.80" y2="453.05" stroke="#333" stroke-width="1.0"/>
<line x1="759.25" y1="450.50" x2="763.95" y2="450.50" stroke="#333" stroke-width="0.95"/>
<line x1="773.35" y1="450.50" x2="778.05" y2="450.50" stroke="#333" stroke-width="0.95"/>
<text x="630.50" y="467.48" font-size="10.5" text-anchor="end" fill="#231f20" transform="matrix(1 0 0 1.07 0 -32.459)" stroke="#231f20" stroke-width="0.22">shPPP1R14B</text>
<line x1="643.85" y1="463.70" x2="648.55" y2="463.70" stroke="#333" stroke-width="0.95"/>
<line x1="657.65" y1="463.70" x2="662.35" y2="463.70" stroke="#333" stroke-width="0.95"/>
<line x1="671.25" y1="463.70" x2="676.35" y2="463.70" stroke="#333" stroke-width="1.0"/>
<line x1="673.80" y1="461.15" x2="673.80" y2="466.25" stroke="#333" stroke-width="1.0"/>
<line x1="685.05" y1="463.70" x2="690.15" y2="463.70" stroke="#333" stroke-width="1.0"/>
<line x1="687.60" y1="461.15" x2="687.60" y2="466.25" stroke="#333" stroke-width="1.0"/>
<line x1="731.55" y1="463.70" x2="736.25" y2="463.70" stroke="#333" stroke-width="0.95"/>
<line x1="745.45" y1="463.70" x2="750.15" y2="463.70" stroke="#333" stroke-width="0.95"/>
<line x1="759.05" y1="463.70" x2="764.15" y2="463.70" stroke="#333" stroke-width="1.0"/>
<line x1="761.60" y1="461.15" x2="761.60" y2="466.25" stroke="#333" stroke-width="1.0"/>
<line x1="773.15" y1="463.70" x2="778.25" y2="463.70" stroke="#333" stroke-width="1.0"/>
<line x1="775.70" y1="461.15" x2="775.70" y2="466.25" stroke="#333" stroke-width="1.0"/>
<text x="630.50" y="481.28" font-size="10.5" text-anchor="end" fill="#231f20" transform="matrix(1 0 0 1.07 0 -33.425)" stroke="#231f20" stroke-width="0.22">DMSO</text>
<line x1="643.65" y1="477.50" x2="648.75" y2="477.50" stroke="#333" stroke-width="1.0"/>
<line x1="646.20" y1="474.95" x2="646.20" y2="480.05" stroke="#333" stroke-width="1.0"/>
<line x1="657.65" y1="477.50" x2="662.35" y2="477.50" stroke="#333" stroke-width="0.95"/>
<line x1="671.25" y1="477.50" x2="676.35" y2="477.50" stroke="#333" stroke-width="1.0"/>
<line x1="673.80" y1="474.95" x2="673.80" y2="480.05" stroke="#333" stroke-width="1.0"/>
<line x1="685.25" y1="477.50" x2="689.95" y2="477.50" stroke="#333" stroke-width="0.95"/>
<line x1="731.35" y1="477.50" x2="736.45" y2="477.50" stroke="#333" stroke-width="1.0"/>
<line x1="733.90" y1="474.95" x2="733.90" y2="480.05" stroke="#333" stroke-width="1.0"/>
<line x1="745.45" y1="477.50" x2="750.15" y2="477.50" stroke="#333" stroke-width="0.95"/>
<line x1="759.05" y1="477.50" x2="764.15" y2="477.50" stroke="#333" stroke-width="1.0"/>
<line x1="761.60" y1="474.95" x2="761.60" y2="480.05" stroke="#333" stroke-width="1.0"/>
<line x1="773.35" y1="477.50" x2="778.05" y2="477.50" stroke="#333" stroke-width="0.95"/>
<text x="630.50" y="495.38" font-size="10.5" text-anchor="end" fill="#231f20" transform="matrix(1 0 0 1.07 0 -34.412)" stroke="#231f20" stroke-width="0.22">PTX</text>
<line x1="643.85" y1="491.60" x2="648.55" y2="491.60" stroke="#333" stroke-width="0.95"/>
<line x1="657.45" y1="491.60" x2="662.55" y2="491.60" stroke="#333" stroke-width="1.0"/>
<line x1="660.00" y1="489.05" x2="660.00" y2="494.15" stroke="#333" stroke-width="1.0"/>
<line x1="671.45" y1="491.60" x2="676.15" y2="491.60" stroke="#333" stroke-width="0.95"/>
<line x1="685.05" y1="491.60" x2="690.15" y2="491.60" stroke="#333" stroke-width="1.0"/>
<line x1="687.60" y1="489.05" x2="687.60" y2="494.15" stroke="#333" stroke-width="1.0"/>
<line x1="731.55" y1="491.60" x2="736.25" y2="491.60" stroke="#333" stroke-width="0.95"/>
<line x1="745.25" y1="491.60" x2="750.35" y2="491.60" stroke="#333" stroke-width="1.0"/>
<line x1="747.80" y1="489.05" x2="747.80" y2="494.15" stroke="#333" stroke-width="1.0"/>
<line x1="759.25" y1="491.60" x2="763.95" y2="491.60" stroke="#333" stroke-width="0.95"/>
<line x1="773.15" y1="491.60" x2="778.25" y2="491.60" stroke="#333" stroke-width="1.0"/>
<line x1="775.70" y1="489.05" x2="775.70" y2="494.15" stroke="#333" stroke-width="1.0"/>
<text x="1.20" y="666.15" font-size="18.5" text-anchor="start" fill="#231f20" font-weight="bold" transform="matrix(1 0 0 1.07 0 -46.164)" stroke="#231f20" stroke-width="0.35">J</text>
<text x="43.56" y="709.10" font-size="11.6" text-anchor="middle" fill="#231f20" transform="rotate(-90 43.56 709.10)">Tumor weight (g)</text>
<line x1="77.70" y1="659.00" x2="77.70" y2="758.40" stroke="#231f20" stroke-width="1.0"/>
<line x1="73.70" y1="758.40" x2="77.70" y2="758.40" stroke="#231f20" stroke-width="1.0"/>
<text x="70.00" y="762.29" font-size="10.8" text-anchor="end" fill="#231f20" transform="matrix(1 0 0 1.07 0 -53.088)" stroke="#231f20" stroke-width="0.22">0</text>
<line x1="73.70" y1="725.27" x2="77.70" y2="725.27" stroke="#231f20" stroke-width="1.0"/>
<text x="70.00" y="729.15" font-size="10.8" text-anchor="end" fill="#231f20" transform="matrix(1 0 0 1.07 0 -50.769)" stroke="#231f20" stroke-width="0.22">0.5</text>
<line x1="73.70" y1="692.13" x2="77.70" y2="692.13" stroke="#231f20" stroke-width="1.0"/>
<text x="70.00" y="696.02" font-size="10.8" text-anchor="end" fill="#231f20" transform="matrix(1 0 0 1.07 0 -48.449)" stroke="#231f20" stroke-width="0.22">1.0</text>
<line x1="73.70" y1="659.00" x2="77.70" y2="659.00" stroke="#231f20" stroke-width="1.0"/>
<text x="70.00" y="662.89" font-size="10.8" text-anchor="end" fill="#231f20" transform="matrix(1 0 0 1.07 0 -46.130)" stroke="#231f20" stroke-width="0.22">1.5</text>
<line x1="78.10" y1="758.40" x2="176.90" y2="758.40" stroke="#231f20" stroke-width="1.1"/>
<rect x="85.40" y="708.70" width="15.20" height="49.70" fill="#fff" stroke="#222" stroke-width="1.0"/>
<line x1="93.00" y1="688.16" x2="93.00" y2="729.24" stroke="#222" stroke-width="0.8"/>
<line x1="90.00" y1="688.16" x2="96.00" y2="688.16" stroke="#222" stroke-width="0.8"/>
<line x1="90.00" y1="729.24" x2="96.00" y2="729.24" stroke="#222" stroke-width="0.8"/>
<circle cx="89.00" cy="685.51" r="2.20" fill="#e8323c" stroke="none" stroke-width="1.0"/>
<circle cx="94.00" cy="682.19" r="2.20" fill="#e8323c" stroke="none" stroke-width="1.0"/>
<circle cx="96.00" cy="678.88" r="2.20" fill="#e8323c" stroke="none" stroke-width="1.0"/>
<circle cx="90.00" cy="702.07" r="2.20" fill="#e8323c" stroke="none" stroke-width="1.0"/>
<circle cx="95.00" cy="710.69" r="2.20" fill="#e8323c" stroke="none" stroke-width="1.0"/>
<circle cx="92.00" cy="718.64" r="2.20" fill="#e8323c" stroke="none" stroke-width="1.0"/>
<circle cx="94.00" cy="723.28" r="2.20" fill="#e8323c" stroke="none" stroke-width="1.0"/>
<circle cx="91.00" cy="726.59" r="2.20" fill="#e8323c" stroke="none" stroke-width="1.0"/>
<circle cx="97.00" cy="726.59" r="2.20" fill="#e8323c" stroke="none" stroke-width="1.0"/>
<circle cx="92.00" cy="735.21" r="2.20" fill="#e8323c" stroke="none" stroke-width="1.0"/>
<rect x="108.30" y="717.98" width="15.20" height="40.42" fill="#fff" stroke="#222" stroke-width="1.0"/>
<line x1="115.90" y1="703.40" x2="115.90" y2="732.56" stroke="#222" stroke-width="0.8"/>
<line x1="112.90" y1="703.40" x2="118.90" y2="703.40" stroke="#222" stroke-width="0.8"/>
<line x1="112.90" y1="732.56" x2="118.90" y2="732.56" stroke="#222" stroke-width="0.8"/>
<rect x="116.70" y="689.93" width="4.40" height="4.40" fill="#5a96d8" stroke="none" stroke-width="1.0"/>
<rect x="115.70" y="696.56" width="4.40" height="4.40" fill="#5a96d8" stroke="none" stroke-width="1.0"/>
<rect x="110.70" y="706.50" width="4.40" height="4.40" fill="#5a96d8" stroke="none" stroke-width="1.0"/>
<rect x="115.70" y="706.50" width="4.40" height="4.40" fill="#5a96d8" stroke="none" stroke-width="1.0"/>
<rect x="109.70" y="719.75" width="4.40" height="4.40" fill="#5a96d8" stroke="none" stroke-width="1.0"/>
<rect x="113.70" y="719.75" width="4.40" height="4.40" fill="#5a96d8" stroke="none" stroke-width="1.0"/>
<rect x="116.70" y="723.07" width="4.40" height="4.40" fill="#5a96d8" stroke="none" stroke-width="1.0"/>
<rect x="111.70" y="723.07" width="4.40" height="4.40" fill="#5a96d8" stroke="none" stroke-width="1.0"/>
<rect x="115.70" y="731.02" width="4.40" height="4.40" fill="#5a96d8" stroke="none" stroke-width="1.0"/>
<rect x="109.70" y="736.32" width="4.40" height="4.40" fill="#5a96d8" stroke="none" stroke-width="1.0"/>
<rect x="131.20" y="743.16" width="15.20" height="15.24" fill="#fff" stroke="#222" stroke-width="1.0"/>
<line x1="138.80" y1="734.54" x2="138.80" y2="751.77" stroke="#222" stroke-width="0.8"/>
<line x1="135.80" y1="734.54" x2="141.80" y2="734.54" stroke="#222" stroke-width="0.8"/>
<line x1="135.80" y1="751.77" x2="141.80" y2="751.77" stroke="#222" stroke-width="0.8"/>
<polygon points="135.80,725.94 133.27,730.45 138.33,730.45" fill="#1a96b4"/>
<polygon points="138.80,733.89 136.27,738.40 141.33,738.40" fill="#1a96b4"/>
<polygon points="136.80,737.21 134.27,741.72 139.33,741.72" fill="#1a96b4"/>
<polygon points="141.80,739.19 139.27,743.70 144.33,743.70" fill="#1a96b4"/>
<polygon points="140.80,742.51 138.27,747.02 143.33,747.02" fill="#1a96b4"/>
<polygon points="134.80,743.83 132.27,748.34 137.33,748.34" fill="#1a96b4"/>
<polygon points="139.80,747.81 137.27,752.32 142.33,752.32" fill="#1a96b4"/>
<polygon points="142.80,749.13 140.27,753.64 145.33,753.64" fill="#1a96b4"/>
<polygon points="136.80,750.46 134.27,754.97 139.33,754.97" fill="#1a96b4"/>
<rect x="154.40" y="753.76" width="15.20" height="4.64" fill="#fff" stroke="#222" stroke-width="1.0"/>
<line x1="162.00" y1="751.11" x2="162.00" y2="756.41" stroke="#222" stroke-width="0.8"/>
<line x1="159.00" y1="751.11" x2="165.00" y2="751.11" stroke="#222" stroke-width="0.8"/>
<line x1="159.00" y1="756.41" x2="165.00" y2="756.41" stroke="#222" stroke-width="0.8"/>
<polygon points="158.00,753.09 155.47,748.58 160.53,748.58" fill="#f39a2c"/>
<polygon points="162.00,753.09 159.47,748.58 164.53,748.58" fill="#f39a2c"/>
<polygon points="166.00,754.41 163.47,749.90 168.53,749.90" fill="#f39a2c"/>
<polygon points="159.00,756.40 156.47,751.89 161.53,751.89" fill="#f39a2c"/>
<polygon points="163.00,757.06 160.47,752.55 165.53,752.55" fill="#f39a2c"/>
<polygon points="165.00,757.73 162.47,753.22 167.53,753.22" fill="#f39a2c"/>
<polygon points="161.00,758.39 158.47,753.88 163.53,753.88" fill="#f39a2c"/>
<polygon points="164.00,759.05 161.47,754.54 166.53,754.54" fill="#f39a2c"/>
<polyline points="93.00,664.90 93.00,663.30 138.80,663.30 138.80,664.90" stroke="#444" stroke-width="0.75" fill="none"/>
<polygon points="111.30,655.45 111.96,656.79 113.44,657.00 112.37,658.05 112.62,659.52 111.30,658.82 109.98,659.52 110.23,658.05 109.16,657.00 110.64,656.79" fill="#333"/>
<polygon points="115.90,655.45 116.56,656.79 118.04,657.00 116.97,658.05 117.22,659.52 115.90,658.82 114.58,659.52 114.83,658.05 113.76,657.00 115.24,656.79" fill="#333"/>
<polygon points="120.50,655.45 121.16,656.79 122.64,657.00 121.57,658.05 121.82,659.52 120.50,658.82 119.18,659.52 119.43,658.05 118.36,657.00 119.84,656.79" fill="#333"/>
<polyline points="93.00,673.00 93.00,671.40 115.90,671.40 115.90,673.00" stroke="#444" stroke-width="0.75" fill="none"/>
<text x="104.45" y="669.28" font-size="8.0" text-anchor="middle" fill="#231f20" transform="matrix(1 0 0 1.07 0 -46.648)" stroke="#231f20" stroke-width="0.22">ns</text>
<polyline points="138.80,718.80 138.80,717.20 162.00,717.20 162.00,718.80" stroke="#444" stroke-width="0.75" fill="none"/>
<polygon points="145.80,709.35 146.46,710.69 147.94,710.90 146.87,711.95 147.12,713.42 145.80,712.73 144.48,713.42 144.73,711.95 143.66,710.90 145.14,710.69" fill="#333"/>
<polygon points="150.40,709.35 151.06,710.69 152.54,710.90 151.47,711.95 151.72,713.42 150.40,712.73 149.08,713.42 149.33,711.95 148.26,710.90 149.74,710.69" fill="#333"/>
<polygon points="155.00,709.35 155.66,710.69 157.14,710.90 156.07,711.95 156.32,713.42 155.00,712.73 153.68,713.42 153.93,711.95 152.86,710.90 154.34,710.69" fill="#333"/>
<text x="70.20" y="773.16" font-size="11.0" text-anchor="end" fill="#231f20" transform="matrix(1 0 0 1.07 0 -53.844)" stroke="#231f20" stroke-width="0.22">shNC</text>
<line x1="90.45" y1="769.20" x2="95.55" y2="769.20" stroke="#333" stroke-width="1.0"/>
<line x1="93.00" y1="766.65" x2="93.00" y2="771.75" stroke="#333" stroke-width="1.0"/>
<line x1="113.35" y1="769.20" x2="118.45" y2="769.20" stroke="#333" stroke-width="1.0"/>
<line x1="115.90" y1="766.65" x2="115.90" y2="771.75" stroke="#333" stroke-width="1.0"/>
<line x1="136.45" y1="769.20" x2="141.15" y2="769.20" stroke="#333" stroke-width="0.95"/>
<line x1="159.65" y1="769.20" x2="164.35" y2="769.20" stroke="#333" stroke-width="0.95"/>
<text x="70.20" y="786.16" font-size="11.0" text-anchor="end" fill="#231f20" transform="matrix(1 0 0 1.07 0 -54.754)" stroke="#231f20" stroke-width="0.22">shPPP1R14B</text>
<line x1="90.65" y1="782.20" x2="95.35" y2="782.20" stroke="#333" stroke-width="0.95"/>
<line x1="113.55" y1="782.20" x2="118.25" y2="782.20" stroke="#333" stroke-width="0.95"/>
<line x1="136.25" y1="782.20" x2="141.35" y2="782.20" stroke="#333" stroke-width="1.0"/>
<line x1="138.80" y1="779.65" x2="138.80" y2="784.75" stroke="#333" stroke-width="1.0"/>
<line x1="159.45" y1="782.20" x2="164.55" y2="782.20" stroke="#333" stroke-width="1.0"/>
<line x1="162.00" y1="779.65" x2="162.00" y2="784.75" stroke="#333" stroke-width="1.0"/>
<text x="70.20" y="798.96" font-size="11.0" text-anchor="end" fill="#231f20" transform="matrix(1 0 0 1.07 0 -55.650)" stroke="#231f20" stroke-width="0.22">DMSO</text>
<line x1="90.45" y1="795.00" x2="95.55" y2="795.00" stroke="#333" stroke-width="1.0"/>
<line x1="93.00" y1="792.45" x2="93.00" y2="797.55" stroke="#333" stroke-width="1.0"/>
<line x1="113.55" y1="795.00" x2="118.25" y2="795.00" stroke="#333" stroke-width="0.95"/>
<line x1="136.25" y1="795.00" x2="141.35" y2="795.00" stroke="#333" stroke-width="1.0"/>
<line x1="138.80" y1="792.45" x2="138.80" y2="797.55" stroke="#333" stroke-width="1.0"/>
<line x1="159.65" y1="795.00" x2="164.35" y2="795.00" stroke="#333" stroke-width="0.95"/>
<text x="70.20" y="812.66" font-size="11.0" text-anchor="end" fill="#231f20" transform="matrix(1 0 0 1.07 0 -56.609)" stroke="#231f20" stroke-width="0.22">PTX</text>
<line x1="90.65" y1="808.70" x2="95.35" y2="808.70" stroke="#333" stroke-width="0.95"/>
<line x1="113.35" y1="808.70" x2="118.45" y2="808.70" stroke="#333" stroke-width="1.0"/>
<line x1="115.90" y1="806.15" x2="115.90" y2="811.25" stroke="#333" stroke-width="1.0"/>
<line x1="136.45" y1="808.70" x2="141.15" y2="808.70" stroke="#333" stroke-width="0.95"/>
<line x1="159.45" y1="808.70" x2="164.55" y2="808.70" stroke="#333" stroke-width="1.0"/>
<line x1="162.00" y1="806.15" x2="162.00" y2="811.25" stroke="#333" stroke-width="1.0"/>
<text x="205.60" y="666.15" font-size="18.5" text-anchor="start" fill="#231f20" font-weight="bold" transform="matrix(1 0 0 1.07 0 -46.164)" stroke="#231f20" stroke-width="0.35">K</text>
<text x="225.96" y="738.20" font-size="11.3" text-anchor="middle" fill="#231f20" transform="rotate(-90 225.96 738.20)">Tumor volume (mm<tspan font-size="7.5" dy="-4">3</tspan><tspan dy="4">)</tspan></text>
<line x1="267.40" y1="689.20" x2="267.40" y2="795.40" stroke="#231f20" stroke-width="1.1"/>
<line x1="263.70" y1="795.40" x2="267.40" y2="795.40" stroke="#231f20" stroke-width="1.1"/>
<text x="260.20" y="800.12" font-size="10.9" text-anchor="end" fill="#231f20" transform="matrix(1 0 0 1.07 0 -55.734)" stroke="#231f20" stroke-width="0.22">0</text>
<line x1="263.70" y1="777.70" x2="267.40" y2="777.70" stroke="#231f20" stroke-width="1.1"/>
<text x="260.20" y="782.49" font-size="10.9" text-anchor="end" fill="#231f20" transform="matrix(1 0 0 1.07 0 -54.500)" stroke="#231f20" stroke-width="0.22">100</text>
<line x1="263.70" y1="760.00" x2="267.40" y2="760.00" stroke="#231f20" stroke-width="1.1"/>
<text x="260.20" y="764.86" font-size="10.9" text-anchor="end" fill="#231f20" transform="matrix(1 0 0 1.07 0 -53.265)" stroke="#231f20" stroke-width="0.22">200</text>
<line x1="263.70" y1="742.30" x2="267.40" y2="742.30" stroke="#231f20" stroke-width="1.1"/>
<text x="260.20" y="747.22" font-size="10.9" text-anchor="end" fill="#231f20" transform="matrix(1 0 0 1.07 0 -52.031)" stroke="#231f20" stroke-width="0.22">300</text>
<line x1="263.70" y1="724.60" x2="267.40" y2="724.60" stroke="#231f20" stroke-width="1.1"/>
<text x="260.20" y="729.59" font-size="10.9" text-anchor="end" fill="#231f20" transform="matrix(1 0 0 1.07 0 -50.797)" stroke="#231f20" stroke-width="0.22">400</text>
<line x1="263.70" y1="706.90" x2="267.40" y2="706.90" stroke="#231f20" stroke-width="1.1"/>
<text x="260.20" y="711.96" font-size="10.9" text-anchor="end" fill="#231f20" transform="matrix(1 0 0 1.07 0 -49.562)" stroke="#231f20" stroke-width="0.22">500</text>
<line x1="263.70" y1="689.20" x2="267.40" y2="689.20" stroke="#231f20" stroke-width="1.1"/>
<text x="260.20" y="694.32" font-size="10.9" text-anchor="end" fill="#231f20" transform="matrix(1 0 0 1.07 0 -48.328)" stroke="#231f20" stroke-width="0.22">600</text>
<line x1="267.40" y1="795.40" x2="392.80" y2="795.40" stroke="#231f20" stroke-width="1.1"/>
<line x1="267.40" y1="795.40" x2="267.40" y2="799.40" stroke="#231f20" stroke-width="1.1"/>
<line x1="291.00" y1="795.40" x2="291.00" y2="799.40" stroke="#231f20" stroke-width="1.1"/>
<line x1="315.10" y1="795.40" x2="315.10" y2="799.40" stroke="#231f20" stroke-width="1.1"/>
<line x1="338.70" y1="795.40" x2="338.70" y2="799.40" stroke="#231f20" stroke-width="1.1"/>
<line x1="362.80" y1="795.40" x2="362.80" y2="799.40" stroke="#231f20" stroke-width="1.1"/>
<line x1="386.70" y1="795.40" x2="386.70" y2="799.40" stroke="#231f20" stroke-width="1.1"/>
<text x="270.70" y="811.20" font-size="11.0" text-anchor="middle" fill="#231f20" transform="matrix(1 0 0 1.07 0 -56.507)" stroke="#231f20" stroke-width="0.22">20</text>
<text x="294.30" y="811.20" font-size="11.0" text-anchor="middle" fill="#231f20" transform="matrix(1 0 0 1.07 0 -56.507)" stroke="#231f20" stroke-width="0.22">23</text>
<text x="318.40" y="811.20" font-size="11.0" text-anchor="middle" fill="#231f20" transform="matrix(1 0 0 1.07 0 -56.507)" stroke="#231f20" stroke-width="0.22">26</text>
<text x="342.00" y="811.20" font-size="11.0" text-anchor="middle" fill="#231f20" transform="matrix(1 0 0 1.07 0 -56.507)" stroke="#231f20" stroke-width="0.22">29</text>
<text x="366.10" y="811.20" font-size="11.0" text-anchor="middle" fill="#231f20" transform="matrix(1 0 0 1.07 0 -56.507)" stroke="#231f20" stroke-width="0.22">32</text>
<text x="390.00" y="811.20" font-size="11.0" text-anchor="middle" fill="#231f20" transform="matrix(1 0 0 1.07 0 -56.507)" stroke="#231f20" stroke-width="0.22">35</text>
<text x="234.70" y="810.60" font-size="11.3" text-anchor="start" fill="#231f20" transform="matrix(1 0 0 1.07 0 -56.457)" stroke="#231f20" stroke-width="0.22">Days</text>
<line x1="267.40" y1="760.88" x2="267.40" y2="773.28" stroke="#f06068" stroke-width="0.8"/>
<line x1="265.20" y1="760.88" x2="269.60" y2="760.88" stroke="#f06068" stroke-width="0.8"/>
<line x1="265.20" y1="773.28" x2="269.60" y2="773.28" stroke="#f06068" stroke-width="0.8"/>
<line x1="291.00" y1="752.92" x2="291.00" y2="767.08" stroke="#f06068" stroke-width="0.8"/>
<line x1="288.80" y1="752.92" x2="293.20" y2="752.92" stroke="#f06068" stroke-width="0.8"/>
<line x1="288.80" y1="767.08" x2="293.20" y2="767.08" stroke="#f06068" stroke-width="0.8"/>
<line x1="315.10" y1="747.61" x2="315.10" y2="758.23" stroke="#f06068" stroke-width="0.8"/>
<line x1="312.90" y1="747.61" x2="317.30" y2="747.61" stroke="#f06068" stroke-width="0.8"/>
<line x1="312.90" y1="758.23" x2="317.30" y2="758.23" stroke="#f06068" stroke-width="0.8"/>
<line x1="338.70" y1="735.22" x2="338.70" y2="749.38" stroke="#f06068" stroke-width="0.8"/>
<line x1="336.50" y1="735.22" x2="340.90" y2="735.22" stroke="#f06068" stroke-width="0.8"/>
<line x1="336.50" y1="749.38" x2="340.90" y2="749.38" stroke="#f06068" stroke-width="0.8"/>
<line x1="362.80" y1="721.41" x2="362.80" y2="732.03" stroke="#f06068" stroke-width="0.8"/>
<line x1="360.60" y1="721.41" x2="365.00" y2="721.41" stroke="#f06068" stroke-width="0.8"/>
<line x1="360.60" y1="732.03" x2="365.00" y2="732.03" stroke="#f06068" stroke-width="0.8"/>
<line x1="386.70" y1="701.06" x2="386.70" y2="718.76" stroke="#f06068" stroke-width="0.8"/>
<line x1="384.50" y1="701.06" x2="388.90" y2="701.06" stroke="#f06068" stroke-width="0.8"/>
<line x1="384.50" y1="718.76" x2="388.90" y2="718.76" stroke="#f06068" stroke-width="0.8"/>
<polyline points="267.40,767.08 291.00,760.00 315.10,752.92 338.70,742.30 362.80,726.72 386.70,709.91" stroke="#f06068" stroke-width="1.0" fill="none"/>
<circle cx="267.40" cy="767.08" r="2.60" fill="#e8323c" stroke="none" stroke-width="1.0"/>
<circle cx="291.00" cy="760.00" r="2.60" fill="#e8323c" stroke="none" stroke-width="1.0"/>
<circle cx="315.10" cy="752.92" r="2.60" fill="#e8323c" stroke="none" stroke-width="1.0"/>
<circle cx="338.70" cy="742.30" r="2.60" fill="#e8323c" stroke="none" stroke-width="1.0"/>
<circle cx="362.80" cy="726.72" r="2.60" fill="#e8323c" stroke="none" stroke-width="1.0"/>
<circle cx="386.70" cy="709.91" r="2.60" fill="#e8323c" stroke="none" stroke-width="1.0"/>
<line x1="267.40" y1="761.77" x2="267.40" y2="772.39" stroke="#80b0e0" stroke-width="0.8"/>
<line x1="265.20" y1="761.77" x2="269.60" y2="761.77" stroke="#80b0e0" stroke-width="0.8"/>
<line x1="265.20" y1="772.39" x2="269.60" y2="772.39" stroke="#80b0e0" stroke-width="0.8"/>
<line x1="291.00" y1="755.57" x2="291.00" y2="769.74" stroke="#80b0e0" stroke-width="0.8"/>
<line x1="288.80" y1="755.57" x2="293.20" y2="755.57" stroke="#80b0e0" stroke-width="0.8"/>
<line x1="288.80" y1="769.74" x2="293.20" y2="769.74" stroke="#80b0e0" stroke-width="0.8"/>
<line x1="315.10" y1="752.92" x2="315.10" y2="763.54" stroke="#80b0e0" stroke-width="0.8"/>
<line x1="312.90" y1="752.92" x2="317.30" y2="752.92" stroke="#80b0e0" stroke-width="0.8"/>
<line x1="312.90" y1="763.54" x2="317.30" y2="763.54" stroke="#80b0e0" stroke-width="0.8"/>
<line x1="338.70" y1="746.37" x2="338.70" y2="755.22" stroke="#80b0e0" stroke-width="0.8"/>
<line x1="336.50" y1="746.37" x2="340.90" y2="746.37" stroke="#80b0e0" stroke-width="0.8"/>
<line x1="336.50" y1="755.22" x2="340.90" y2="755.22" stroke="#80b0e0" stroke-width="0.8"/>
<line x1="362.80" y1="732.56" x2="362.80" y2="744.96" stroke="#80b0e0" stroke-width="0.8"/>
<line x1="360.60" y1="732.56" x2="365.00" y2="732.56" stroke="#80b0e0" stroke-width="0.8"/>
<line x1="360.60" y1="744.96" x2="365.00" y2="744.96" stroke="#80b0e0" stroke-width="0.8"/>
<line x1="386.70" y1="721.94" x2="386.70" y2="734.34" stroke="#80b0e0" stroke-width="0.8"/>
<line x1="384.50" y1="721.94" x2="388.90" y2="721.94" stroke="#80b0e0" stroke-width="0.8"/>
<line x1="384.50" y1="734.34" x2="388.90" y2="734.34" stroke="#80b0e0" stroke-width="0.8"/>
<polyline points="267.40,767.08 291.00,762.65 315.10,758.23 338.70,750.80 362.80,738.76 386.70,728.14" stroke="#80b0e0" stroke-width="1.0" fill="none"/>
<rect x="264.80" y="764.48" width="5.20" height="5.20" fill="#5a96d8" stroke="none" stroke-width="1.0"/>
<rect x="288.40" y="760.05" width="5.20" height="5.20" fill="#5a96d8" stroke="none" stroke-width="1.0"/>
<rect x="312.50" y="755.63" width="5.20" height="5.20" fill="#5a96d8" stroke="none" stroke-width="1.0"/>
<rect x="336.10" y="748.20" width="5.20" height="5.20" fill="#5a96d8" stroke="none" stroke-width="1.0"/>
<rect x="360.20" y="736.16" width="5.20" height="5.20" fill="#5a96d8" stroke="none" stroke-width="1.0"/>
<rect x="384.10" y="725.54" width="5.20" height="5.20" fill="#5a96d8" stroke="none" stroke-width="1.0"/>
<line x1="267.40" y1="787.26" x2="267.40" y2="790.09" stroke="#40b0c8" stroke-width="0.8"/>
<line x1="265.20" y1="787.26" x2="269.60" y2="787.26" stroke="#40b0c8" stroke-width="0.8"/>
<line x1="265.20" y1="790.09" x2="269.60" y2="790.09" stroke="#40b0c8" stroke-width="0.8"/>
<line x1="291.00" y1="786.02" x2="291.00" y2="788.85" stroke="#40b0c8" stroke-width="0.8"/>
<line x1="288.80" y1="786.02" x2="293.20" y2="786.02" stroke="#40b0c8" stroke-width="0.8"/>
<line x1="288.80" y1="788.85" x2="293.20" y2="788.85" stroke="#40b0c8" stroke-width="0.8"/>
<line x1="315.10" y1="779.82" x2="315.10" y2="786.90" stroke="#40b0c8" stroke-width="0.8"/>
<line x1="312.90" y1="779.82" x2="317.30" y2="779.82" stroke="#40b0c8" stroke-width="0.8"/>
<line x1="312.90" y1="786.90" x2="317.30" y2="786.90" stroke="#40b0c8" stroke-width="0.8"/>
<line x1="338.70" y1="774.87" x2="338.70" y2="781.24" stroke="#40b0c8" stroke-width="0.8"/>
<line x1="336.50" y1="774.87" x2="340.90" y2="774.87" stroke="#40b0c8" stroke-width="0.8"/>
<line x1="336.50" y1="781.24" x2="340.90" y2="781.24" stroke="#40b0c8" stroke-width="0.8"/>
<line x1="362.80" y1="766.20" x2="362.80" y2="775.04" stroke="#40b0c8" stroke-width="0.8"/>
<line x1="360.60" y1="766.20" x2="365.00" y2="766.20" stroke="#40b0c8" stroke-width="0.8"/>
<line x1="360.60" y1="775.04" x2="365.00" y2="775.04" stroke="#40b0c8" stroke-width="0.8"/>
<line x1="386.70" y1="755.58" x2="386.70" y2="766.19" stroke="#40b0c8" stroke-width="0.8"/>
<line x1="384.50" y1="755.58" x2="388.90" y2="755.58" stroke="#40b0c8" stroke-width="0.8"/>
<line x1="384.50" y1="766.19" x2="388.90" y2="766.19" stroke="#40b0c8" stroke-width="0.8"/>
<polyline points="267.40,788.67 291.00,787.43 315.10,783.36 338.70,778.05 362.80,770.62 386.70,760.88" stroke="#40b0c8" stroke-width="1.0" fill="none"/>
<polygon points="267.40,785.55 264.41,790.88 270.39,790.88" fill="#1a96b4"/>
<polygon points="291.00,784.31 288.01,789.64 293.99,789.64" fill="#1a96b4"/>
<polygon points="315.10,780.24 312.11,785.57 318.09,785.57" fill="#1a96b4"/>
<polygon points="338.70,774.93 335.71,780.26 341.69,780.26" fill="#1a96b4"/>
<polygon points="362.80,767.50 359.81,772.83 365.79,772.83" fill="#1a96b4"/>
<polygon points="386.70,757.76 383.71,763.10 389.69,763.10" fill="#1a96b4"/>
<line x1="267.40" y1="787.26" x2="267.40" y2="790.09" stroke="#f4b060" stroke-width="0.8"/>
<line x1="265.20" y1="787.26" x2="269.60" y2="787.26" stroke="#f4b060" stroke-width="0.8"/>
<line x1="265.20" y1="790.09" x2="269.60" y2="790.09" stroke="#f4b060" stroke-width="0.8"/>
<line x1="291.00" y1="786.90" x2="291.00" y2="788.67" stroke="#f4b060" stroke-width="0.8"/>
<line x1="288.80" y1="786.90" x2="293.20" y2="786.90" stroke="#f4b060" stroke-width="0.8"/>
<line x1="288.80" y1="788.67" x2="293.20" y2="788.67" stroke="#f4b060" stroke-width="0.8"/>
<line x1="315.10" y1="786.90" x2="315.10" y2="790.44" stroke="#f4b060" stroke-width="0.8"/>
<line x1="312.90" y1="786.90" x2="317.30" y2="786.90" stroke="#f4b060" stroke-width="0.8"/>
<line x1="312.90" y1="790.44" x2="317.30" y2="790.44" stroke="#f4b060" stroke-width="0.8"/>
<line x1="338.70" y1="786.02" x2="338.70" y2="788.85" stroke="#f4b060" stroke-width="0.8"/>
<line x1="336.50" y1="786.02" x2="340.90" y2="786.02" stroke="#f4b060" stroke-width="0.8"/>
<line x1="336.50" y1="788.85" x2="340.90" y2="788.85" stroke="#f4b060" stroke-width="0.8"/>
<line x1="362.80" y1="785.13" x2="362.80" y2="787.97" stroke="#f4b060" stroke-width="0.8"/>
<line x1="360.60" y1="785.13" x2="365.00" y2="785.13" stroke="#f4b060" stroke-width="0.8"/>
<line x1="360.60" y1="787.97" x2="365.00" y2="787.97" stroke="#f4b060" stroke-width="0.8"/>
<line x1="386.70" y1="783.72" x2="386.70" y2="786.55" stroke="#f4b060" stroke-width="0.8"/>
<line x1="384.50" y1="783.72" x2="388.90" y2="783.72" stroke="#f4b060" stroke-width="0.8"/>
<line x1="384.50" y1="786.55" x2="388.90" y2="786.55" stroke="#f4b060" stroke-width="0.8"/>
<polyline points="267.40,788.67 291.00,787.79 315.10,788.67 338.70,787.43 362.80,786.55 386.70,785.13" stroke="#f4b060" stroke-width="1.0" fill="none"/>
<polygon points="267.40,791.79 264.41,786.46 270.39,786.46" fill="#f39a2c"/>
<polygon points="291.00,790.91 288.01,785.58 293.99,785.58" fill="#f39a2c"/>
<polygon points="315.10,791.79 312.11,786.46 318.09,786.46" fill="#f39a2c"/>
<polygon points="338.70,790.55 335.71,785.22 341.69,785.22" fill="#f39a2c"/>
<polygon points="362.80,789.67 359.81,784.34 365.79,784.34" fill="#f39a2c"/>
<polygon points="386.70,788.25 383.71,782.92 389.69,782.92" fill="#f39a2c"/>
<line x1="272.70" y1="660.20" x2="283.80" y2="660.20" stroke="#f06068" stroke-width="0.9"/>
<circle cx="278.20" cy="660.20" r="2.40" fill="#e8323c" stroke="none" stroke-width="1.0"/>
<text x="287.40" y="663.90" font-size="10.3" text-anchor="start" fill="#231f20" transform="matrix(1 0 0 1.07 0 -46.213)" stroke="#231f20" stroke-width="0.22">shNC+DMSO</text>
<line x1="272.70" y1="674.70" x2="283.80" y2="674.70" stroke="#80b0e0" stroke-width="0.9"/>
<rect x="275.80" y="672.30" width="4.80" height="4.80" fill="#5a96d8" stroke="none" stroke-width="1.0"/>
<text x="287.40" y="678.40" font-size="10.3" text-anchor="start" fill="#231f20" transform="matrix(1 0 0 1.07 0 -47.228)" stroke="#231f20" stroke-width="0.22">shNC+PTX</text>
<line x1="272.70" y1="689.90" x2="283.80" y2="689.90" stroke="#40b0c8" stroke-width="0.9"/>
<polygon points="278.20,687.02 275.44,691.94 280.96,691.94" fill="#1a96b4"/>
<text x="287.40" y="693.60" font-size="10.3" text-anchor="start" fill="#231f20" transform="matrix(1 0 0 1.07 0 -48.292)" stroke="#231f20" stroke-width="0.22">shPPP1R14B+DMSO</text>
<line x1="272.70" y1="704.40" x2="283.80" y2="704.40" stroke="#f4b060" stroke-width="0.9"/>
<polygon points="278.20,707.28 275.44,702.36 280.96,702.36" fill="#f39a2c"/>
<text x="287.40" y="708.10" font-size="10.3" text-anchor="start" fill="#231f20" transform="matrix(1 0 0 1.07 0 -49.307)" stroke="#231f20" stroke-width="0.22">shPPP1R14B+PTX</text>
<polyline points="392.20,708.50 394.20,708.50 394.20,727.70 392.20,727.70" stroke="#444" stroke-width="0.75" fill="none"/>
<text x="396.32" y="718.10" font-size="8.0" text-anchor="middle" fill="#231f20" transform="rotate(90 396.32 718.10)">ns</text>
<polyline points="400.90,708.50 402.90,708.50 402.90,760.00 400.90,760.00" stroke="#444" stroke-width="0.75" fill="none"/>
<polygon points="406.30,727.40 406.96,728.74 408.44,728.95 407.37,730.00 407.62,731.47 406.30,730.77 404.98,731.47 405.23,730.00 404.16,728.95 405.64,728.74" fill="#333"/>
<polygon points="406.30,732.00 406.96,733.34 408.44,733.55 407.37,734.60 407.62,736.07 406.30,735.38 404.98,736.07 405.23,734.60 404.16,733.55 405.64,733.34" fill="#333"/>
<polygon points="406.30,736.60 406.96,737.94 408.44,738.15 407.37,739.20 407.62,740.67 406.30,739.98 404.98,740.67 405.23,739.20 404.16,738.15 405.64,737.94" fill="#333"/>
<polyline points="392.20,760.00 394.20,760.00 394.20,786.20 392.20,786.20" stroke="#444" stroke-width="0.75" fill="none"/>
<polygon points="398.40,766.25 399.06,767.59 400.54,767.80 399.47,768.85 399.72,770.32 398.40,769.62 397.08,770.32 397.33,768.85 396.26,767.80 397.74,767.59" fill="#333"/>
<polygon points="398.40,770.85 399.06,772.19 400.54,772.40 399.47,773.45 399.72,774.92 398.40,774.23 397.08,774.92 397.33,773.45 396.26,772.40 397.74,772.19" fill="#333"/>
<polygon points="398.40,775.45 399.06,776.79 400.54,777.00 399.47,778.05 399.72,779.52 398.40,778.83 397.08,779.52 397.33,778.05 396.26,777.00 397.74,776.79" fill="#333"/>
<text x="3.50" y="518.35" font-size="18.5" text-anchor="start" fill="#231f20" font-weight="bold" transform="matrix(1 0 0 1.07 0 -35.818)" stroke="#231f20" stroke-width="0.35">I</text>
<path d="M49.8,595.5 C49.6,610 50.3,625 52,636 C53,642 54.2,646 55.3,649" stroke="#dc958d" stroke-width="1.9" fill="none" stroke-linecap="round"/>
<path d="M38,592.5 C35,596 30,598.5 24.3,600.4 L24.8,602.2 C31,601.2 36,599.6 41.5,596.5 Z" fill="#e8a098"/>
<path d="M62,592.5 C65,596 70,598.5 75.7,600.4 L75.2,602.2 C69,601.2 64,599.6 58.5,596.5 Z" fill="#e8a098"/>
<path d="M42,545.2 C36,544 31,542.3 27,539.8 L25.6,543.8 C30,547 35,550.5 40.5,553.5 Z" fill="#e6e2de" stroke="#cec6bd" stroke-width="0.6"/>
<path d="M58,545.2 C64,544 69,542.3 73,539.8 L74.4,543.8 C70,547 65,550.5 59.5,553.5 Z" fill="#e6e2de" stroke="#cec6bd" stroke-width="0.6"/>
<ellipse cx="25.80" cy="541.80" rx="2.00" ry="2.20" fill="#e8a098" stroke="none" stroke-width="1.0"/>
<ellipse cx="74.20" cy="541.80" rx="2.00" ry="2.20" fill="#e8a098" stroke="none" stroke-width="1.0"/>
<path d="M41,545 C39,550 38,556 37.8,561 C37.5,567 35,572 33,578 C31.5,583 32,590 36,593.5 C40,596 45,596.6 50,596.6 C55,596.6 60,596 64,593.5 C68,590 68.5,583 67,578 C65,572 62.5,567 62.2,561 C62,556 61,550 59,545 Z" fill="#e6e2de" stroke="#cec6bd" stroke-width="0.7"/>
<path d="M36,577 C37.5,584 41,588.5 45.5,589.5" stroke="#cec6bd" stroke-width="0.7" fill="none"/>
<path d="M64,577 C62.5,584 59,588.5 54.5,589.5" stroke="#cec6bd" stroke-width="0.7" fill="none"/>
<ellipse cx="39.00" cy="538.60" rx="2.90" ry="3.00" fill="#e8a098" stroke="none" stroke-width="1.0"/>
<ellipse cx="60.80" cy="538.60" rx="2.90" ry="3.00" fill="#e8a098" stroke="none" stroke-width="1.0"/>
<path d="M49.8,525.6 C47.5,526.5 45.5,530 43.8,533.5 C42.2,536.5 41,539.5 41.5,542 C42.5,544.5 46,545.4 50,545.2 C54,545.4 57.5,544.5 58.5,542 C59,539.5 57.8,536.5 56.2,533.5 C54.5,530 52.2,526.5 49.8,525.6 Z" fill="#eeebe8" stroke="#cec6bd" stroke-width="0.6"/>
<path d="M43,541 C46,539.5 54,539.5 57,541" stroke="#dcd6d0" stroke-width="0.8" fill="none"/>
<circle cx="49.80" cy="526.30" r="0.90" fill="#e8a098" stroke="none" stroke-width="1.0"/>
<circle cx="43.50" cy="555.60" r="4.20" fill="#efdfb6" stroke="#e0cfa0" stroke-width="0.5"/>
<g transform="rotate(-33 33 535.5)"><rect x="31.6" y="519.5" width="2.8" height="5" fill="#d8d8d8" stroke="#a8a8a8" stroke-width="0.4"/><rect x="30.3" y="524.5" width="5.4" height="1" fill="#c8c8c8"/><rect x="31.2" y="525.5" width="3.6" height="15" fill="#e8eef0" stroke="#a0a8aa" stroke-width="0.5"/><rect x="31.4" y="533" width="3.2" height="7.3" fill="#58b4b8"/><rect x="31.2" y="532.5" width="3.6" height="1" fill="#2a7a70"/><line x1="33" y1="540.5" x2="33" y2="549" stroke="#3a8a80" stroke-width="0.7"/></g>
<line x1="141.60" y1="589.30" x2="371.00" y2="589.30" stroke="#111" stroke-width="1.6"/>
<circle cx="141.40" cy="589.30" r="8.40" fill="#5b8fd2" stroke="#111" stroke-width="1.1"/>
<circle cx="244.50" cy="589.30" r="8.40" fill="#5b8fd2" stroke="#111" stroke-width="1.1"/>
<circle cx="371.00" cy="589.30" r="8.40" fill="#5b8fd2" stroke="#111" stroke-width="1.1"/>
<text x="141.60" y="542.00" font-size="11.3" text-anchor="middle" fill="#231f20" transform="matrix(1 0 0 1.07 0 -37.655)" stroke="#231f20" stroke-width="0.22">Tumor</text>
<text x="141.60" y="555.30" font-size="11.3" text-anchor="middle" fill="#231f20" transform="matrix(1 0 0 1.07 0 -38.586)" stroke="#231f20" stroke-width="0.22">inoculation</text>
<text x="243.60" y="542.00" font-size="11.3" text-anchor="middle" fill="#231f20" transform="matrix(1 0 0 1.07 0 -37.655)" stroke="#231f20" stroke-width="0.22">PTX treatment</text>
<text x="242.80" y="555.30" font-size="11.3" text-anchor="middle" fill="#231f20" transform="matrix(1 0 0 1.07 0 -38.586)" stroke="#231f20" stroke-width="0.22">10 mg/kg</text>
<text x="370.60" y="542.00" font-size="11.3" text-anchor="middle" fill="#231f20" transform="matrix(1 0 0 1.07 0 -37.655)" stroke="#231f20" stroke-width="0.22">Mice</text>
<text x="370.60" y="555.30" font-size="11.3" text-anchor="middle" fill="#231f20" transform="matrix(1 0 0 1.07 0 -38.586)" stroke="#231f20" stroke-width="0.22">sacrifice</text>
<line x1="141.40" y1="561.80" x2="141.40" y2="572.70" stroke="#111" stroke-width="1.1"/>
<polygon points="138.30,571.00 144.50,571.00 141.40,576.20" fill="#111"/>
<line x1="371.00" y1="561.80" x2="371.00" y2="572.70" stroke="#111" stroke-width="1.1"/>
<polygon points="367.90,571.00 374.10,571.00 371.00,576.20" fill="#111"/>
<line x1="244.00" y1="561.80" x2="244.00" y2="572.70" stroke="#ee3e44" stroke-width="1.1"/>
<polygon points="240.90,571.00 247.10,571.00 244.00,576.20" fill="#ee3e44"/>
<line x1="263.10" y1="561.80" x2="263.10" y2="572.70" stroke="#ee3e44" stroke-width="1.1"/>
<polygon points="260.00,571.00 266.20,571.00 263.10,576.20" fill="#ee3e44"/>
<line x1="281.70" y1="561.80" x2="281.70" y2="572.70" stroke="#ee3e44" stroke-width="1.1"/>
<polygon points="278.60,571.00 284.80,571.00 281.70,576.20" fill="#ee3e44"/>
<line x1="300.00" y1="561.80" x2="300.00" y2="572.70" stroke="#ee3e44" stroke-width="1.1"/>
<polygon points="296.90,571.00 303.10,571.00 300.00,576.20" fill="#ee3e44"/>
<line x1="318.60" y1="561.80" x2="318.60" y2="572.70" stroke="#ee3e44" stroke-width="1.1"/>
<polygon points="315.50,571.00 321.70,571.00 318.60,576.20" fill="#ee3e44"/>
<line x1="337.20" y1="561.80" x2="337.20" y2="572.70" stroke="#ee3e44" stroke-width="1.1"/>
<polygon points="334.10,571.00 340.30,571.00 337.20,576.20" fill="#ee3e44"/>
<text x="109.50" y="611.20" font-size="11.3" text-anchor="start" fill="#231f20" transform="matrix(1 0 0 1.07 0 -42.499)" stroke="#231f20" stroke-width="0.22">Days</text>
<text x="141.60" y="611.20" font-size="11.3" text-anchor="middle" fill="#231f20" transform="matrix(1 0 0 1.07 0 -42.499)" stroke="#231f20" stroke-width="0.22">1</text>
<text x="244.30" y="611.20" font-size="11.3" text-anchor="middle" fill="#231f20" transform="matrix(1 0 0 1.07 0 -42.499)" stroke="#231f20" stroke-width="0.22">21</text>
<text x="263.10" y="611.20" font-size="11.3" text-anchor="middle" fill="#231f20" transform="matrix(1 0 0 1.07 0 -42.499)" stroke="#231f20" stroke-width="0.22">23</text>
<text x="281.70" y="611.20" font-size="11.3" text-anchor="middle" fill="#231f20" transform="matrix(1 0 0 1.07 0 -42.499)" stroke="#231f20" stroke-width="0.22">25</text>
<text x="300.00" y="611.20" font-size="11.3" text-anchor="middle" fill="#231f20" transform="matrix(1 0 0 1.07 0 -42.499)" stroke="#231f20" stroke-width="0.22">27</text>
<text x="318.60" y="611.20" font-size="11.3" text-anchor="middle" fill="#231f20" transform="matrix(1 0 0 1.07 0 -42.499)" stroke="#231f20" stroke-width="0.22">29</text>
<text x="337.20" y="611.20" font-size="11.3" text-anchor="middle" fill="#231f20" transform="matrix(1 0 0 1.07 0 -42.499)" stroke="#231f20" stroke-width="0.22">31</text>
<text x="370.40" y="611.20" font-size="11.3" text-anchor="middle" fill="#231f20" transform="matrix(1 0 0 1.07 0 -42.499)" stroke="#231f20" stroke-width="0.22">35</text>
<text x="429.50" y="519.55" font-size="18.5" text-anchor="start" fill="#231f20" font-weight="bold" transform="matrix(1 0 0 1.07 0 -35.902)" stroke="#231f20" stroke-width="0.35">L</text>
<rect x="446.0" y="506.8" width="335.8" height="308.6" rx="44" ry="44" fill="#d9edf9" stroke="#5570aa" stroke-width="1.2"/>
<ellipse cx="546.20" cy="529.80" rx="23.80" ry="8.30" fill="#a3a3a3" stroke="none" stroke-width="1.0"/>
<text x="546.20" y="533.20" font-size="9.4" text-anchor="middle" fill="#222" transform="matrix(1 0 0 1.07 0 -37.087)" stroke="#222" stroke-width="0.22">USP9X</text>
<ellipse cx="506.00" cy="539.40" rx="27.50" ry="10.40" fill="#239c9c" stroke="none" stroke-width="1.0"/>
<text x="506.00" y="542.70" font-size="9.0" text-anchor="middle" fill="#fff" transform="matrix(1 0 0 1.07 0 -37.762)" stroke="#fff" stroke-width="0.22">RPS27A</text>
<ellipse cx="555.90" cy="553.30" rx="33.30" ry="14.00" fill="#f26f6f" stroke="none" stroke-width="1.0"/>
<text x="555.90" y="556.60" font-size="9.0" text-anchor="middle" fill="#222" transform="matrix(1 0 0 1.07 0 -38.735)" stroke="#222" stroke-width="0.22">PPP1R14B</text>
<ellipse cx="612.00" cy="517.40" rx="8.80" ry="7.90" fill="#b6c6e6" stroke="none" stroke-width="1.0"/>
<text x="612.00" y="521.00" font-size="8.8" text-anchor="middle" fill="#333" transform="matrix(1 0 0 1.07 0 -36.248)" stroke="#333" stroke-width="0.22">Ub</text>
<line x1="609.40" y1="512.00" x2="614.60" y2="516.80" stroke="#e82020" stroke-width="1.5"/>
<line x1="614.60" y1="512.00" x2="609.40" y2="516.80" stroke="#e82020" stroke-width="1.5"/>
<ellipse cx="597.80" cy="526.60" rx="8.80" ry="7.90" fill="#b6c6e6" stroke="none" stroke-width="1.0"/>
<text x="597.80" y="530.20" font-size="8.8" text-anchor="middle" fill="#333" transform="matrix(1 0 0 1.07 0 -36.892)" stroke="#333" stroke-width="0.22">Ub</text>
<line x1="595.20" y1="521.20" x2="600.40" y2="526.00" stroke="#e82020" stroke-width="1.5"/>
<line x1="600.40" y1="521.20" x2="595.20" y2="526.00" stroke="#e82020" stroke-width="1.5"/>
<ellipse cx="584.20" cy="535.90" rx="8.80" ry="7.90" fill="#b6c6e6" stroke="none" stroke-width="1.0"/>
<text x="584.20" y="539.50" font-size="8.8" text-anchor="middle" fill="#333" transform="matrix(1 0 0 1.07 0 -37.543)" stroke="#333" stroke-width="0.22">Ub</text>
<line x1="581.60" y1="530.50" x2="586.80" y2="535.30" stroke="#e82020" stroke-width="1.5"/>
<line x1="586.80" y1="530.50" x2="581.60" y2="535.30" stroke="#e82020" stroke-width="1.5"/>
<line x1="555.90" y1="569.90" x2="555.90" y2="584.40" stroke="#111" stroke-width="1.2"/>
<polygon points="553.30,583.40 558.50,583.40 555.90,588.00" fill="#111"/>
<ellipse cx="555.90" cy="604.60" rx="33.30" ry="14.00" fill="#f26f6f" stroke="none" stroke-width="1.0"/>
<text x="555.90" y="607.90" font-size="9.0" text-anchor="middle" fill="#222" transform="matrix(1 0 0 1.07 0 -42.326)" stroke="#222" stroke-width="0.22">PPP1R14B</text>
<text x="594.20" y="608.20" font-size="9.3" text-anchor="start" fill="#e8202a" font-weight="bold" transform="matrix(1 0 0 1.07 0 -42.340)" stroke="#e8202a" stroke-width="0.22">Upregulation in TNBC</text>
<path d="M517.6,605.4 C511,606 506.5,609 505.2,616.8" stroke="#111" stroke-width="1.1" fill="none"/>
<line x1="500.90" y1="617.20" x2="508.10" y2="617.20" stroke="#111" stroke-width="1.3"/>
<ellipse cx="501.70" cy="641.90" rx="49.10" ry="21.20" fill="#8cc540" stroke="none" stroke-width="1.0"/>
<text x="501.90" y="645.40" font-size="9.7" text-anchor="middle" fill="#2a4aa8" transform="matrix(1 0 0 1.07 0 -44.934)" stroke="#2a4aa8" stroke-width="0.22">PP1α and PP1γ</text>
<line x1="556.60" y1="622.80" x2="556.60" y2="660.50" stroke="#111" stroke-width="1.2"/>
<polygon points="554.00,659.50 559.20,659.50 556.60,664.10" fill="#111"/>
<ellipse cx="555.60" cy="678.90" rx="22.30" ry="10.20" fill="#6b6b6b" stroke="#555" stroke-width="0.5"/>
<text x="555.60" y="682.10" font-size="9.0" text-anchor="middle" fill="#fff" transform="matrix(1 0 0 1.07 0 -47.520)" stroke="#fff" stroke-width="0.22">STMN1</text>
<circle cx="577.20" cy="666.60" r="8.40" fill="#f7e50a" stroke="none" stroke-width="1.0"/>
<text x="577.60" y="668.80" font-size="9" text-anchor="middle" fill="#333" transform="matrix(1 0 0 1.07 0 -46.589)" stroke="#333" stroke-width="0.22">p</text>
<path d="M503.3,666.6 C504,672 508,676.5 515.3,676.8" stroke="#111" stroke-width="1.1" fill="none"/>
<line x1="515.50" y1="673.30" x2="515.50" y2="679.80" stroke="#111" stroke-width="1.3"/>
<line x1="556.60" y1="693.70" x2="556.60" y2="704.60" stroke="#111" stroke-width="1.2"/>
<polygon points="554.00,703.60 559.20,703.60 556.60,708.20" fill="#111"/>
<ellipse cx="556.10" cy="727.90" rx="39.50" ry="17.20" fill="#3ec0d0" stroke="none" stroke-width="1.0"/>
<text x="555.60" y="725.30" font-size="9.0" text-anchor="middle" fill="#222" transform="matrix(1 0 0 1.07 0 -50.544)" stroke="#222" stroke-width="0.22">STMN1</text>
<text x="555.80" y="736.80" font-size="9.0" text-anchor="middle" fill="#222" transform="matrix(1 0 0 1.07 0 -51.349)" stroke="#222" stroke-width="0.22">stability</text>
<line x1="580.30" y1="736.30" x2="580.30" y2="725.30" stroke="#e8202a" stroke-width="1.8"/>
<polygon points="576.50,726.30 584.10,726.30 580.30,720.50" fill="#e8202a"/>
<line x1="556.60" y1="749.00" x2="556.60" y2="759.40" stroke="#111" stroke-width="1.2"/>
<polygon points="554.00,758.40 559.20,758.40 556.60,763.00" fill="#111"/>
<polygon points="540.90,761.60 554.80,772.00 562.30,763.00 568.00,771.40 583.80,764.30 578.70,778.30 593.20,777.10 585.70,783.40 604.20,789.70 585.70,795.40 585.90,810.00 575.60,802.90 569.30,810.60 561.70,803.50 553.50,807.50 543.40,801.70 528.70,808.20 530.20,798.50 517.30,795.40 526.40,787.80 516.00,780.90 530.80,779.00 524.30,769.90 540.30,773.90" fill="#b01e2c"/>
<text x="554.80" y="783.40" font-size="9.3" text-anchor="middle" fill="#f6e4e4" transform="matrix(1 0 0 1.07 0 -54.604)" stroke="#f6e4e4" stroke-width="0.22">TNBC</text>
<text x="556.00" y="792.80" font-size="9.3" text-anchor="middle" fill="#f6e4e4" transform="matrix(1 0 0 1.07 0 -55.262)" stroke="#f6e4e4" stroke-width="0.22">progression</text>
<polyline points="602.00,727.90 636.50,727.90 636.50,649.60 667.50,649.60" stroke="#111" stroke-width="1.2" fill="none"/>
<polygon points="666.5,646.8 666.5,652.4 671.5,649.6" fill="#111"/>
<ellipse cx="706.20" cy="650.40" rx="20.70" ry="8.70" fill="#e574b2" stroke="none" stroke-width="1.0"/>
<text x="706.20" y="653.60" font-size="9.0" text-anchor="middle" fill="#222" transform="matrix(1 0 0 1.07 0 -45.525)" stroke="#222" stroke-width="0.22">Tubulin</text>
<ellipse cx="726.20" cy="637.00" rx="9.10" ry="7.30" fill="#6f7272" stroke="none" stroke-width="1.0"/>
<text x="726.20" y="639.80" font-size="7.5" text-anchor="middle" fill="#e8e8e8" transform="matrix(1 0 0 1.07 0 -44.597)" stroke="#e8e8e8" stroke-width="0.22">Ace</text>
<line x1="740.70" y1="643.50" x2="740.70" y2="653.70" stroke="#e8202a" stroke-width="1.8"/>
<polygon points="736.90,652.70 744.50,652.70 740.70,658.50" fill="#e8202a"/>
<line x1="707.00" y1="663.70" x2="707.00" y2="675.20" stroke="#111" stroke-width="1.2"/>
<polygon points="704.40,674.20 709.60,674.20 707.00,678.80" fill="#111"/>
<rect x="660.10" y="683.70" width="99.60" height="16.50" fill="#ddd6ed" stroke="none" stroke-width="1.0"/>
<text x="666.40" y="695.30" font-size="9.1" text-anchor="start" fill="#222" transform="matrix(1 0 0 1.07 0 -48.442)" stroke="#222" stroke-width="0.22">Microtubule stability</text>
<line x1="754.10" y1="684.40" x2="754.10" y2="695.20" stroke="#e8202a" stroke-width="1.8"/>
<polygon points="750.30,694.20 757.90,694.20 754.10,700.00" fill="#e8202a"/>
<line x1="707.00" y1="705.50" x2="707.00" y2="716.00" stroke="#111" stroke-width="1.2"/>
<polygon points="704.40,715.00 709.60,715.00 707.00,719.60" fill="#111"/>
<rect x="643.60" y="725.00" width="129.40" height="17.20" fill="#ddd6ed" stroke="none" stroke-width="1.0"/>
<text x="650.20" y="736.60" font-size="9.25" text-anchor="start" fill="#222" transform="matrix(1 0 0 1.07 0 -51.329)" stroke="#222" stroke-width="0.22">Cell pass through M phase</text>
<line x1="768.20" y1="741.00" x2="768.20" y2="731.30" stroke="#e8202a" stroke-width="1.8"/>
<polygon points="764.40,732.30 772.00,732.30 768.20,726.50" fill="#e8202a"/>
<line x1="707.00" y1="746.80" x2="707.00" y2="757.30" stroke="#111" stroke-width="1.2"/>
<polygon points="704.40,756.30 709.60,756.30 707.00,760.90" fill="#111"/>
<path d="M676,772 C674,765 686,763 690,767 C693,762 704,762 707,767 C711,762 722,763 724,768 C730,764 742,768 738,775 C746,777 747,787 740,790 C745,796 738,803 730,801 C728,808 716,810 711,805 C706,811 692,810 690,804 C683,809 670,806 673,799 C666,798 665,788 671,786 C665,782 668,772 676,772 Z" fill="#4cbfee" stroke="#2a4e8a" stroke-width="0.9" transform="translate(1.8 2.0)"/>
<text x="706.00" y="786.20" font-size="9.4" text-anchor="middle" fill="#222" transform="matrix(1 0 0 1.07 0 -54.797)" stroke="#222" stroke-width="0.22">Paclitaxel</text>
<text x="707.20" y="797.00" font-size="9.4" text-anchor="middle" fill="#222" transform="matrix(1 0 0 1.07 0 -55.553)" stroke="#222" stroke-width="0.22">resistance</text>
</svg>
</body></html>
